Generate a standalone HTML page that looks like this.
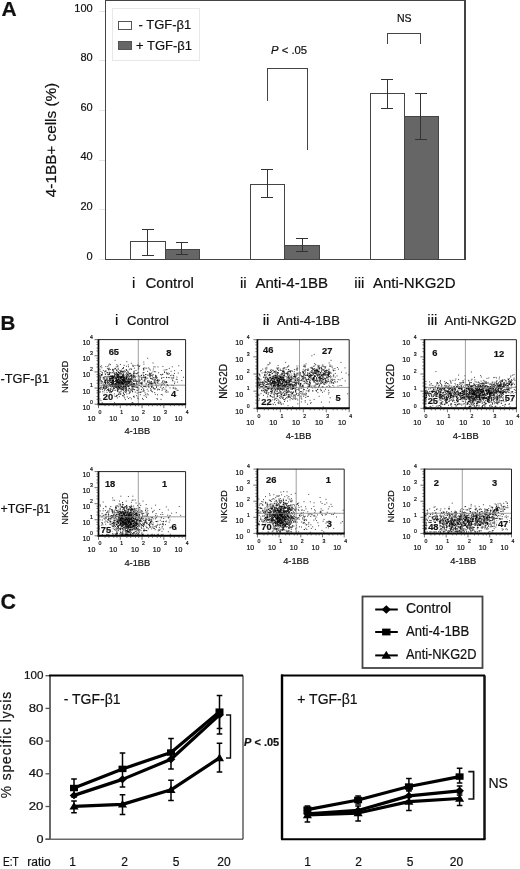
<!DOCTYPE html><html><head><meta charset="utf-8"><title>Figure</title>
<style>html,body{margin:0;padding:0;background:#fff}svg{display:block}text{font-family:"Liberation Sans", sans-serif;fill:#111;stroke:#111;stroke-width:0.2px}.c text{font-family:"Liberation Sans", sans-serif}</style></head><body>
<svg width="520" height="869" viewBox="0 0 520 869">
<rect width="520" height="869" fill="#fff"/>
<g id="A" shape-rendering="crispEdges">
<text x="1.5" y="15.7" font-size="21" font-weight="bold">A</text>
<rect x="105.5" y="0.8" width="359.5" height="258.4" fill="none" stroke="#444" stroke-width="1.3"/>
<text x="92.7" y="259.5" font-size="11" text-anchor="end">0</text>
<path d="M99 259.2H105" stroke="#e4e4e4" stroke-width="1"/>
<text x="92.7" y="209.9" font-size="11" text-anchor="end">20</text>
<path d="M99 209.6H105" stroke="#e4e4e4" stroke-width="1"/>
<text x="92.7" y="160.3" font-size="11" text-anchor="end">40</text>
<path d="M99 160H105" stroke="#e4e4e4" stroke-width="1"/>
<text x="92.7" y="110.7" font-size="11" text-anchor="end">60</text>
<path d="M99 110.4H105" stroke="#e4e4e4" stroke-width="1"/>
<text x="92.7" y="61.1" font-size="11" text-anchor="end">80</text>
<path d="M99 60.8H105" stroke="#e4e4e4" stroke-width="1"/>
<text x="92.7" y="11.5" font-size="11" text-anchor="end">100</text>
<path d="M99 11.2H105" stroke="#e4e4e4" stroke-width="1"/>
<text transform="translate(56,140) rotate(-90)" font-size="15.3" text-anchor="middle">4-1BB+ cells (%)</text>
<rect x="112.5" y="8.5" width="87" height="51.5" fill="#fff" stroke="#e8e8e8" stroke-width="1"/>
<rect x="118.5" y="21" width="12.5" height="8.5" fill="#fff" stroke="#555" stroke-width="1"/>
<rect x="118.5" y="41" width="12.5" height="8.5" fill="#666" stroke="#555" stroke-width="1"/>
<text x="138.5" y="29" font-size="13">- TGF-β1</text>
<text x="136" y="49.5" font-size="13">+ TGF-β1</text>
<rect x="130" y="241.7" width="35" height="17.5" fill="#fff" stroke="#444" stroke-width="1"/>
<rect x="165" y="249" width="34.8" height="10.2" fill="#666" stroke="#444" stroke-width="1"/>
<rect x="250" y="184.9" width="34.7" height="74.3" fill="#fff" stroke="#444" stroke-width="1"/>
<rect x="284.7" y="245" width="35" height="14.2" fill="#666" stroke="#444" stroke-width="1"/>
<rect x="370" y="93" width="34.5" height="166.2" fill="#fff" stroke="#444" stroke-width="1"/>
<rect x="404.5" y="116.2" width="34.3" height="143" fill="#666" stroke="#444" stroke-width="1"/>
<path d="M147.7 229V255.4M141.7 229h12M141.7 255.4h12" fill="none" stroke="#333" stroke-width="1"/>
<path d="M181.8 242.5V254.6M175.8 242.5h12M175.8 254.6h12" fill="none" stroke="#333" stroke-width="1"/>
<path d="M267 169.2V197.3M261 169.2h12M261 197.3h12" fill="none" stroke="#333" stroke-width="1"/>
<path d="M302 238.8V251.7M296 238.8h12M296 251.7h12" fill="none" stroke="#333" stroke-width="1"/>
<path d="M387.2 79.2V108M381.2 79.2h12M381.2 108h12" fill="none" stroke="#333" stroke-width="1"/>
<path d="M420.7 93V139.5M414.7 93h12M414.7 139.5h12" fill="none" stroke="#333" stroke-width="1"/>
<path d="M267 101V68.7H307.6V149.5" fill="none" stroke="#444" stroke-width="1"/>
<path d="M387.3 43.5V33.7H420.8V43.5" fill="none" stroke="#444" stroke-width="1"/>
<text x="271" y="53.8" font-size="11.3"><tspan font-style="italic">P</tspan> &lt; .05</text>
<text x="397" y="22.3" font-size="10.5">NS</text>
<text x="132" y="287.5" font-size="15">i</text><text x="145.5" y="287.5" font-size="15">Control</text>
<text x="240" y="287.5" font-size="15">ii</text><text x="255.5" y="287.5" font-size="15">Anti-4-1BB</text>
<text x="354.3" y="287.5" font-size="15">iii</text><text x="373" y="287.5" font-size="15">Anti-NKG2D</text>
</g>
<g id="B">
<text x="0.5" y="329.8" font-size="20.5" font-weight="bold">B</text>
<text x="115" y="324.5" font-size="15">i</text><text x="127" y="324.5" font-size="13">Control</text>
<text x="262.7" y="324.5" font-size="15">ii</text><text x="277" y="324.5" font-size="13">Anti-4-1BB</text>
<text x="427.3" y="324.5" font-size="15">iii</text><text x="444.5" y="324.5" font-size="13.1">Anti-NKG2D</text>
<text x="0.5" y="383" font-size="13.5" textLength="48.5" lengthAdjust="spacingAndGlyphs">-TGF-β1</text>
<text x="0.5" y="513" font-size="13.5" textLength="50" lengthAdjust="spacingAndGlyphs">+TGF-β1</text>
<path d="M115.7 384.1h1M116.0 379.1h1M109.6 379.7h1M128.0 383.5h1M127.3 382.5h1M121.6 382.1h1M103.0 386.1h1M122.6 384.0h1M102.8 370.5h1M110.0 378.2h1M120.7 380.7h1M122.7 377.1h1M120.8 383.4h1M112.0 391.3h1M123.0 388.2h1M112.4 376.6h1M114.9 380.4h1M123.7 382.5h1M114.0 375.3h1M113.3 388.3h1M110.7 382.5h1M121.8 372.1h1M118.4 388.8h1M99.9 379.1h1M117.0 376.1h1M122.5 380.6h1M104.8 386.0h1M124.0 386.7h1M131.0 383.2h1M119.1 373.2h1M123.5 377.3h1M113.9 373.4h1M109.3 377.8h1M129.6 368.8h1M104.9 382.4h1M131.0 384.5h1M100.9 365.9h1M121.2 376.6h1M107.9 386.9h1M127.9 381.9h1M120.2 383.6h1M132.3 384.7h1M122.7 384.3h1M103.9 388.7h1M126.6 384.2h1M100.2 377.2h1M125.6 370.1h1M116.3 387.1h1M106.2 390.7h1M123.0 380.1h1M120.9 384.9h1M119.1 387.9h1M112.0 378.5h1M127.4 381.2h1M110.1 386.7h1M131.2 378.3h1M105.6 380.2h1M116.7 379.2h1M130.6 374.8h1M129.3 373.4h1M110.9 384.8h1M128.2 386.2h1M121.1 381.9h1M119.4 384.5h1M116.4 382.7h1M123.2 381.0h1M124.9 384.4h1M136.1 382.9h1M114.2 378.8h1M117.9 386.5h1M115.0 383.3h1M134.5 365.6h1M107.9 382.5h1M121.6 382.4h1M114.1 384.9h1M120.5 377.9h1M139.9 383.1h1M113.0 380.4h1M116.0 380.6h1M99.5 378.1h1M127.1 374.0h1M117.4 386.7h1M125.7 389.9h1M102.7 378.9h1M114.9 384.7h1M127.8 364.9h1M127.8 372.3h1M124.1 372.0h1M119.6 388.2h1M116.7 382.1h1M125.2 381.8h1M117.2 390.2h1M127.4 379.2h1M142.7 374.1h1M126.2 379.4h1M119.2 385.2h1M120.0 384.8h1M104.3 371.9h1M123.5 375.2h1M108.8 372.2h1M129.4 385.5h1M131.3 375.4h1M118.0 374.2h1M124.9 390.5h1M110.0 390.4h1M126.9 379.9h1M100.3 389.4h1M117.1 377.4h1M121.6 383.5h1M131.5 374.9h1M128.2 389.9h1M131.1 379.9h1M111.3 387.1h1M119.0 381.7h1M130.8 379.4h1M101.3 385.9h1M120.9 377.3h1M117.9 386.0h1M118.7 389.0h1M117.4 387.2h1M131.4 390.7h1M112.0 386.3h1M101.1 374.5h1M100.3 387.4h1M106.9 380.9h1M116.3 380.8h1M112.7 382.4h1M134.1 381.3h1M122.8 387.0h1M116.2 373.4h1M113.0 387.4h1M103.2 377.4h1M127.1 385.8h1M118.1 385.8h1M119.5 373.9h1M103.9 377.2h1M126.3 377.6h1M109.9 376.4h1M104.2 380.3h1M107.4 383.2h1M112.2 369.3h1M124.5 379.3h1M99.5 375.7h1M120.6 378.2h1M125.0 385.5h1M124.0 383.0h1M130.0 385.0h1M122.1 368.5h1M126.1 388.9h1M115.3 378.2h1M135.5 370.5h1M122.2 395.5h1M109.7 385.1h1M135.0 380.3h1M123.1 386.4h1M109.8 380.5h1M120.6 386.0h1M117.7 379.8h1M108.9 378.8h1M126.0 381.6h1M110.3 376.0h1M142.0 387.8h1M123.7 365.4h1M123.6 383.9h1M133.2 383.6h1M117.4 384.1h1M100.5 387.2h1M120.9 376.8h1M129.9 391.9h1M105.4 377.0h1M120.6 382.1h1M114.4 375.2h1M137.1 387.2h1M107.3 372.9h1M133.3 386.9h1M134.4 385.9h1M110.2 382.6h1M99.5 376.5h1M117.5 384.1h1M111.5 380.3h1M122.1 383.3h1M123.7 382.3h1M115.1 385.7h1M118.4 376.0h1M112.4 381.0h1M117.0 381.9h1M118.0 382.1h1M116.8 373.4h1M121.8 387.3h1M121.9 379.9h1M122.0 375.2h1M100.9 381.4h1M109.6 385.4h1M108.2 365.2h1M108.6 390.5h1M114.6 372.8h1M111.1 384.1h1M122.5 382.1h1M131.4 385.2h1M117.8 384.6h1M132.9 386.8h1M127.2 374.5h1M116.7 385.4h1M115.3 387.4h1M123.4 386.4h1M116.1 396.3h1M129.2 379.7h1M118.8 396.6h1M114.9 386.2h1M126.8 381.0h1M107.5 382.1h1M121.2 387.8h1M125.0 381.1h1M125.7 384.2h1M119.9 381.3h1M115.8 385.1h1M108.5 377.2h1M118.0 372.2h1M114.1 368.9h1M111.9 384.4h1M123.1 380.7h1M115.9 372.5h1M134.5 384.1h1M127.8 375.7h1M116.3 370.1h1M125.0 386.6h1M100.9 380.7h1M123.7 370.4h1M101.6 374.6h1M112.3 372.6h1M118.3 382.5h1M123.7 385.2h1M131.5 388.0h1M106.2 378.0h1M108.5 374.5h1M117.3 381.0h1M122.4 371.5h1M106.9 380.9h1M116.2 379.1h1M117.4 376.4h1M124.3 383.1h1M117.2 377.0h1M116.4 364.7h1M109.2 381.2h1M104.5 382.2h1M119.3 372.7h1M115.7 379.1h1M122.1 384.7h1M117.7 375.9h1M116.7 380.6h1M124.6 382.8h1M111.5 372.9h1M114.6 376.6h1M108.0 380.3h1M113.6 381.6h1M122.7 378.5h1M138.9 379.1h1M127.9 381.7h1M128.0 366.7h1M111.2 382.5h1M123.4 395.0h1M120.9 388.7h1M124.9 386.7h1M122.6 380.1h1M122.6 374.5h1M128.6 374.9h1M120.2 393.7h1M116.0 381.1h1M128.5 381.2h1M110.7 382.5h1M123.2 385.3h1M111.0 391.5h1M133.0 381.1h1M120.4 378.4h1M130.7 376.8h1M124.1 378.1h1M111.8 385.3h1M130.0 380.9h1M111.9 385.9h1M117.6 382.9h1M131.7 387.8h1M113.3 394.7h1M118.0 385.7h1M112.2 380.7h1M102.3 391.7h1M130.3 373.7h1M104.5 371.3h1M128.6 378.2h1M117.5 379.1h1M116.9 374.5h1M118.2 372.4h1M117.4 382.9h1M122.2 379.6h1M109.9 382.0h1M113.6 390.4h1M124.9 380.3h1M113.8 376.8h1M109.6 378.9h1M120.7 384.1h1M123.1 393.6h1M111.7 381.1h1M143.2 369.8h1M113.3 382.0h1M119.4 383.4h1M115.9 383.2h1M118.5 385.6h1M101.0 375.7h1M118.0 374.8h1M108.6 384.8h1M112.2 384.8h1M124.7 382.8h1M122.6 380.4h1M105.3 380.8h1M122.1 377.8h1M117.1 385.5h1M110.1 384.8h1M134.8 377.7h1M119.3 380.1h1M131.9 382.9h1M126.1 376.9h1M117.9 380.9h1M102.0 389.6h1M126.1 370.5h1M124.7 380.2h1M122.0 383.2h1M104.5 379.7h1M131.4 377.6h1M108.8 372.8h1M107.0 383.0h1M133.2 383.6h1M120.2 394.4h1M113.3 377.0h1M122.8 384.3h1M108.9 374.0h1M120.6 382.5h1M106.2 379.8h1M113.1 383.8h1M116.9 380.5h1M114.8 387.3h1M130.5 378.8h1M125.6 376.5h1M118.6 385.5h1M131.6 378.7h1M117.3 382.2h1M104.5 381.1h1M111.9 383.2h1M107.8 369.1h1M118.3 382.6h1M113.1 386.3h1M115.5 377.4h1M122.3 371.6h1M111.9 380.9h1M125.6 380.0h1M120.8 377.1h1M120.7 391.0h1M111.8 395.2h1M112.2 381.1h1M119.6 387.1h1M106.9 368.4h1M123.5 385.8h1M123.6 396.8h1M119.8 382.5h1M126.4 383.2h1M133.0 373.6h1M114.6 360.3h1M125.3 378.8h1M126.3 393.9h1M117.9 379.5h1M113.5 376.0h1M112.3 384.8h1M118.3 381.4h1M116.4 386.5h1M122.4 380.1h1M124.0 380.1h1M107.6 389.7h1M122.2 375.3h1M127.7 383.1h1M103.9 390.7h1M121.0 386.3h1M119.8 380.1h1M104.1 386.8h1M118.3 379.3h1M121.2 381.5h1M124.1 378.8h1M117.7 368.2h1M114.2 385.1h1M130.0 378.8h1M116.9 390.5h1M115.1 385.4h1M133.1 381.2h1M129.0 376.7h1M119.9 380.5h1M119.0 387.8h1M139.5 377.0h1M112.8 384.0h1M108.5 384.0h1M123.1 379.3h1M122.8 371.7h1M124.8 371.7h1M111.7 377.7h1M114.4 386.2h1M118.7 378.6h1M122.9 390.5h1M118.1 383.2h1M129.2 382.6h1M106.4 395.9h1M137.9 369.1h1M117.6 383.5h1M126.7 385.0h1M115.6 374.7h1M118.9 387.2h1M108.2 374.8h1M117.8 369.4h1M115.7 378.4h1M122.1 376.8h1M110.1 378.6h1M117.6 377.0h1M118.1 385.5h1M128.7 391.2h1M110.9 378.5h1M99.5 392.4h1M111.5 380.8h1M122.7 372.8h1M122.2 380.8h1M101.6 382.8h1M128.8 369.8h1M125.3 382.3h1M122.3 383.6h1M129.7 379.7h1M125.9 378.5h1M124.6 376.1h1M117.0 391.4h1M122.0 380.1h1M107.7 376.3h1M119.7 386.6h1M121.8 384.1h1M117.6 389.1h1M114.5 377.7h1M126.0 381.4h1M115.5 377.5h1M115.7 384.7h1M121.2 373.7h1M121.8 382.1h1M109.0 385.6h1M115.5 379.0h1M125.2 388.9h1M111.8 383.6h1M110.1 394.9h1M113.6 388.2h1M112.2 385.9h1M138.0 365.8h1M114.1 384.0h1M117.2 377.0h1M137.4 381.5h1M103.2 386.1h1M102.5 387.9h1M112.8 381.9h1M129.3 381.7h1M105.5 370.8h1M128.6 385.4h1M110.7 386.2h1M122.5 384.9h1M99.5 379.2h1M126.1 385.4h1M125.9 366.3h1M119.5 384.0h1M141.0 375.3h1M115.0 381.2h1M126.0 378.3h1M128.3 376.3h1M120.4 377.8h1M119.4 376.9h1M103.6 387.6h1M120.7 377.6h1M119.8 386.9h1M109.2 380.3h1M122.9 384.2h1M115.0 368.4h1M129.2 383.0h1M118.1 379.3h1M120.4 378.4h1M108.8 376.6h1M112.6 377.3h1M107.6 384.8h1M106.2 385.0h1M108.9 383.1h1M130.4 382.2h1M111.4 381.3h1M119.3 370.6h1M112.5 382.0h1M113.8 381.5h1M124.6 385.6h1M126.2 384.5h1M115.4 380.9h1M115.6 379.1h1M116.4 370.7h1M115.0 380.9h1M109.2 380.9h1M122.6 380.0h1M136.7 365.4h1M116.1 370.0h1M126.8 396.9h1M99.5 381.8h1M122.7 379.2h1M123.0 367.5h1M125.7 383.2h1M118.2 377.5h1M123.7 378.1h1M120.0 377.9h1M119.8 385.5h1M110.1 380.8h1M123.6 381.9h1M129.2 392.9h1M109.8 369.5h1M125.7 390.2h1M126.3 385.9h1M112.4 376.7h1M126.0 375.5h1M101.7 375.0h1M140.4 392.5h1M111.8 376.6h1M120.1 376.5h1M129.8 380.5h1M108.2 388.9h1M112.8 382.3h1M117.9 379.1h1M120.9 376.8h1M101.4 367.8h1M106.6 376.4h1M117.8 381.3h1M123.0 381.7h1M110.9 376.7h1M99.5 380.0h1M122.4 384.2h1M116.9 380.0h1M126.4 381.1h1M124.6 384.5h1M119.9 388.8h1M112.8 378.8h1M110.7 376.2h1M132.0 391.6h1M118.2 384.4h1M128.6 385.8h1M128.8 373.4h1M112.2 383.7h1M130.9 381.6h1M110.3 378.9h1M112.1 375.9h1M131.5 377.2h1M118.2 394.0h1M128.7 383.0h1M112.5 383.5h1M132.6 384.7h1M129.4 381.6h1M122.6 379.8h1M121.8 388.8h1M105.1 380.6h1M120.2 377.6h1M115.2 385.7h1M136.0 384.8h1M120.9 371.7h1M135.3 381.5h1M117.7 374.3h1M117.5 374.4h1M118.6 383.8h1M118.3 382.7h1M110.3 389.6h1M112.1 370.1h1M116.3 376.4h1M108.9 378.9h1M120.6 373.9h1M116.8 389.6h1M124.1 380.1h1M119.1 380.3h1M117.6 385.4h1M117.2 366.6h1M117.8 375.7h1M123.9 377.3h1M119.3 394.1h1M108.6 374.3h1M105.3 366.6h1M101.1 383.2h1M112.3 369.8h1M104.7 384.7h1M111.0 378.8h1M121.0 389.1h1M135.5 387.2h1M119.3 382.1h1M134.2 389.6h1M115.2 383.7h1M120.6 381.3h1M113.5 373.0h1M113.2 371.7h1M129.0 384.2h1M107.1 389.4h1M126.0 369.5h1M134.6 385.9h1M136.6 373.6h1M122.8 383.5h1M119.8 382.0h1M127.5 372.0h1M106.8 372.6h1M113.0 377.4h1M121.3 382.6h1M118.3 376.9h1M114.0 386.7h1M124.9 381.6h1M115.1 390.3h1M112.7 384.9h1M128.4 379.4h1M125.4 374.3h1M127.1 382.2h1M103.7 385.0h1M110.0 388.7h1M111.9 380.0h1M120.5 379.0h1M120.3 377.7h1M124.0 381.0h1M119.9 364.5h1M128.5 381.2h1M102.0 381.6h1M122.2 387.4h1M108.3 390.3h1M116.6 395.4h1M116.7 385.1h1M114.7 374.3h1M127.9 386.4h1M131.8 386.1h1M112.8 371.0h1M112.1 376.9h1M110.7 384.5h1M121.0 379.4h1M119.6 380.1h1M119.9 385.5h1M126.6 376.9h1M104.4 389.6h1M119.0 387.6h1M103.2 379.0h1M118.2 372.4h1M113.4 385.3h1M127.7 390.6h1M110.2 372.6h1M122.7 386.6h1M119.7 373.2h1M125.0 385.8h1M123.0 378.1h1M120.7 385.7h1M113.0 369.9h1M121.0 383.9h1M118.1 386.3h1M112.7 380.5h1M115.3 384.4h1M132.4 379.5h1M136.5 390.2h1M125.1 384.5h1M133.9 379.9h1M117.0 374.6h1M122.3 389.1h1M122.8 383.5h1M116.2 382.0h1M105.2 387.3h1M114.3 374.4h1M111.2 376.1h1M125.7 387.3h1M105.8 386.6h1M126.0 377.5h1M104.6 376.5h1M112.3 383.1h1M114.8 368.8h1M120.1 371.8h1M126.1 373.8h1M111.8 375.9h1M113.1 388.8h1M125.7 384.6h1M120.9 371.7h1M113.3 377.7h1M109.2 384.1h1M111.3 376.7h1M108.6 368.7h1M123.4 389.0h1M119.6 375.1h1M128.9 382.8h1M126.3 389.9h1M128.1 378.4h1M127.5 385.7h1M104.2 378.6h1M105.2 380.3h1M123.2 374.6h1M99.5 388.8h1M121.4 389.8h1M106.1 387.4h1M136.7 393.0h1M116.1 382.6h1M116.6 387.0h1M127.3 381.5h1M105.8 385.4h1M117.0 388.7h1M129.5 397.6h1M144.3 378.9h1M130.9 398.9h1M115.9 386.9h1M145.2 394.3h1M133.8 371.1h1M103.6 385.2h1M131.6 402.7h1M110.4 393.2h1M138.1 368.0h1M111.1 384.5h1M116.6 381.6h1M133.0 375.7h1M132.9 377.3h1M115.7 387.8h1M115.3 385.6h1M152.2 383.2h1M122.5 389.6h1M118.8 392.7h1M103.2 388.6h1M116.3 375.8h1M155.1 375.3h1M154.9 388.9h1M149.7 374.2h1M145.4 396.1h1M123.0 381.8h1M166.8 384.6h1M117.8 377.3h1M132.6 386.0h1M128.0 398.5h1M119.4 387.3h1M149.8 374.0h1M142.7 399.5h1M102.0 373.1h1M107.3 366.4h1M132.7 366.3h1M133.5 396.1h1M112.5 380.6h1M125.9 387.9h1M119.1 383.1h1M115.7 384.0h1M105.1 383.6h1M157.6 383.7h1M103.6 385.3h1M108.5 368.1h1M112.5 389.6h1M131.5 382.1h1M109.2 373.3h1M147.9 385.2h1M108.8 364.0h1M101.7 402.7h1M105.5 382.3h1M128.6 381.6h1M120.3 370.6h1M107.1 398.2h1M112.1 390.6h1M129.4 392.3h1M105.9 388.4h1M131.6 376.4h1M133.1 374.9h1M111.5 382.8h1M108.0 369.8h1M117.8 389.9h1M118.1 394.4h1M105.3 371.2h1M151.4 386.6h1M141.1 375.6h1M138.7 385.3h1M136.0 383.2h1M145.5 377.2h1M108.6 369.7h1M144.7 376.4h1M107.3 374.5h1M117.4 371.6h1M120.1 377.4h1M115.6 374.4h1M125.6 378.9h1M127.0 385.2h1M130.8 363.3h1M115.9 375.8h1M138.2 368.8h1M112.9 380.4h1M119.3 391.9h1M117.5 391.7h1M100.1 366.7h1M145.7 386.9h1M133.3 384.1h1M133.2 372.1h1M141.1 378.2h1M141.8 383.8h1M144.2 381.8h1M118.3 385.2h1M117.8 378.1h1M126.7 384.3h1M150.8 383.4h1M157.0 399.2h1M154.2 392.6h1M127.2 384.2h1M122.6 376.4h1M123.9 377.2h1M152.9 387.8h1M117.4 365.8h1M124.1 379.3h1M106.5 372.8h1M99.5 388.1h1M124.5 381.7h1M149.6 384.2h1M127.8 379.7h1M114.7 396.5h1M142.0 398.4h1M119.1 383.3h1M110.0 391.7h1M101.3 388.1h1M143.6 395.7h1M109.0 392.8h1M112.9 376.2h1M102.5 393.4h1M153.0 377.7h1M112.1 379.9h1M167.6 392.0h1M115.8 366.9h1M113.6 393.7h1M156.8 380.6h1M113.2 378.4h1M106.5 392.6h1M129.9 376.1h1M138.3 383.1h1M105.0 388.6h1M139.3 365.8h1M156.0 387.5h1M137.9 366.3h1M112.8 379.9h1M143.3 369.9h1M110.0 364.7h1M120.9 386.1h1M99.5 377.7h1M133.7 397.3h1M136.3 380.3h1M105.0 374.6h1M113.7 384.3h1M124.2 398.0h1M129.9 373.4h1M151.3 391.5h1M126.7 376.5h1M99.5 373.8h1M140.5 375.8h1M102.6 384.8h1M129.1 388.5h1M136.1 395.7h1M110.7 391.8h1M108.2 389.2h1M128.0 385.2h1M141.5 382.8h1M143.9 390.9h1M127.3 377.9h1M112.2 378.3h1M121.6 382.8h1M175.7 388.7h1M138.1 375.3h1M112.9 380.1h1M128.3 373.7h1M152.4 377.9h1M143.3 362.0h1M124.9 385.5h1M128.3 388.4h1M129.8 384.5h1M130.2 381.2h1M111.0 377.8h1M156.4 398.6h1M124.0 394.6h1M116.8 375.1h1M115.5 384.7h1M176.4 377.1h1M125.8 385.5h1M124.4 391.4h1M155.2 371.8h1M127.7 380.6h1M131.1 369.2h1M133.9 384.7h1M126.3 361.7h1M118.6 376.2h1M101.0 374.8h1M136.9 387.9h1M124.6 387.6h1M114.7 383.6h1M125.7 388.0h1M123.8 381.7h1M122.7 377.2h1M163.0 387.6h1M132.3 402.7h1M148.9 369.0h1M136.8 390.5h1M157.0 394.8h1M138.1 372.4h1M110.2 385.4h1M133.6 373.8h1M118.5 379.4h1M126.0 386.0h1M120.1 371.9h1M146.1 397.4h1M123.2 392.2h1M132.6 388.9h1M133.2 376.1h1M134.8 392.1h1M109.8 400.7h1M160.5 399.4h1M158.8 389.7h1M119.2 377.6h1M111.2 384.0h1M124.4 389.0h1M163.7 382.8h1M136.5 387.3h1M129.6 381.1h1M122.9 375.6h1M128.0 382.8h1M130.4 375.3h1M125.7 383.4h1M135.3 373.4h1M132.1 391.8h1M135.2 379.7h1M116.6 380.9h1M137.4 397.0h1M122.3 377.2h1M131.4 384.8h1M109.6 376.4h1M123.3 389.0h1M104.7 373.8h1M133.5 372.0h1M126.9 386.2h1M123.1 373.8h1M124.0 380.0h1M130.7 375.5h1M143.6 367.9h1M122.0 383.1h1M141.3 377.5h1M134.3 377.9h1M137.5 398.6h1M118.2 387.0h1M109.2 391.8h1M145.6 383.3h1M105.7 386.6h1M144.5 392.8h1M138.8 366.5h1M113.4 395.8h1M104.2 393.2h1M157.0 389.9h1M144.0 380.0h1M104.2 382.1h1M121.6 382.6h1M136.8 381.7h1M128.3 386.8h1M124.9 399.6h1M132.5 383.8h1M121.5 377.4h1M147.9 384.4h1M106.7 377.9h1M122.7 379.0h1M143.4 372.5h1M133.4 384.3h1M105.0 383.4h1M123.4 387.5h1M117.3 385.7h1M138.3 392.4h1M124.8 377.6h1M143.4 364.2h1M111.4 389.0h1M136.1 373.7h1M127.6 374.9h1M125.9 391.1h1M137.6 364.3h1M138.1 367.0h1M144.4 386.6h1M163.3 377.5h1M125.1 392.4h1M114.1 376.7h1M118.7 382.3h1M106.6 387.4h1M134.2 383.6h1M153.9 380.1h1M147.2 378.1h1M137.8 365.6h1M128.4 381.4h1M116.6 377.5h1M119.1 376.5h1M115.7 378.3h1M107.0 381.8h1M138.3 380.7h1M116.6 395.2h1M141.6 391.3h1M144.6 380.1h1M122.8 393.0h1M115.6 381.9h1M131.4 386.4h1M120.3 391.9h1M122.0 389.5h1M143.2 388.9h1M137.5 372.6h1M102.7 377.4h1M133.1 396.5h1M104.2 385.8h1M110.5 376.4h1M120.3 389.2h1M128.6 393.6h1M108.2 391.0h1M140.8 383.6h1M133.1 377.9h1M106.5 379.4h1M114.1 402.7h1M116.8 397.9h1M128.4 385.8h1M137.6 376.0h1M140.6 386.4h1M99.2 388.4h1M134.4 387.1h1M151.9 379.3h1M133.7 389.7h1M109.7 393.8h1M100.3 371.3h1M133.9 373.2h1M123.0 368.2h1M126.2 372.8h1M130.8 369.2h1M132.6 380.6h1M126.1 382.4h1M127.2 371.1h1M99.5 383.3h1M109.1 378.9h1M132.3 365.1h1M112.0 377.5h1M107.0 385.9h1M122.6 375.6h1M108.3 390.3h1M113.8 388.3h1M132.6 366.0h1M106.6 383.0h1M130.8 390.0h1M138.6 392.3h1M118.6 381.1h1M138.2 379.2h1M143.0 368.7h1M136.1 381.4h1M130.3 383.2h1M106.7 378.8h1M150.7 375.6h1M99.5 375.3h1M104.6 381.8h1M118.3 374.8h1M110.7 392.4h1M100.5 400.6h1M115.8 373.2h1M138.4 388.1h1M107.3 389.7h1M144.1 380.7h1M102.9 387.6h1M140.6 382.8h1M132.1 389.9h1M156.5 380.7h1M116.8 382.7h1M145.5 374.5h1M147.2 358.3h1M138.6 376.9h1M132.8 389.2h1M104.9 382.2h1M129.1 388.3h1M109.2 374.1h1M121.7 381.0h1M99.6 391.4h1M115.9 395.9h1M139.5 383.2h1M137.4 373.0h1M119.5 377.8h1M103.4 383.2h1M122.5 395.9h1M109.4 378.8h1M132.2 386.6h1M125.5 378.7h1M133.4 386.2h1M99.5 380.6h1M101.6 372.4h1M127.5 383.5h1M126.9 375.1h1M121.6 374.8h1M131.5 389.2h1M154.8 394.4h1M111.3 378.9h1M109.0 385.8h1M158.7 389.4h1M103.0 387.6h1M125.0 385.7h1M155.3 375.6h1M110.6 400.7h1M130.8 376.0h1M99.5 369.3h1M125.8 391.9h1M122.6 376.8h1M112.4 400.1h1M125.4 388.6h1M118.1 387.5h1M138.9 381.7h1M117.2 381.3h1M108.6 381.1h1M119.9 384.9h1M147.7 394.8h1M117.4 388.4h1M130.0 389.9h1M125.4 385.4h1M117.0 375.9h1M139.8 394.7h1M136.3 386.9h1M129.5 378.9h1M128.4 378.0h1M108.6 394.5h1M99.5 398.9h1M112.8 382.8h1M116.4 384.4h1M121.4 376.3h1M143.3 375.9h1M116.4 388.0h1M115.9 379.1h1M131.1 379.7h1M103.8 382.1h1M152.1 391.9h1M140.7 386.8h1M144.8 377.5h1M150.8 381.9h1M166.2 392.2h1M146.7 389.3h1M167.9 385.7h1M145.1 386.3h1M153.6 382.5h1M151.5 384.6h1M169.5 387.9h1M152.3 387.0h1M173.9 373.5h1M174.1 370.7h1M162.1 384.2h1M174.3 382.0h1M148.8 374.4h1M138.7 385.4h1M151.9 375.0h1M161.9 374.6h1M149.3 376.8h1M176.5 390.2h1M152.9 369.0h1M158.6 380.5h1M159.5 384.0h1M150.8 386.5h1M165.9 381.5h1M149.7 376.6h1M164.0 372.3h1M152.9 374.8h1M136.9 384.2h1M154.7 380.3h1M166.4 369.5h1M154.1 382.0h1M165.8 372.4h1M164.3 381.5h1M172.6 388.0h1M162.1 395.0h1M155.0 377.0h1M150.6 373.4h1M154.6 366.9h1M153.9 383.0h1M167.9 377.6h1M173.1 375.4h1M153.3 366.9h1M145.1 374.5h1M174.0 383.6h1M141.0 383.6h1M161.1 378.4h1M155.3 377.9h1M148.1 367.9h1M153.9 388.8h1M173.2 378.1h1M145.5 378.6h1M166.4 382.4h1M147.6 382.5h1M152.4 383.5h1M149.8 370.0h1M155.7 385.2h1M141.0 379.3h1M166.1 377.4h1M146.8 393.9h1M165.5 387.0h1M143.0 391.1h1M134.0 376.5h1M164.4 389.1h1M143.2 375.5h1M157.5 366.9h1M163.1 383.8h1M149.3 383.7h1M164.8 382.1h1M161.6 390.3h1M149.0 381.1h1M148.4 387.0h1M149.9 383.2h1M156.7 380.5h1M176.6 379.4h1M172.9 385.6h1M171.6 378.9h1M166.7 385.1h1M147.3 381.8h1M153.4 379.8h1M171.4 375.1h1M133.9 368.2h1M149.3 375.6h1M155.2 383.8h1M177.1 382.1h1M160.8 375.0h1M162.3 389.2h1M171.8 366.8h1M166.2 390.7h1M165.4 369.9h1M151.2 384.0h1M160.2 374.5h1M143.8 386.5h1M138.3 389.7h1M155.3 382.0h1M138.3 376.0h1M163.6 370.1h1M180.9 370.5h1M139.7 380.3h1M161.0 384.9h1M150.4 378.6h1M152.0 376.1h1M122.8 386.5h1M158.1 381.1h1M147.1 381.7h1M154.8 379.5h1M168.8 368.4h1M158.1 372.8h1M151.0 390.1h1M141.5 379.3h1M147.6 386.4h1M142.8 368.7h1M161.4 377.6h1M151.0 387.3h1M143.9 377.5h1M156.8 382.8h1M148.5 387.0h1M183.0 377.3h1M178.3 365.8h1M172.6 377.7h1M156.7 377.7h1M147.1 371.4h1M150.1 388.7h1M169.2 377.7h1M148.4 375.3h1M140.0 392.1h1M163.3 380.8h1M148.9 373.1h1M171.4 385.2h1M143.1 386.6h1M141.2 384.3h1M143.0 377.2h1M161.2 382.9h1M167.6 374.4h1M174.7 389.0h1M154.9 383.1h1M145.3 379.0h1M138.5 380.6h1M157.5 389.0h1M166.8 385.5h1M150.5 378.5h1M150.7 381.5h1M130.9 385.2h1M135.4 376.5h1M155.3 376.5h1M175.8 379.3h1M174.6 387.9h1M148.8 382.7h1M171.2 377.8h1M156.1 376.2h1M155.7 377.6h1M156.0 386.7h1M172.4 380.9h1M157.5 385.8h1M151.4 372.9h1M168.9 373.7h1M166.6 373.5h1M177.8 373.0h1M165.6 390.1h1M143.0 390.0h1M144.7 368.1h1M164.0 384.7h1M152.5 363.0h1M154.3 377.9h1M150.3 378.1h1M132.7 376.2h1M177.5 390.4h1M150.5 375.2h1M159.9 387.1h1M164.0 372.1h1M157.0 380.9h1M173.0 388.0h1M161.5 388.2h1M150.1 390.3h1M149.7 382.7h1M166.5 373.9h1M146.2 368.2h1M157.1 379.6h1M150.9 383.3h1M128.6 379.8h1M156.1 378.2h1M164.9 391.8h1M149.4 373.7h1M147.5 380.6h1M162.3 374.2h1M167.5 373.1h1M165.3 382.9h1M160.8 394.5h1M151.7 378.9h1M160.9 385.8h1M138.3 381.8h1M145.7 384.2h1M172.1 380.3h1M153.7 381.2h1M118.1 385.2h1M162.0 381.1h1M150.1 375.1h1M152.8 388.2h1M153.7 389.1h1M122.9 376.9h1M158.4 379.9h1M134.3 375.5h1M170.6 371.3h1M142.6 372.6h1M148.1 384.3h1M162.4 366.4h1M173.2 376.0h1M147.7 391.2h1M154.0 371.7h1M147.0 375.1h1M142.4 377.8h1M166.0 382.4h1M137.8 398.7h1M142.6 380.8h1M155.4 385.1h1M150.9 383.1h1M181.3 380.6h1M141.5 382.2h1M145.0 377.5h1M157.3 382.3h1M151.5 385.7h1M152.6 371.2h1M166.0 377.6h1M170.1 375.6h1M162.1 382.1h1M121.3 370.0h1M141.0 389.5h1M131.4 386.1h1" stroke="#000" stroke-opacity="0.72" stroke-width="1" fill="none"/>
<path d="M138.3 339.6V404.2M98.5 385.2H185.6" stroke="#888" stroke-width="0.8" fill="none"/>
<path d="M98.5 339.6H185.6V404.2" stroke="#222" stroke-width="1" fill="none"/>
<path d="M98.5 339.1V405.2" stroke="#000" stroke-width="1.7" fill="none"/>
<path d="M97.7 404.2H186.1" stroke="#000" stroke-width="2" fill="none"/>
<path d="M98.5 404.2h-4M98.5 404.2v4M98.5 399.338h-2M105.055 404.2v2M98.5 396.494h-2M108.889 404.2v2M98.5 392.912h-2M113.72 404.2v2M98.5 390.552h-2M116.902 404.2v2M98.5 388.05h-4M120.275 404.2v4M98.5 383.188h-2M126.83 404.2v2M98.5 380.344h-2M130.664 404.2v2M98.5 376.762h-2M135.495 404.2v2M98.5 374.402h-2M138.677 404.2v2M98.5 371.9h-4M142.05 404.2v4M98.5 367.038h-2M148.605 404.2v2M98.5 364.194h-2M152.439 404.2v2M98.5 360.612h-2M157.27 404.2v2M98.5 358.252h-2M160.452 404.2v2M98.5 355.75h-4M163.825 404.2v4M98.5 350.888h-2M170.38 404.2v2M98.5 348.044h-2M174.214 404.2v2M98.5 344.462h-2M179.045 404.2v2M98.5 342.102h-2M182.227 404.2v2M98.5 339.6h-4M185.6 404.2v4" stroke="#333" stroke-width="0.7" fill="none"/>
<text x="90.2" y="409.7" font-size="7" text-anchor="end">10</text><text x="91.5" y="403.5" font-size="5.2" text-anchor="middle">0</text>
<text x="95.3" y="420.5" font-size="7" text-anchor="end">10</text><text x="100" y="413.5" font-size="5.2" text-anchor="middle">0</text>
<text x="90.2" y="393.55" font-size="7" text-anchor="end">10</text><text x="91.5" y="387.35" font-size="5.2" text-anchor="middle">1</text>
<text x="117.075" y="420.5" font-size="7" text-anchor="end">10</text><text x="121.775" y="413.5" font-size="5.2" text-anchor="middle">1</text>
<text x="90.2" y="377.4" font-size="7" text-anchor="end">10</text><text x="91.5" y="371.2" font-size="5.2" text-anchor="middle">2</text>
<text x="138.85" y="420.5" font-size="7" text-anchor="end">10</text><text x="143.55" y="413.5" font-size="5.2" text-anchor="middle">2</text>
<text x="90.2" y="361.25" font-size="7" text-anchor="end">10</text><text x="91.5" y="355.05" font-size="5.2" text-anchor="middle">3</text>
<text x="160.625" y="420.5" font-size="7" text-anchor="end">10</text><text x="165.325" y="413.5" font-size="5.2" text-anchor="middle">3</text>
<text x="90.2" y="345.1" font-size="7" text-anchor="end">10</text><text x="91.5" y="338.9" font-size="5.2" text-anchor="middle">4</text>
<text x="182.4" y="420.5" font-size="7" text-anchor="end">10</text><text x="187.1" y="413.5" font-size="5.2" text-anchor="middle">4</text>
<text transform="translate(68.2,376.9) rotate(-90)" font-size="9.4" text-anchor="middle" stroke-width="0.35">NKG2D</text>
<text x="137.35" y="434.4" font-size="9.3" text-anchor="middle" stroke-width="0.35">4-1BB</text>
<text x="113.8" y="355.4" font-size="9.3" font-weight="bold" text-anchor="middle">65</text>
<text x="168.8" y="355.6" font-size="9.3" font-weight="bold" text-anchor="middle">8</text>
<rect x="102.05" y="393.2" width="11.9" height="8" fill="#fff"/>
<text x="108" y="400.4" font-size="9.3" font-weight="bold" text-anchor="middle">20</text>
<text x="173.5" y="397.1" font-size="9.3" font-weight="bold" text-anchor="middle">4</text>
<path d="M276.3 376.3h1M283.8 384.8h1M290.8 391.8h1M296.6 389.4h1M264.8 386.5h1M265.0 377.8h1M269.1 374.6h1M268.4 392.6h1M277.1 393.5h1M279.7 370.4h1M270.5 393.7h1M291.1 381.4h1M275.4 390.9h1M283.9 381.2h1M291.6 383.0h1M266.4 372.5h1M280.8 394.2h1M280.4 383.4h1M280.8 384.3h1M262.7 382.4h1M289.8 397.6h1M273.5 385.5h1M286.6 392.8h1M284.3 380.5h1M298.5 384.7h1M279.6 402.4h1M260.9 382.6h1M266.0 392.9h1M267.7 384.0h1M282.7 380.6h1M277.5 379.9h1M270.6 376.9h1M280.8 380.6h1M266.7 379.7h1M303.2 374.3h1M272.0 378.9h1M277.9 388.0h1M270.0 384.6h1M283.9 393.8h1M271.7 377.9h1M286.4 382.3h1M271.7 380.8h1M293.8 371.8h1M275.8 394.1h1M282.3 377.4h1M271.2 389.5h1M283.5 379.9h1M271.4 373.9h1M262.9 385.2h1M284.1 379.3h1M286.4 378.1h1M282.5 368.8h1M287.9 395.2h1M288.1 382.3h1M283.8 383.0h1M279.6 382.3h1M283.8 380.4h1M277.5 379.3h1M286.9 391.8h1M287.2 385.9h1M294.6 377.1h1M302.7 369.3h1M286.6 383.6h1M282.8 372.2h1M291.8 384.5h1M279.5 389.9h1M279.9 383.4h1M288.5 382.1h1M282.4 380.0h1M271.5 382.8h1M271.2 384.4h1M275.3 378.9h1M277.0 374.3h1M286.5 386.7h1M258.4 382.9h1M273.1 386.5h1M302.3 379.6h1M276.9 376.9h1M282.2 387.4h1M281.2 383.4h1M265.7 382.1h1M267.3 380.2h1M296.3 383.2h1M269.4 375.3h1M260.5 379.3h1M302.3 380.9h1M275.6 375.6h1M272.8 389.1h1M289.7 381.3h1M268.7 387.2h1M304.7 402.1h1M294.4 382.8h1M286.2 380.1h1M269.0 378.1h1M278.5 387.1h1M295.2 391.5h1M283.6 367.5h1M295.6 385.8h1M270.2 391.5h1M268.0 380.7h1M278.5 382.4h1M277.4 368.8h1M262.0 381.9h1M286.8 382.3h1M264.4 374.1h1M264.3 390.1h1M266.5 387.8h1M264.3 375.6h1M270.6 391.4h1M269.8 381.2h1M270.8 378.9h1M289.4 378.2h1M275.4 374.1h1M269.6 383.2h1M295.2 395.0h1M263.6 381.0h1M278.5 386.8h1M283.8 375.5h1M263.7 372.4h1M297.0 373.8h1M289.3 384.3h1M288.9 371.3h1M283.0 385.3h1M277.9 385.8h1M264.6 392.4h1M264.9 381.5h1M288.2 386.2h1M296.5 382.3h1M265.0 385.0h1M284.0 371.2h1M288.7 391.0h1M268.2 388.8h1M278.9 389.2h1M271.7 388.3h1M286.0 383.0h1M274.3 381.5h1M286.3 392.5h1M276.4 388.6h1M279.2 395.8h1M292.3 387.9h1M283.1 378.9h1M259.2 388.3h1M269.5 377.9h1M290.5 384.6h1M265.3 390.7h1M274.6 389.4h1M264.9 372.3h1M270.9 388.0h1M289.5 399.9h1M275.3 375.9h1M272.6 377.1h1M296.2 387.6h1M267.4 388.4h1M278.1 380.9h1M266.8 378.2h1M266.3 386.5h1M288.0 377.7h1M263.7 383.0h1M286.1 373.2h1M277.3 375.4h1M295.5 385.2h1M258.6 378.5h1M278.7 379.0h1M278.9 385.3h1M280.3 379.5h1M295.1 388.7h1M274.3 381.6h1M270.1 372.5h1M274.0 382.8h1M273.5 375.7h1M287.9 369.5h1M284.6 387.5h1M276.7 382.4h1M287.6 382.1h1M277.2 388.5h1M277.3 396.3h1M264.5 379.6h1M274.6 383.6h1M269.9 395.7h1M285.6 369.4h1M277.6 387.2h1M292.1 385.3h1M268.6 388.1h1M262.1 383.1h1M263.7 391.9h1M286.3 397.4h1M274.4 381.7h1M272.2 390.4h1M265.0 387.4h1M273.7 387.5h1M280.8 376.9h1M272.7 370.3h1M266.9 378.3h1M289.9 379.5h1M281.0 380.8h1M262.3 386.5h1M300.8 386.7h1M292.5 386.6h1M289.5 396.8h1M258.0 377.8h1M260.0 382.6h1M273.4 377.3h1M283.6 395.5h1M294.3 394.9h1M279.5 385.6h1M295.4 389.4h1M289.8 380.3h1M273.0 378.0h1M293.2 376.6h1M280.3 384.5h1M276.8 380.6h1M283.2 377.5h1M279.7 391.7h1M271.6 390.7h1M293.0 395.2h1M267.6 394.5h1M290.4 392.7h1M289.9 381.6h1M289.5 383.9h1M272.6 378.6h1M272.9 381.6h1M259.1 385.0h1M261.6 387.0h1M295.0 391.2h1M297.6 393.5h1M306.4 382.1h1M268.2 381.5h1M266.5 392.0h1M258.4 382.8h1M289.5 386.9h1M288.6 375.4h1M273.0 381.7h1M284.1 386.8h1M296.1 374.1h1M281.9 398.3h1M293.9 384.4h1M288.8 381.2h1M294.5 379.0h1M288.3 384.4h1M269.4 384.1h1M277.6 378.1h1M280.4 376.8h1M291.9 386.3h1M290.5 387.5h1M281.8 373.3h1M274.9 382.9h1M272.6 382.2h1M274.1 379.5h1M268.1 379.4h1M265.5 389.8h1M281.8 386.2h1M288.1 380.2h1M291.4 370.6h1M271.2 383.0h1M298.5 390.5h1M288.4 388.0h1M272.2 381.7h1M271.0 383.3h1M264.1 380.7h1M272.7 385.9h1M271.3 385.2h1M284.2 386.2h1M287.8 376.5h1M279.6 381.7h1M291.0 379.7h1M282.0 373.7h1M274.8 377.8h1M278.0 378.5h1M277.7 384.2h1M266.6 387.8h1M271.4 396.7h1M291.6 387.2h1M279.6 391.9h1M282.0 371.7h1M286.3 384.5h1M294.1 385.0h1M270.1 370.5h1M266.0 393.2h1M258.4 386.2h1M306.4 383.6h1M267.6 386.3h1M285.7 385.3h1M276.2 372.0h1M284.4 387.7h1M283.1 386.1h1M280.0 388.7h1M318.8 378.9h1M281.5 374.8h1M258.4 382.7h1M294.8 376.1h1M272.8 379.0h1M261.6 372.9h1M279.2 379.5h1M275.7 376.1h1M294.3 398.0h1M268.7 372.3h1M292.9 392.4h1M302.0 376.7h1M277.3 369.3h1M283.2 373.6h1M283.2 368.7h1M268.7 399.5h1M258.4 379.2h1M301.6 394.7h1M280.1 377.3h1M282.6 378.2h1M282.3 389.8h1M279.2 390.6h1M293.3 376.7h1M275.1 375.7h1M282.5 370.3h1M266.3 367.3h1M283.6 376.1h1M292.9 387.8h1M283.6 377.0h1M259.1 375.0h1M278.3 381.9h1M275.8 382.6h1M294.9 390.7h1M263.7 387.2h1M267.5 384.2h1M280.5 388.9h1M287.3 374.4h1M276.7 385.4h1M275.5 393.3h1M261.5 386.2h1M280.1 379.2h1M276.6 380.6h1M281.4 378.5h1M273.9 399.9h1M272.5 386.3h1M290.7 376.4h1M287.4 378.2h1M258.4 381.6h1M286.4 394.7h1M285.7 389.8h1M285.5 382.5h1M290.4 379.9h1M281.3 377.5h1M274.7 385.1h1M266.4 381.9h1M300.9 376.1h1M275.6 380.1h1M268.7 377.2h1M289.0 380.8h1M269.0 374.1h1M267.6 388.5h1M266.3 368.8h1M266.6 382.6h1M282.1 382.1h1M287.2 373.4h1M265.8 379.8h1M278.2 367.8h1M275.4 370.9h1M288.4 383.9h1M297.3 395.6h1M283.2 380.0h1M264.6 377.7h1M289.5 384.5h1M277.7 372.5h1M274.1 394.1h1M274.2 391.0h1M265.1 372.3h1M272.8 376.4h1M296.4 380.0h1M274.5 377.2h1M286.3 390.3h1M287.8 371.5h1M274.2 385.6h1M288.3 392.3h1M283.0 387.8h1M287.5 384.4h1M285.5 381.4h1M267.5 398.1h1M281.4 388.3h1M272.7 383.8h1M277.2 389.5h1M277.1 387.2h1M289.0 378.3h1M286.9 374.0h1M279.9 376.5h1M289.7 392.1h1M262.9 384.2h1M268.4 372.2h1M276.2 389.1h1M290.8 378.2h1M274.0 392.1h1M276.7 394.5h1M299.7 385.9h1M267.8 379.8h1M286.8 380.5h1M278.2 385.2h1M258.8 379.0h1M272.6 376.0h1M280.1 379.3h1M272.0 391.9h1M294.7 380.5h1M270.6 371.2h1M277.5 376.1h1M261.0 390.4h1M273.5 386.1h1M288.2 376.3h1M260.3 381.1h1M283.2 380.3h1M275.7 384.7h1M265.9 386.8h1M288.6 374.2h1M267.2 379.2h1M269.4 380.0h1M289.9 372.3h1M281.6 379.1h1M268.5 372.2h1M293.9 375.6h1M285.5 373.4h1M282.6 379.9h1M272.7 372.0h1M270.7 378.9h1M292.9 386.4h1M282.3 377.5h1M280.0 387.4h1M293.0 388.3h1M299.3 380.5h1M266.2 390.9h1M298.6 388.4h1M277.5 383.0h1M273.5 379.7h1M277.3 384.9h1M263.6 385.5h1M279.2 380.6h1M280.7 379.5h1M280.7 392.2h1M272.2 387.8h1M270.4 380.5h1M280.2 377.9h1M289.6 371.7h1M275.1 382.1h1M278.5 380.8h1M265.4 382.3h1M293.6 386.3h1M275.5 373.3h1M266.4 387.4h1M270.7 379.8h1M304.7 365.4h1M288.2 365.7h1M261.2 400.5h1M290.3 386.0h1M286.8 388.2h1M270.3 372.5h1M267.5 384.3h1M282.5 389.1h1M276.4 387.0h1M276.7 374.1h1M270.6 384.2h1M275.7 378.1h1M276.5 391.4h1M268.3 364.6h1M277.6 365.5h1M294.8 377.1h1M277.2 380.0h1M278.5 383.6h1M290.6 374.0h1M271.6 378.5h1M273.6 385.8h1M276.8 384.5h1M283.1 388.3h1M295.5 375.0h1M272.6 383.4h1M283.4 385.0h1M280.3 374.7h1M304.4 381.6h1M281.8 374.9h1M280.7 379.2h1M290.0 388.2h1M269.8 382.3h1M278.0 383.9h1M293.9 376.5h1M309.7 375.9h1M260.0 386.9h1M261.6 391.0h1M281.5 379.3h1M286.3 382.9h1M267.9 379.0h1M300.6 383.3h1M281.0 374.9h1M302.2 386.4h1M273.5 381.9h1M270.5 391.3h1M288.4 377.2h1M272.8 378.8h1M279.1 397.7h1M273.8 384.7h1M272.8 380.5h1M282.1 389.8h1M263.3 377.4h1M274.6 375.2h1M295.6 387.1h1M290.8 385.1h1M263.5 388.6h1M276.0 377.5h1M267.1 373.8h1M271.5 383.2h1M291.6 377.4h1M286.2 384.5h1M286.6 382.1h1M261.5 390.2h1M285.6 373.6h1M277.8 380.5h1M305.3 393.1h1M279.1 380.7h1M286.5 384.1h1M285.7 380.4h1M264.9 368.2h1M260.7 370.5h1M277.4 386.5h1M298.1 383.8h1M303.7 393.9h1M276.1 378.1h1M280.5 378.6h1M272.3 382.2h1M283.8 368.2h1M278.7 382.3h1M287.1 375.3h1M284.1 375.0h1M266.2 376.1h1M279.5 379.8h1M292.2 385.4h1M274.9 389.3h1M297.8 383.1h1M300.3 384.5h1M283.0 375.3h1M290.5 389.5h1M281.4 389.6h1M303.3 394.8h1M267.3 380.6h1M294.1 388.8h1M291.7 371.5h1M287.2 386.5h1M271.4 393.7h1M287.8 390.2h1M298.4 380.9h1M282.7 382.6h1M291.9 389.5h1M266.2 377.6h1M266.2 384.5h1M264.7 376.0h1M294.9 376.8h1M285.6 367.7h1M287.9 373.0h1M295.8 384.5h1M285.5 376.5h1M283.4 379.4h1M290.1 379.8h1M275.5 377.4h1M274.5 388.7h1M275.6 385.3h1M262.2 369.1h1M279.8 369.2h1M298.0 382.1h1M276.6 387.7h1M275.9 383.3h1M281.0 397.0h1M287.4 379.5h1M280.7 370.5h1M294.4 374.6h1M272.5 381.8h1M282.8 377.1h1M270.0 377.7h1M258.4 378.3h1M285.8 389.8h1M269.2 375.5h1M289.4 379.8h1M293.7 377.0h1M283.1 381.9h1M280.3 388.1h1M279.7 381.9h1M276.8 393.6h1M285.5 382.2h1M261.1 386.6h1M270.8 371.7h1M278.2 377.2h1M277.9 384.2h1M275.0 378.0h1M276.1 400.5h1M268.0 375.2h1M269.0 374.6h1M274.5 376.9h1M282.1 383.5h1M289.3 383.1h1M281.7 385.2h1M258.4 383.2h1M274.3 377.3h1M278.9 378.2h1M286.2 386.0h1M262.6 388.3h1M259.8 386.3h1M301.0 391.6h1M265.6 393.6h1M300.1 385.0h1M281.5 396.1h1M283.8 372.6h1M277.7 383.5h1M287.6 396.6h1M287.6 391.1h1M262.9 377.1h1M280.8 386.0h1M306.0 393.9h1M265.1 389.3h1M270.3 380.4h1M279.9 383.0h1M281.8 379.5h1M289.1 381.0h1M276.9 378.7h1M280.2 377.3h1M268.3 388.8h1M284.9 385.9h1M280.8 377.0h1M263.0 390.6h1M279.3 387.0h1M280.3 389.3h1M266.6 390.0h1M258.4 385.0h1M294.8 385.7h1M282.5 378.1h1M290.7 383.9h1M287.9 387.7h1M276.7 379.5h1M288.1 387.9h1M282.0 387.0h1M272.4 383.8h1M288.3 385.2h1M273.6 381.6h1M281.4 393.9h1M301.1 379.3h1M300.2 393.2h1M269.2 381.7h1M289.5 394.8h1M279.2 385.3h1M275.4 398.3h1M259.1 385.3h1M289.8 386.0h1M274.6 386.8h1M272.1 376.8h1M303.2 396.3h1M270.5 383.0h1M295.4 383.2h1M275.3 382.4h1M258.6 384.6h1M269.5 381.3h1M261.6 382.6h1M274.1 379.3h1M287.6 366.6h1M276.6 368.7h1M260.5 393.7h1M281.6 387.1h1M258.4 373.8h1M285.3 384.9h1M290.6 384.2h1M283.0 386.0h1M277.9 373.2h1M289.3 379.9h1M277.2 381.5h1M286.3 380.9h1M263.8 383.7h1M291.2 379.9h1M294.7 382.0h1M282.8 395.5h1M292.1 406.8h1M269.7 383.9h1M288.3 381.0h1M268.8 386.0h1M276.7 381.2h1M273.0 385.5h1M278.1 382.4h1M270.8 379.1h1M263.2 385.1h1M276.4 378.8h1M278.4 386.0h1M284.6 381.5h1M287.5 389.0h1M286.2 384.3h1M285.9 390.6h1M266.2 384.6h1M291.5 375.8h1M297.2 369.0h1M274.6 399.1h1M274.7 383.7h1M282.8 380.8h1M287.9 383.1h1M270.4 400.2h1M286.6 377.2h1M284.1 373.0h1M272.0 382.2h1M278.7 392.7h1M259.5 376.0h1M302.7 371.8h1M279.7 385.1h1M290.5 377.0h1M285.7 392.3h1M277.7 387.6h1M268.2 388.9h1M275.9 380.0h1M277.1 372.7h1M260.4 384.4h1M278.5 381.6h1M260.2 384.1h1M273.6 372.7h1M290.8 398.5h1M279.9 377.5h1M281.3 389.4h1M303.0 378.9h1M280.1 393.8h1M266.7 390.5h1M278.7 378.9h1M279.4 387.3h1M277.7 384.4h1M286.0 387.9h1M273.8 383.8h1M268.0 379.4h1M274.4 375.3h1M284.2 389.7h1M295.9 383.7h1M284.1 388.2h1M297.9 379.7h1M286.8 373.9h1M265.6 374.3h1M285.8 381.5h1M279.0 376.6h1M277.2 395.5h1M259.2 374.4h1M289.3 375.9h1M278.7 383.7h1M259.2 380.1h1M277.4 385.1h1M285.4 382.6h1M277.6 381.9h1M279.2 388.0h1M269.4 362.4h1M283.9 382.9h1M307.1 375.1h1M284.5 387.6h1M267.6 381.6h1M266.1 386.5h1M277.8 384.9h1M284.2 384.6h1M292.1 387.8h1M274.9 377.3h1M283.0 371.6h1M270.4 389.3h1M288.4 397.4h1M274.4 381.7h1M288.5 391.4h1M263.7 389.8h1M280.8 394.9h1M279.7 379.6h1M271.3 380.1h1M272.3 370.3h1M280.2 377.6h1M292.8 388.2h1M272.0 381.0h1M283.6 391.2h1M291.3 388.7h1M278.5 387.9h1M264.9 386.5h1M277.5 380.8h1M276.6 377.6h1M273.7 392.2h1M272.0 373.5h1M284.6 379.8h1M271.4 392.1h1M277.5 386.6h1M281.1 394.4h1M286.9 372.7h1M298.6 379.3h1M274.2 388.2h1M277.3 380.2h1M274.0 380.6h1M291.7 385.1h1M294.2 395.7h1M287.6 377.1h1M280.0 385.8h1M263.4 382.1h1M265.6 390.9h1M281.6 384.2h1M267.5 387.7h1M277.7 392.9h1M279.8 388.5h1M259.3 384.1h1M279.5 375.8h1M293.2 378.6h1M288.5 387.2h1M271.7 378.2h1M310.9 387.1h1M283.3 380.5h1M261.7 384.6h1M276.6 385.0h1M278.1 370.5h1M273.3 383.6h1M273.8 384.4h1M281.8 382.0h1M273.1 394.1h1M281.8 385.0h1M284.5 384.3h1M258.4 379.9h1M281.6 386.3h1M279.2 375.2h1M274.8 385.6h1M279.4 401.2h1M284.9 386.1h1M276.5 367.8h1M289.2 378.0h1M293.7 379.9h1M274.8 390.1h1M273.9 371.4h1M283.4 385.8h1M283.5 381.6h1M282.2 376.6h1M278.1 387.9h1M292.0 393.5h1M274.8 386.4h1M277.6 376.1h1M282.8 389.2h1M288.4 369.9h1M276.5 382.0h1M319.1 368.0h1M336.9 367.5h1M309.4 385.0h1M321.1 371.6h1M311.9 379.5h1M312.4 379.8h1M323.2 378.0h1M326.2 372.5h1M304.9 366.8h1M318.2 371.4h1M333.0 370.7h1M333.3 375.0h1M318.5 365.4h1M317.7 383.5h1M304.7 382.7h1M325.9 380.6h1M308.9 384.2h1M307.7 384.3h1M329.3 366.3h1M332.4 385.5h1M317.5 367.2h1M316.3 374.1h1M326.2 370.5h1M309.7 376.9h1M321.4 366.1h1M322.5 372.7h1M314.1 379.0h1M324.8 378.4h1M334.7 377.1h1M318.5 377.6h1M332.2 379.2h1M321.4 381.3h1M304.0 381.2h1M325.8 374.2h1M304.4 366.9h1M298.0 377.7h1M317.2 370.8h1M326.7 370.4h1M327.9 380.0h1M323.5 369.7h1M308.2 376.1h1M328.3 369.9h1M320.4 380.5h1M302.3 386.0h1M316.4 372.8h1M320.2 374.7h1M309.5 372.3h1M316.0 369.8h1M327.7 379.2h1M325.2 366.7h1M313.8 378.6h1M317.4 365.6h1M321.8 386.7h1M328.1 375.2h1M307.1 381.4h1M323.8 373.9h1M315.3 380.2h1M317.3 372.0h1M307.3 373.6h1M315.4 372.8h1M302.3 371.8h1M326.5 386.5h1M302.8 372.6h1M324.1 371.7h1M323.8 373.8h1M329.1 376.5h1M334.4 368.5h1M328.9 373.7h1M329.1 372.6h1M326.3 381.6h1M321.3 370.0h1M312.1 373.0h1M316.4 381.2h1M307.4 375.0h1M318.8 375.8h1M309.9 382.9h1M317.9 371.5h1M317.6 382.1h1M323.8 382.2h1M323.3 373.4h1M305.0 371.0h1M317.9 366.8h1M316.1 371.2h1M329.4 364.9h1M339.6 379.8h1M314.2 376.3h1M333.4 379.7h1M315.7 372.8h1M304.9 377.5h1M326.6 375.4h1M318.7 371.4h1M319.8 378.6h1M306.9 379.6h1M316.1 378.6h1M318.8 377.8h1M320.9 380.0h1M312.0 375.4h1M307.9 376.3h1M328.8 374.4h1M328.1 373.4h1M322.1 382.5h1M321.6 378.1h1M331.2 379.3h1M327.4 374.3h1M311.9 380.1h1M309.3 382.3h1M313.8 377.5h1M326.2 370.1h1M336.5 375.9h1M316.8 370.4h1M303.4 366.5h1M309.8 378.9h1M314.4 382.2h1M309.9 367.8h1M323.1 374.5h1M305.7 383.5h1M321.2 368.4h1M314.2 371.0h1M329.3 373.1h1M313.1 377.5h1M333.2 383.3h1M318.7 374.3h1M313.2 381.1h1M309.0 375.6h1M325.0 372.4h1M296.6 373.0h1M311.1 370.7h1M313.3 380.2h1M305.1 369.4h1M317.4 380.8h1M311.1 378.9h1M328.1 371.9h1M316.6 380.4h1M320.4 372.6h1M317.3 374.4h1M319.2 377.3h1M319.8 372.6h1M318.5 377.4h1M316.7 384.4h1M314.1 363.6h1M329.4 373.2h1M321.6 374.4h1M327.0 372.8h1M323.5 384.1h1M323.9 371.3h1M334.1 381.7h1M318.3 368.1h1M320.6 375.3h1M322.6 376.5h1M332.8 376.7h1M314.8 373.5h1M321.2 378.5h1M307.0 370.3h1M326.8 374.5h1M328.1 374.7h1M312.4 378.2h1M320.8 390.3h1M332.9 375.2h1M320.7 378.6h1M323.1 379.7h1M317.7 373.6h1M303.9 373.9h1M328.0 376.7h1M321.2 368.5h1M299.3 378.9h1M311.1 372.5h1M299.9 383.5h1M331.4 366.1h1M313.1 374.4h1M322.2 380.3h1M317.7 375.0h1M323.4 366.4h1M317.0 375.4h1M320.9 370.1h1M312.0 369.3h1M316.7 369.9h1M341.0 372.1h1M329.8 372.2h1M314.3 380.4h1M315.6 387.3h1M322.4 366.1h1M330.6 360.3h1M314.8 371.0h1M318.4 371.2h1M313.7 373.4h1M324.9 370.5h1M314.6 387.8h1M337.0 381.8h1M318.2 372.4h1M318.9 368.3h1M328.5 371.5h1M298.2 381.1h1M332.0 380.5h1M324.1 378.2h1M332.5 382.8h1M303.7 378.7h1M317.4 384.4h1M315.4 373.5h1M302.8 375.8h1M321.1 383.3h1M316.4 380.7h1M337.9 369.2h1M328.0 375.4h1M302.5 371.1h1M318.6 369.4h1M324.3 371.3h1M328.2 373.6h1M329.6 381.7h1M326.8 382.1h1M344.7 380.9h1M302.9 373.2h1M327.2 381.2h1M312.9 378.4h1M319.0 374.2h1M314.0 375.8h1M330.0 366.1h1M328.4 376.8h1M303.2 377.2h1M316.9 370.5h1M323.5 374.1h1M329.4 383.1h1M322.4 377.9h1M309.4 375.5h1M329.3 386.4h1M301.5 377.1h1M318.0 387.6h1M321.7 387.3h1M298.8 366.0h1M319.8 367.8h1M299.7 373.3h1M313.9 376.4h1M332.7 370.4h1M311.5 367.2h1M319.2 381.6h1M328.7 362.9h1M323.0 374.0h1M313.1 369.1h1M313.2 377.4h1M325.0 380.2h1M310.5 375.7h1M309.9 380.7h1M318.9 368.2h1M328.4 385.3h1M301.8 385.8h1M323.2 375.2h1M296.4 368.4h1M309.0 380.1h1M317.1 376.7h1M319.4 378.2h1M315.1 383.1h1M296.7 370.3h1M314.4 370.7h1M330.8 373.1h1M299.8 372.6h1M313.7 370.9h1M311.7 372.7h1M325.0 374.7h1M321.4 375.2h1M330.0 375.9h1M321.1 381.8h1M331.3 382.6h1M311.0 368.2h1M344.5 367.9h1M311.5 367.7h1M321.0 375.5h1M295.6 382.0h1M313.3 382.1h1M327.8 375.8h1M328.4 371.3h1M318.7 374.7h1M319.7 378.8h1M320.2 373.3h1M324.8 373.7h1M326.4 371.0h1M307.0 388.3h1M305.8 380.3h1M334.3 379.8h1M322.6 375.2h1M317.8 371.1h1M323.4 379.7h1M305.6 363.9h1M348.2 374.8h1M308.1 369.9h1M326.1 383.0h1M309.5 373.9h1M323.9 373.0h1M321.5 378.0h1M325.5 381.4h1M319.8 372.4h1M305.6 375.4h1M308.9 373.4h1M316.4 375.2h1M327.3 377.6h1M319.3 384.7h1M318.9 385.7h1M318.2 377.9h1M308.7 376.3h1M309.7 383.5h1M320.4 383.6h1M323.3 370.3h1M296.5 375.3h1M313.2 373.4h1M321.6 376.5h1M316.0 377.6h1M312.1 370.9h1M313.9 381.6h1M324.6 373.9h1M322.6 379.4h1M308.6 386.3h1M315.3 369.9h1M319.5 376.9h1M331.2 382.9h1M314.7 372.9h1M315.7 374.1h1M309.4 375.3h1M330.5 380.9h1M315.6 369.1h1M325.0 382.6h1M305.2 378.8h1M335.2 382.0h1M324.7 375.6h1M312.9 377.7h1M330.3 379.9h1M326.6 375.3h1M316.6 383.7h1M319.6 381.0h1M314.2 370.1h1M320.0 377.2h1M290.0 371.0h1M321.8 374.3h1M307.0 375.4h1M322.9 383.2h1M300.7 375.8h1M312.2 387.9h1M322.2 369.8h1M324.9 380.4h1M328.1 381.5h1M314.0 368.7h1M320.9 375.3h1M314.3 365.9h1M324.4 378.7h1M329.9 377.9h1M316.5 370.5h1M314.9 370.5h1M316.2 371.2h1M328.1 374.7h1M322.2 375.6h1M315.2 364.6h1M314.4 373.1h1M328.5 369.2h1M325.0 379.1h1M317.6 375.1h1M326.6 376.9h1M340.5 362.4h1M309.3 386.4h1M322.3 364.8h1M296.7 367.9h1M303.7 365.0h1M312.2 374.0h1M307.2 374.8h1M313.2 380.0h1M305.4 375.0h1M319.3 379.9h1M306.8 375.4h1M305.8 379.5h1M322.6 381.7h1M315.4 384.8h1M313.2 366.3h1M310.9 375.0h1M328.1 372.5h1M312.4 378.7h1M305.8 380.5h1M322.6 369.8h1M317.2 371.7h1M309.5 377.0h1M314.9 380.4h1M318.5 366.6h1M319.8 379.4h1M321.0 367.7h1M312.0 368.5h1M315.4 371.4h1M326.3 377.4h1M341.8 378.3h1M304.0 374.2h1M334.8 373.4h1M319.1 380.4h1M331.1 381.7h1M317.1 369.2h1M312.9 378.7h1M303.1 376.2h1M332.6 369.0h1M324.9 371.1h1M310.7 377.8h1M324.0 374.9h1M322.2 379.2h1M334.4 370.4h1M308.9 384.9h1M325.8 371.8h1M323.8 384.4h1M289.1 385.0h1M320.0 376.8h1M271.1 388.9h1M297.8 383.7h1M279.2 387.3h1M322.0 382.6h1M299.6 374.4h1M283.0 371.2h1M299.9 383.6h1M282.3 371.6h1M293.5 387.5h1M331.7 367.3h1M301.5 393.2h1M278.3 378.6h1M319.6 383.7h1M277.1 372.9h1M285.3 381.7h1M303.0 389.1h1M277.4 386.0h1M308.1 379.6h1M316.5 381.5h1M309.6 377.0h1M277.2 377.7h1M341.3 385.6h1M305.3 375.7h1M302.7 372.4h1M306.3 381.8h1M284.9 386.2h1M267.3 371.6h1M315.2 373.0h1M264.0 391.9h1M313.4 386.0h1M298.5 372.8h1M308.9 381.8h1M281.2 383.4h1M309.1 382.1h1M318.2 386.4h1M270.9 386.2h1M288.5 394.8h1M312.5 390.9h1M273.9 382.3h1M309.0 377.5h1M314.9 376.4h1M280.3 392.1h1M279.2 379.3h1M289.6 385.1h1M280.9 373.3h1M287.6 388.7h1M310.8 375.6h1M281.7 388.6h1M317.4 392.7h1M284.1 374.1h1M282.9 385.4h1M304.9 372.9h1M309.9 374.8h1M297.4 380.0h1M310.0 403.2h1M282.5 370.4h1M269.7 382.2h1M303.0 387.0h1M274.5 371.7h1M296.0 394.2h1M320.6 390.8h1M312.1 390.9h1M285.6 391.9h1M317.1 389.3h1M288.0 378.9h1M284.4 393.9h1M264.8 378.6h1M304.1 371.1h1M302.7 391.0h1M313.6 372.4h1M298.5 373.9h1M313.9 370.9h1M325.0 389.3h1M337.7 379.6h1M292.7 398.3h1M318.7 396.3h1M293.6 381.8h1M318.8 376.2h1M316.4 370.6h1M313.6 399.4h1M295.0 383.7h1M293.2 384.7h1M329.4 387.2h1M308.7 385.5h1M292.7 388.6h1M345.6 373.1h1M287.0 401.1h1M313.1 369.2h1M299.5 385.7h1M326.2 377.1h1M260.1 371.0h1M322.0 392.3h1M258.4 385.3h1M282.1 383.5h1M317.6 380.1h1M296.5 366.0h1M298.5 395.1h1M283.9 385.7h1M310.7 402.7h1M277.8 389.5h1M292.2 382.0h1M298.9 367.9h1M314.7 376.4h1M303.8 389.6h1M293.9 369.6h1M272.7 387.8h1M329.7 397.7h1M268.7 383.8h1M301.8 376.5h1M294.0 374.2h1M302.3 378.5h1M292.2 393.9h1M273.8 382.9h1M282.6 379.2h1M296.6 382.2h1M303.8 375.8h1M313.4 372.6h1M269.8 374.9h1M328.5 392.4h1M285.0 398.4h1M306.5 369.5h1M308.7 373.6h1M269.4 363.4h1M302.3 385.6h1M272.6 387.3h1M308.5 386.8h1M314.6 375.7h1M307.4 386.3h1M283.7 379.4h1M267.3 383.6h1M270.5 385.7h1M300.4 380.7h1M313.1 379.6h1M339.5 385.5h1M269.9 377.5h1M306.8 396.5h1M284.0 394.8h1M302.4 393.0h1M283.6 375.4h1M288.9 382.4h1M274.2 371.8h1M316.0 390.8h1M296.8 378.1h1M324.8 367.4h1M316.0 384.0h1M314.5 385.3h1M322.8 387.1h1M298.0 389.2h1M274.6 384.0h1M307.6 368.8h1M311.4 386.0h1M320.3 382.4h1M328.1 390.3h1M313.7 354.4h1M299.7 384.2h1M299.1 373.3h1M320.7 378.4h1M294.3 385.1h1M326.4 378.7h1M273.0 385.3h1M303.5 366.1h1M282.5 382.8h1M267.2 388.8h1M272.1 378.5h1M281.3 379.1h1M319.0 385.9h1M333.0 383.0h1M265.5 369.9h1M285.0 382.8h1M285.7 394.8h1M295.7 376.3h1M275.2 372.3h1M295.1 380.5h1M277.3 384.7h1M279.4 377.6h1M323.8 391.1h1M287.8 396.6h1M287.2 392.0h1M302.4 378.1h1M296.9 378.8h1M303.2 381.3h1M294.1 374.0h1M308.7 389.7h1M272.1 381.9h1M319.9 389.2h1M277.8 403.1h1M278.2 388.1h1M307.1 404.2h1M282.3 393.0h1M310.4 374.6h1M298.7 375.1h1M303.7 383.6h1M305.8 390.8h1M299.6 375.2h1M315.4 390.4h1M312.7 378.2h1M273.9 378.7h1M324.5 383.9h1M316.3 378.3h1M264.3 375.1h1M314.4 386.6h1M296.9 380.4h1M288.8 385.1h1M293.6 382.3h1M308.3 386.9h1M307.5 383.8h1M308.3 391.6h1M328.2 394.0h1M281.5 385.2h1M300.7 398.2h1M337.4 386.1h1M347.2 393.8h1M269.7 388.3h1M305.5 379.0h1M333.4 387.1h1M264.0 374.9h1M292.9 391.8h1M308.4 390.4h1M291.4 393.1h1M291.9 388.5h1M291.4 379.2h1M307.2 372.6h1M299.6 386.2h1M268.4 381.4h1M293.4 373.9h1M287.5 405.7h1M316.1 379.7h1M311.5 371.2h1M322.7 406.8h1M270.7 369.6h1M288.5 380.8h1M308.1 378.0h1M296.0 393.7h1M307.6 390.9h1M295.5 378.3h1M291.7 378.6h1M262.2 383.9h1M295.2 379.7h1M321.0 402.1h1M277.6 387.7h1M270.8 391.3h1M295.8 369.7h1M271.5 388.4h1M281.9 381.5h1M311.4 355.8h1M300.4 396.0h1M285.1 362.4h1M323.7 366.9h1M293.1 396.9h1M276.6 383.1h1M267.7 393.2h1M324.6 368.3h1M290.6 377.5h1M316.1 391.1h1M303.4 389.5h1M309.6 385.0h1M294.3 376.1h1M310.9 375.8h1M310.4 376.1h1M295.3 390.5h1M324.7 382.7h1M295.1 382.9h1M313.6 375.7h1M300.6 388.4h1M309.3 382.6h1M289.7 371.1h1M279.2 381.8h1M282.8 403.9h1M258.4 400.4h1M307.8 379.1h1M301.0 380.6h1M287.0 367.0h1M287.4 371.9h1M303.6 377.5h1M279.0 380.3h1M284.9 385.3h1M289.6 371.3h1M304.4 370.2h1M310.4 371.8h1M271.6 399.3h1M290.0 384.9h1M278.4 393.5h1M330.7 376.9h1M267.3 364.9h1M302.7 372.9h1M293.0 385.7h1M264.8 371.4h1M298.4 394.9h1M308.2 379.2h1M317.2 389.5h1M267.1 399.9h1M325.1 381.8h1M307.5 370.4h1M328.9 402.1h1M302.5 385.0h1M293.5 382.5h1M272.4 383.1h1M294.9 396.8h1M295.3 392.4h1M270.5 396.5h1M274.1 402.4h1M262.9 401.5h1M266.8 397.9h1M284.0 401.5h1M286.6 398.1h1M294.8 399.4h1M292.0 392.7h1M307.9 396.4h1M263.0 395.3h1M294.7 398.3h1M278.5 403.6h1M297.2 400.0h1M267.6 401.3h1M274.3 399.0h1M276.9 390.9h1M273.9 396.9h1M305.2 397.4h1M309.5 400.3h1M273.9 395.2h1M304.6 394.4h1M288.9 396.2h1M267.0 396.2h1M272.8 404.5h1M270.0 395.6h1M258.4 394.4h1M296.4 398.8h1M300.6 396.9h1M258.9 398.8h1M282.4 397.8h1M266.9 405.4h1M304.7 400.6h1M301.3 399.1h1M283.4 395.2h1M272.1 399.9h1M274.8 393.3h1M269.5 395.8h1M286.7 388.3h1M280.3 402.8h1M269.6 400.4h1M283.1 395.7h1M258.4 395.5h1M282.7 397.7h1M277.7 402.6h1M288.2 397.1h1M288.2 394.6h1M292.3 399.4h1M284.5 399.8h1M272.3 403.9h1M273.3 397.0h1M285.7 393.5h1M297.3 403.8h1M284.5 395.5h1M305.4 395.3h1M280.1 398.2h1M298.9 392.5h1M300.9 401.9h1M283.1 392.4h1M301.5 387.9h1M266.7 404.7h1M291.4 396.3h1M270.8 392.4h1M291.3 393.8h1M278.2 401.0h1M272.2 397.4h1M300.0 391.5h1M281.1 404.2h1M276.5 396.2h1M284.5 391.3h1M277.6 399.7h1M274.9 404.7h1M283.8 399.6h1M262.0 404.7h1M283.1 399.3h1M280.1 396.2h1M276.9 396.5h1M280.4 403.9h1M290.8 395.1h1M276.4 398.3h1" stroke="#000" stroke-opacity="0.72" stroke-width="1" fill="none"/>
<path d="M299.5 339.7V408.3M257.4 387.4H349.2" stroke="#888" stroke-width="0.8" fill="none"/>
<path d="M257.4 339.7H349.2V408.3" stroke="#222" stroke-width="1" fill="none"/>
<path d="M257.4 339.2V409.3" stroke="#000" stroke-width="1.7" fill="none"/>
<path d="M256.6 408.3H349.7" stroke="#000" stroke-width="2" fill="none"/>
<path d="M257.4 408.3h-4M257.4 408.3v4M257.4 403.137h-2M264.309 408.3v2M257.4 400.117h-2M268.35 408.3v2M257.4 396.313h-2M273.441 408.3v2M257.4 393.807h-2M276.795 408.3v2M257.4 391.15h-4M280.35 408.3v4M257.4 385.987h-2M287.259 408.3v2M257.4 382.967h-2M291.3 408.3v2M257.4 379.163h-2M296.391 408.3v2M257.4 376.657h-2M299.745 408.3v2M257.4 374h-4M303.3 408.3v4M257.4 368.837h-2M310.209 408.3v2M257.4 365.817h-2M314.25 408.3v2M257.4 362.013h-2M319.341 408.3v2M257.4 359.507h-2M322.695 408.3v2M257.4 356.85h-4M326.25 408.3v4M257.4 351.687h-2M333.159 408.3v2M257.4 348.667h-2M337.2 408.3v2M257.4 344.863h-2M342.291 408.3v2M257.4 342.357h-2M345.645 408.3v2M257.4 339.7h-4M349.2 408.3v4" stroke="#333" stroke-width="0.7" fill="none"/>
<text x="243.3" y="413.8" font-size="7.2" text-anchor="end">10</text><text x="248.3" y="407.6" font-size="5.2" text-anchor="middle">0</text>
<text x="254.2" y="424.6" font-size="7.2" text-anchor="end">10</text><text x="258.9" y="417.6" font-size="5.2" text-anchor="middle">0</text>
<text x="243.3" y="396.65" font-size="7.2" text-anchor="end">10</text><text x="248.3" y="390.45" font-size="5.2" text-anchor="middle">1</text>
<text x="277.15" y="424.6" font-size="7.2" text-anchor="end">10</text><text x="281.85" y="417.6" font-size="5.2" text-anchor="middle">1</text>
<text x="243.3" y="379.5" font-size="7.2" text-anchor="end">10</text><text x="248.3" y="373.3" font-size="5.2" text-anchor="middle">2</text>
<text x="300.1" y="424.6" font-size="7.2" text-anchor="end">10</text><text x="304.8" y="417.6" font-size="5.2" text-anchor="middle">2</text>
<text x="243.3" y="362.35" font-size="7.2" text-anchor="end">10</text><text x="248.3" y="356.15" font-size="5.2" text-anchor="middle">3</text>
<text x="323.05" y="424.6" font-size="7.2" text-anchor="end">10</text><text x="327.75" y="417.6" font-size="5.2" text-anchor="middle">3</text>
<text x="243.3" y="345.2" font-size="7.2" text-anchor="end">10</text><text x="248.3" y="339" font-size="5.2" text-anchor="middle">4</text>
<text x="346" y="424.6" font-size="7.2" text-anchor="end">10</text><text x="350.7" y="417.6" font-size="5.2" text-anchor="middle">4</text>
<text transform="translate(227.1,381.3) rotate(-90)" font-size="10.1" text-anchor="middle" stroke-width="0.35">NKG2D</text>
<text x="298.6" y="438.5" font-size="9.3" text-anchor="middle" stroke-width="0.35">4-1BB</text>
<text x="268.2" y="353.2" font-size="9.3" font-weight="bold" text-anchor="middle">46</text>
<text x="327.2" y="353.6" font-size="9.3" font-weight="bold" text-anchor="middle">27</text>
<rect x="260.55" y="397.6" width="11.9" height="8" fill="#fff"/>
<text x="266.5" y="404.8" font-size="9.3" font-weight="bold" text-anchor="middle">22</text>
<text x="338.2" y="400.6" font-size="9.3" font-weight="bold" text-anchor="middle">5</text>
<path d="M456.0 396.8h1M482.5 384.5h1M474.4 400.7h1M441.8 398.9h1M454.0 389.9h1M477.4 396.0h1M437.2 393.5h1M450.1 397.6h1M456.6 396.5h1M501.0 391.3h1M444.6 392.7h1M470.0 400.2h1M442.8 394.8h1M501.9 393.4h1M472.2 396.6h1M482.4 399.5h1M480.6 381.1h1M473.7 405.8h1M441.0 397.4h1M462.8 394.1h1M503.9 398.4h1M460.9 388.6h1M510.4 388.6h1M467.0 396.8h1M435.6 391.4h1M471.2 396.4h1M463.4 394.6h1M467.1 385.4h1M465.0 401.4h1M471.7 398.6h1M489.2 405.4h1M432.1 397.5h1M443.9 404.1h1M440.0 389.1h1M444.9 399.7h1M494.6 406.8h1M455.5 387.4h1M462.6 392.2h1M460.8 398.6h1M472.2 393.6h1M425.4 399.0h1M478.1 384.4h1M464.2 399.0h1M464.0 389.2h1M466.1 388.6h1M472.2 386.0h1M499.1 377.1h1M500.8 396.0h1M437.3 401.7h1M463.2 398.6h1M476.7 386.5h1M471.0 387.0h1M511.8 397.0h1M475.6 401.7h1M489.4 394.5h1M448.5 385.0h1M452.3 389.2h1M466.0 384.9h1M478.4 402.2h1M437.0 388.4h1M477.0 399.8h1M463.8 396.9h1M446.5 403.1h1M456.4 392.6h1M468.6 391.3h1M470.1 390.8h1M485.6 397.3h1M450.3 394.0h1M514.0 384.3h1M461.3 405.1h1M459.2 386.6h1M473.9 394.2h1M459.4 399.5h1M478.4 401.0h1M474.4 393.6h1M481.0 389.7h1M467.6 398.9h1M487.8 398.7h1M481.5 397.3h1M470.0 403.0h1M449.9 396.3h1M427.4 392.7h1M466.3 388.6h1M508.5 388.8h1M443.7 391.7h1M463.6 397.6h1M495.8 388.6h1M475.0 393.4h1M464.4 389.9h1M425.4 391.8h1M452.7 400.7h1M461.7 390.8h1M451.6 389.6h1M486.0 394.0h1M468.2 392.7h1M468.1 397.7h1M488.2 400.9h1M490.3 404.8h1M498.7 399.7h1M478.4 391.9h1M478.6 405.3h1M425.4 397.3h1M456.8 400.1h1M492.1 392.9h1M479.7 402.3h1M481.7 393.3h1M495.1 385.4h1M469.9 385.7h1M505.0 401.3h1M466.3 388.9h1M459.7 388.4h1M470.0 392.6h1M492.5 391.9h1M479.3 387.6h1M478.1 389.4h1M464.6 394.1h1M459.9 394.7h1M493.8 386.9h1M503.9 399.5h1M465.2 385.7h1M438.9 397.8h1M477.9 389.7h1M469.1 396.4h1M468.9 390.0h1M502.3 405.5h1M453.1 387.1h1M487.5 399.4h1M471.9 394.3h1M462.5 395.6h1M481.7 394.5h1M469.2 392.6h1M460.2 387.4h1M456.0 394.7h1M425.1 393.6h1M504.6 404.3h1M452.8 397.0h1M471.9 401.7h1M450.5 387.7h1M493.1 389.5h1M425.4 393.0h1M471.0 395.7h1M459.7 399.5h1M488.5 399.3h1M456.9 384.6h1M471.1 389.0h1M467.8 390.1h1M438.3 391.5h1M472.4 390.6h1M444.0 404.6h1M493.2 377.6h1M482.6 397.5h1M501.4 401.0h1M469.0 385.1h1M475.6 386.8h1M448.2 386.9h1M445.2 390.5h1M471.4 386.0h1M488.2 399.5h1M446.6 397.8h1M448.0 392.2h1M449.6 398.8h1M425.4 407.1h1M473.9 395.1h1M465.5 388.1h1M438.2 397.2h1M457.6 398.1h1M489.0 392.5h1M448.4 395.7h1M479.6 390.4h1M468.8 404.6h1M478.1 387.5h1M456.1 397.6h1M484.9 382.1h1M477.7 392.0h1M425.4 384.0h1M464.0 387.5h1M475.4 396.3h1M468.9 392.1h1M483.4 385.5h1M501.6 390.8h1M497.0 399.6h1M453.3 396.8h1M506.5 389.9h1M483.0 397.7h1M452.1 401.6h1M457.8 400.7h1M476.1 390.7h1M465.8 388.8h1M454.0 402.3h1M489.7 398.8h1M444.5 388.0h1M466.4 395.9h1M492.8 400.4h1M480.2 399.4h1M430.5 385.0h1M450.9 394.0h1M452.8 391.8h1M472.9 390.8h1M468.0 401.5h1M482.6 392.4h1M474.7 397.7h1M475.1 400.2h1M436.6 401.2h1M446.6 398.7h1M435.7 401.3h1M491.6 390.6h1M486.7 392.2h1M500.2 393.4h1M459.8 388.7h1M468.2 398.0h1M487.7 390.5h1M461.2 387.6h1M453.2 393.8h1M480.0 399.8h1M456.9 387.1h1M509.4 394.7h1M461.4 395.5h1M468.9 399.0h1M484.0 387.1h1M461.2 398.9h1M464.8 399.6h1M444.8 404.0h1M479.3 384.7h1M497.3 388.2h1M475.7 395.8h1M479.9 398.8h1M447.3 391.0h1M470.5 388.6h1M468.2 407.1h1M496.9 400.9h1M437.5 405.2h1M466.6 397.4h1M484.3 405.7h1M505.6 393.2h1M461.5 389.7h1M468.5 397.2h1M477.4 394.3h1M452.3 390.6h1M480.4 400.9h1M487.1 392.4h1M488.0 402.4h1M453.5 388.0h1M491.8 406.5h1M481.9 397.1h1M471.6 402.3h1M438.6 395.7h1M462.4 380.9h1M462.8 394.9h1M472.3 393.4h1M464.2 397.8h1M435.1 387.7h1M484.4 398.4h1M492.7 386.5h1M499.6 400.7h1M477.0 388.1h1M490.6 402.4h1M464.4 397.7h1M483.0 400.2h1M487.2 399.1h1M440.0 391.9h1M433.1 401.1h1M489.0 397.5h1M507.4 389.2h1M427.1 392.0h1M458.8 393.1h1M469.6 397.4h1M485.6 390.5h1M444.0 398.9h1M501.5 400.5h1M482.6 383.4h1M486.0 390.6h1M495.9 403.2h1M461.6 388.6h1M462.0 397.6h1M483.7 388.2h1M478.7 389.0h1M457.0 401.5h1M468.6 381.0h1M446.8 402.5h1M429.1 401.9h1M472.0 386.2h1M457.0 398.5h1M503.7 386.8h1M466.4 397.1h1M514.2 397.4h1M438.8 393.0h1M445.1 392.9h1M459.8 393.5h1M480.2 393.0h1M494.0 401.9h1M441.3 385.4h1M449.6 380.4h1M473.5 394.8h1M473.6 405.8h1M487.7 401.1h1M471.9 390.7h1M469.6 388.0h1M450.0 395.2h1M512.3 391.7h1M461.0 389.5h1M466.7 387.0h1M477.1 388.6h1M497.9 387.8h1M439.4 397.1h1M480.4 387.0h1M472.9 394.3h1M501.6 388.3h1M483.5 399.2h1M459.5 382.7h1M425.4 406.8h1M465.5 392.9h1M477.1 396.3h1M450.1 392.1h1M468.1 401.6h1M486.8 387.4h1M449.8 396.4h1M451.6 390.9h1M463.2 382.5h1M481.4 396.0h1M462.7 397.3h1M501.9 380.3h1M473.1 399.0h1M489.8 395.3h1M498.7 397.3h1M458.3 403.7h1M438.7 391.2h1M457.4 404.6h1M455.2 385.0h1M442.5 395.8h1M468.4 396.3h1M436.2 396.4h1M489.4 406.4h1M505.5 385.7h1M481.7 387.6h1M478.9 399.1h1M464.4 375.8h1M472.1 395.0h1M456.0 399.3h1M460.0 392.7h1M482.6 389.6h1M488.8 391.3h1M464.7 398.3h1M502.6 392.6h1M474.1 392.4h1M430.8 391.7h1M489.2 398.3h1M500.9 394.4h1M488.4 393.2h1M467.2 402.8h1M449.0 401.1h1M483.8 391.0h1M472.1 393.4h1M469.3 400.7h1M454.0 392.2h1M460.6 385.4h1M504.8 398.9h1M461.9 397.4h1M478.5 387.6h1M488.3 378.0h1M497.6 390.9h1M465.3 402.3h1M510.2 393.3h1M446.8 383.5h1M443.1 399.0h1M479.7 391.0h1M473.5 393.4h1M438.2 392.5h1M504.2 406.2h1M455.2 396.0h1M441.6 399.1h1M468.3 394.7h1M503.0 400.1h1M483.0 398.2h1M487.6 382.4h1M481.4 391.8h1M511.9 394.9h1M450.6 390.9h1M496.4 395.3h1M472.7 403.1h1M487.0 394.0h1M504.3 399.0h1M483.8 397.4h1M425.4 401.6h1M460.2 399.6h1M455.3 395.1h1M438.3 400.3h1M450.0 404.9h1M474.6 397.3h1M450.9 389.4h1M480.3 393.0h1M469.1 384.8h1M461.0 397.0h1M437.9 387.4h1M442.1 395.8h1M456.5 386.3h1M455.8 396.4h1M439.2 396.4h1M449.1 392.5h1M476.0 403.5h1M468.6 389.6h1M435.4 371.6h1M425.4 404.2h1M436.5 398.2h1M481.3 391.2h1M489.6 396.7h1M429.1 396.1h1M430.7 383.5h1M469.3 394.2h1M476.2 395.3h1M464.7 395.1h1M435.1 393.0h1M484.5 406.7h1M448.2 401.5h1M451.1 393.2h1M470.4 393.9h1M470.1 400.2h1M491.7 389.3h1M490.5 395.7h1M434.9 387.0h1M503.6 401.7h1M446.5 399.5h1M446.4 397.8h1M505.5 389.3h1M465.7 391.1h1M453.6 386.4h1M462.4 399.2h1M497.1 390.7h1M492.6 395.2h1M464.6 396.5h1M470.9 393.9h1M459.4 396.1h1M463.1 382.8h1M480.8 383.3h1M473.0 395.2h1M510.1 401.4h1M484.4 387.6h1M474.8 407.3h1M486.1 398.5h1M433.0 400.2h1M480.5 386.4h1M513.0 393.6h1M506.2 399.8h1M473.3 400.2h1M429.4 406.8h1M494.8 397.1h1M431.1 394.7h1M427.7 393.1h1M456.6 400.2h1M468.6 384.4h1M486.4 390.9h1M493.7 385.8h1M447.1 391.5h1M460.9 393.4h1M487.7 397.7h1M475.6 395.9h1M461.6 384.2h1M457.3 391.6h1M461.8 382.5h1M456.8 391.3h1M447.0 391.9h1M468.3 398.2h1M493.4 387.6h1M484.0 392.9h1M467.3 402.2h1M489.8 396.5h1M442.2 392.6h1M497.7 389.9h1M448.5 387.9h1M475.3 388.4h1M473.4 391.2h1M483.5 397.5h1M462.8 391.6h1M499.0 395.4h1M489.3 394.7h1M457.5 397.5h1M489.4 394.6h1M470.9 400.3h1M449.7 397.6h1M467.8 395.6h1M491.3 385.4h1M468.1 394.5h1M453.7 395.7h1M492.4 382.1h1M491.2 399.8h1M458.4 393.3h1M455.4 402.7h1M453.7 386.4h1M452.3 390.2h1M474.1 395.0h1M496.1 383.4h1M478.2 393.0h1M471.9 390.5h1M460.5 398.1h1M499.5 385.2h1M482.2 389.0h1M487.9 392.5h1M436.6 390.1h1M472.5 400.8h1M506.1 401.3h1M475.4 397.7h1M463.8 403.7h1M450.1 388.5h1M495.3 385.9h1M477.7 402.3h1M479.0 398.7h1M476.0 396.6h1M439.3 405.5h1M464.0 392.2h1M476.5 403.0h1M464.3 394.2h1M496.8 399.2h1M461.8 392.9h1M472.6 389.7h1M444.0 390.3h1M437.6 406.8h1M449.2 398.7h1M512.7 393.6h1M431.5 392.0h1M429.1 381.9h1M511.5 392.5h1M476.8 402.7h1M453.2 396.2h1M473.5 390.0h1M462.7 387.2h1M434.9 399.0h1M458.1 375.1h1M514.8 394.4h1M466.8 404.1h1M425.4 394.9h1M447.8 396.5h1M497.8 395.7h1M449.0 393.4h1M492.7 399.1h1M483.9 396.2h1M448.3 396.6h1M439.3 394.5h1M459.8 396.7h1M501.8 395.5h1M490.0 393.5h1M456.9 399.1h1M468.6 386.9h1M470.7 393.9h1M481.4 397.8h1M452.8 399.3h1M439.6 397.7h1M504.9 392.4h1M431.1 387.7h1M466.6 396.0h1M499.8 392.4h1M461.9 393.3h1M469.2 388.2h1M457.3 390.3h1M490.9 391.4h1M473.4 399.6h1M482.8 397.5h1M472.8 392.0h1M432.5 400.3h1M459.7 383.3h1M508.9 403.7h1M441.4 403.8h1M450.9 395.2h1M487.1 400.7h1M484.2 395.7h1M493.0 388.5h1M479.3 391.7h1M442.1 395.4h1M485.2 397.7h1M505.4 389.6h1M435.8 394.0h1M509.8 382.1h1M463.3 393.3h1M480.4 391.7h1M470.8 398.0h1M437.1 393.8h1M442.7 396.3h1M495.2 402.5h1M449.1 393.2h1M499.7 381.2h1M492.5 397.2h1M451.7 396.0h1M467.9 380.4h1M489.1 400.4h1M458.8 395.4h1M440.9 396.6h1M473.6 390.4h1M504.3 395.2h1M504.5 400.6h1M478.5 406.8h1M471.1 396.5h1M478.5 395.8h1M445.7 402.7h1M499.4 396.2h1M459.0 393.8h1M446.2 391.1h1M448.0 405.3h1M465.4 391.4h1M476.4 395.8h1M467.0 403.7h1M478.5 392.0h1M481.0 383.9h1M459.8 392.6h1M472.8 397.8h1M443.1 388.7h1M472.2 393.8h1M468.5 399.6h1M478.1 392.2h1M484.2 381.1h1M438.3 391.1h1M504.1 394.8h1M437.6 387.2h1M457.8 394.2h1M476.2 403.8h1M480.4 396.0h1M469.8 406.1h1M447.5 392.7h1M502.1 392.6h1M472.3 402.9h1M484.7 389.6h1M439.9 397.9h1M505.6 393.8h1M483.8 402.3h1M457.7 401.1h1M468.8 393.2h1M448.3 394.2h1M432.3 387.5h1M435.5 396.4h1M465.4 399.4h1M439.2 394.0h1M477.1 405.4h1M446.6 394.5h1M468.9 406.9h1M470.1 397.0h1M466.2 393.4h1M493.3 386.8h1M456.0 400.5h1M464.0 391.0h1M440.9 403.1h1M456.0 386.7h1M483.9 397.2h1M469.7 396.1h1M449.2 388.0h1M498.3 390.7h1M494.5 390.9h1M449.8 393.9h1M468.4 394.5h1M459.9 397.9h1M448.7 389.1h1M470.8 391.7h1M508.1 396.4h1M440.2 389.1h1M463.2 394.5h1M464.0 393.3h1M508.5 404.4h1M455.6 393.4h1M454.7 380.3h1M493.8 387.5h1M473.8 391.9h1M425.6 397.2h1M462.4 397.5h1M495.9 386.9h1M479.1 394.6h1M432.3 385.5h1M495.9 399.7h1M479.3 399.8h1M486.5 400.4h1M505.0 397.2h1M437.1 383.3h1M471.1 391.9h1M491.3 388.5h1M496.8 391.5h1M504.0 399.5h1M447.8 394.8h1M449.4 385.8h1M450.6 395.8h1M435.3 399.4h1M472.0 398.3h1M433.6 395.5h1M488.2 396.6h1M489.4 393.6h1M472.9 389.0h1M494.8 398.4h1M499.6 386.3h1M507.2 397.5h1M449.2 389.4h1M454.5 387.7h1M485.8 403.6h1M484.8 398.6h1M489.3 387.7h1M430.8 393.8h1M445.4 394.8h1M465.0 394.1h1M465.8 396.0h1M461.7 391.4h1M482.5 390.3h1M482.2 385.6h1M437.5 388.0h1M464.8 406.7h1M429.4 391.6h1M480.2 390.3h1M449.9 397.8h1M515.2 400.7h1M458.6 387.6h1M491.3 397.1h1M458.0 387.1h1M450.7 394.6h1M476.3 404.0h1M465.0 402.2h1M488.7 398.2h1M496.3 398.0h1M510.8 391.6h1M456.8 398.4h1M477.5 393.6h1M497.7 383.9h1M454.9 389.4h1M439.5 398.5h1M425.4 392.3h1M487.6 391.0h1M513.4 395.1h1M448.1 386.9h1M478.9 395.7h1M489.1 390.8h1M482.0 403.2h1M499.7 397.6h1M469.0 390.7h1M474.0 377.4h1M490.3 384.3h1M507.6 391.1h1M425.4 390.9h1M482.2 385.9h1M462.4 390.9h1M458.3 399.4h1M497.5 385.7h1M478.3 395.3h1M465.3 396.8h1M492.4 392.6h1M432.5 402.7h1M435.5 392.6h1M444.2 397.2h1M489.4 393.1h1M441.8 393.3h1M478.9 397.3h1M425.3 394.0h1M462.1 395.4h1M482.5 393.1h1M475.7 393.2h1M461.7 391.5h1M468.3 401.3h1M470.9 387.6h1M447.9 397.7h1M449.9 393.8h1M485.5 393.3h1M491.2 400.6h1M446.2 402.9h1M506.4 396.9h1M432.3 405.7h1M461.8 401.1h1M457.3 401.8h1M462.8 404.0h1M436.7 399.9h1M462.9 401.4h1M432.7 390.9h1M454.8 388.9h1M480.5 396.1h1M479.6 397.8h1M485.0 403.2h1M440.5 406.4h1M471.9 399.4h1M475.7 397.8h1M456.4 386.7h1M469.6 406.4h1M458.1 388.4h1M441.5 388.5h1M459.8 395.5h1M430.2 406.3h1M445.0 401.1h1M506.6 400.4h1M485.9 389.8h1M449.2 400.1h1M469.7 399.0h1M496.3 401.7h1M425.4 393.5h1M514.8 390.3h1M483.0 395.0h1M444.0 388.5h1M445.8 397.2h1M489.2 401.0h1M468.0 397.8h1M492.4 388.3h1M484.9 390.7h1M452.2 392.1h1M478.3 390.6h1M450.9 387.9h1M465.3 396.9h1M439.7 395.2h1M477.0 390.5h1M478.4 399.6h1M475.9 390.0h1M465.7 393.3h1M504.1 399.5h1M457.8 394.6h1M425.4 397.1h1M445.3 399.7h1M444.0 398.2h1M449.7 391.6h1M466.5 398.6h1M513.8 389.5h1M445.5 400.6h1M454.2 393.1h1M509.9 396.7h1M486.8 401.7h1M475.2 394.6h1M488.7 402.6h1M425.4 381.5h1M453.7 387.8h1M425.4 395.4h1M452.7 395.2h1M461.8 395.9h1M454.6 392.3h1M465.4 390.7h1M457.2 386.1h1M455.4 379.0h1M459.3 404.0h1M427.7 402.8h1M489.3 384.7h1M454.2 391.5h1M491.6 392.7h1M486.5 385.7h1M494.1 384.6h1M445.9 396.3h1M480.3 385.4h1M474.0 394.7h1M459.0 395.1h1M475.9 392.2h1M483.2 391.4h1M497.9 402.6h1M458.7 388.5h1M443.9 389.8h1M498.2 392.0h1M443.0 392.7h1M437.5 399.7h1M499.3 400.9h1M508.1 389.7h1M447.5 392.9h1M479.0 396.1h1M480.6 391.4h1M469.8 382.7h1M478.8 399.9h1M429.9 393.6h1M449.9 396.2h1M486.7 389.7h1M454.4 396.7h1M431.1 395.6h1M446.2 401.8h1M466.1 394.5h1M490.0 393.2h1M472.4 396.8h1M474.0 398.1h1M487.9 388.2h1M489.2 395.8h1M454.6 394.2h1M452.9 396.1h1M460.0 392.7h1M434.2 393.3h1M496.8 398.8h1M454.9 404.5h1M429.1 385.0h1M457.6 391.9h1M485.4 403.8h1M473.3 392.3h1M452.3 397.1h1M431.6 390.6h1M471.9 389.3h1M452.2 390.2h1M439.7 395.8h1M462.4 391.1h1M477.8 391.2h1M451.2 406.2h1M493.8 393.9h1M476.6 394.0h1M486.1 393.3h1M511.3 396.9h1M492.1 403.7h1M482.8 394.6h1M463.4 396.6h1M447.3 395.6h1M467.9 386.9h1M496.5 407.3h1M495.5 389.4h1M455.0 393.8h1M462.4 398.6h1M481.5 403.0h1M450.7 404.4h1M428.0 389.1h1M511.3 401.1h1M434.7 394.1h1M472.8 404.5h1M436.8 400.3h1M458.1 392.7h1M456.9 404.8h1M505.2 395.4h1M432.0 391.6h1M456.5 401.0h1M428.9 396.1h1M496.8 397.9h1M468.0 403.2h1M469.0 398.9h1M476.1 406.8h1M436.3 404.6h1M468.2 389.4h1M466.9 394.2h1M502.2 390.7h1M493.0 399.6h1M432.8 394.8h1M463.0 392.7h1M491.7 382.2h1M456.8 404.2h1M503.0 384.2h1M513.0 399.8h1M470.5 406.2h1M459.1 387.8h1M506.8 387.7h1M433.5 389.8h1M457.9 388.7h1M440.2 394.6h1M474.2 399.4h1M497.1 384.1h1M457.6 385.1h1M437.4 394.0h1M468.5 393.8h1M425.4 400.5h1M477.7 401.5h1M487.0 396.8h1M472.9 393.0h1M483.5 383.4h1M483.0 390.8h1M491.9 391.9h1M425.4 399.4h1M433.7 391.8h1M471.9 394.9h1M468.9 397.6h1M478.5 390.1h1M506.3 391.9h1M484.1 404.1h1M457.3 401.7h1M512.0 400.1h1M477.6 386.2h1M461.7 389.0h1M485.4 398.6h1M468.0 386.2h1M482.3 398.1h1M465.8 394.7h1M496.3 396.5h1M504.9 404.7h1M498.7 402.3h1M476.0 389.1h1M451.7 390.2h1M489.2 393.7h1M490.7 392.9h1M450.8 397.2h1M440.1 383.5h1M464.1 390.7h1M510.0 393.9h1M496.4 400.0h1M479.7 383.5h1M465.8 392.4h1M450.4 395.2h1M450.4 390.4h1M440.1 396.7h1M425.3 387.3h1M466.0 399.6h1M474.9 397.4h1M502.8 382.7h1M486.6 398.9h1M511.2 387.1h1M466.9 396.8h1M470.1 402.2h1M489.0 395.0h1M432.7 396.2h1M477.2 397.3h1M464.7 397.0h1M478.4 396.6h1M485.8 381.8h1M513.5 397.6h1M490.1 386.7h1M455.7 406.0h1M476.7 395.5h1M487.0 393.2h1M506.1 389.0h1M480.7 395.3h1M461.5 391.6h1M451.2 386.1h1M473.3 401.8h1M482.0 407.3h1M443.9 387.2h1M463.6 392.9h1M502.8 387.1h1M436.7 393.7h1M428.1 395.0h1M450.3 393.4h1M452.8 394.0h1M500.3 394.7h1M497.4 387.0h1M477.6 402.0h1M441.5 390.2h1M441.1 396.4h1M450.5 382.1h1M426.4 393.4h1M464.6 391.5h1M468.8 400.1h1M452.3 400.5h1M467.6 388.3h1M452.4 380.4h1M488.9 402.2h1M493.4 392.9h1M502.4 386.3h1M464.1 397.8h1M479.0 388.2h1M453.6 400.4h1M462.8 380.9h1M506.9 389.0h1M480.8 400.1h1M486.7 394.7h1M461.6 397.9h1M456.9 395.0h1M455.3 389.0h1M470.7 404.4h1M467.4 395.8h1M492.1 385.2h1M485.0 390.7h1M466.6 404.5h1M509.5 406.8h1M452.0 387.8h1M489.3 396.2h1M425.4 403.0h1M490.5 401.4h1M469.2 382.6h1M469.9 390.4h1M470.4 396.3h1M460.2 393.7h1M475.8 398.2h1M508.7 389.0h1M477.4 397.5h1M436.8 402.5h1M505.9 401.2h1M427.0 391.3h1M466.2 396.1h1M502.6 400.6h1M427.6 394.0h1M476.4 399.5h1M481.7 406.8h1M465.8 390.9h1M468.9 392.7h1M451.1 395.5h1M473.6 384.2h1M463.3 390.6h1M504.4 397.0h1M468.8 393.7h1M498.1 382.7h1M450.5 400.5h1M436.8 382.5h1M452.2 388.2h1M473.4 387.0h1M500.8 396.2h1M450.6 397.5h1M456.1 397.3h1M454.3 404.5h1M490.8 389.8h1M477.3 391.7h1M428.9 393.4h1M474.8 388.2h1M441.9 388.5h1M463.1 397.1h1M447.0 391.7h1M498.4 388.4h1M471.1 386.1h1M470.2 391.0h1M503.0 394.3h1M456.7 392.1h1M502.8 400.0h1M464.5 385.0h1M469.1 402.0h1M474.1 385.3h1M479.1 393.0h1M470.6 393.5h1M448.2 388.8h1M493.3 397.5h1M445.2 383.1h1M496.4 398.1h1M473.5 391.4h1M460.6 398.2h1M480.8 398.1h1M435.8 399.5h1M499.5 391.3h1M495.2 392.5h1M469.8 394.4h1M465.3 395.2h1M500.7 403.2h1M485.9 398.1h1M439.9 393.2h1M481.9 395.1h1M458.7 388.6h1M493.9 398.6h1M485.1 395.7h1M498.2 398.2h1M512.0 391.7h1M493.7 399.7h1M460.9 386.0h1M468.9 401.5h1M446.0 393.4h1M460.0 393.4h1M425.4 403.6h1M446.1 399.1h1M471.0 382.6h1M467.9 388.2h1M466.0 390.3h1M466.7 393.7h1M475.5 398.3h1M445.5 403.0h1M502.8 391.7h1M502.0 381.5h1M512.5 397.0h1M444.2 385.5h1M476.2 396.7h1M436.2 393.2h1M464.0 390.7h1M469.1 406.5h1M506.2 392.1h1M445.8 397.0h1M457.4 395.2h1M488.1 396.9h1M494.8 406.9h1M436.9 404.6h1M501.4 388.3h1M452.3 396.0h1M450.1 392.3h1M473.5 392.8h1M455.1 390.0h1M442.6 398.4h1M430.8 407.3h1M499.4 392.3h1M454.7 392.8h1M477.0 387.2h1M474.3 379.9h1M442.5 387.5h1M457.4 393.5h1M461.3 395.1h1M499.6 406.8h1M460.2 396.9h1M461.9 395.4h1M455.9 391.6h1M477.2 403.6h1M473.7 394.0h1M462.8 386.1h1M443.9 395.1h1M493.2 394.9h1M447.6 393.6h1M492.8 394.3h1M495.8 384.7h1M478.0 387.2h1M483.2 397.6h1M499.0 395.1h1M493.1 391.7h1M458.2 394.6h1M470.6 386.6h1M495.3 406.1h1M485.8 395.6h1M425.4 397.7h1M482.7 398.4h1M475.8 388.8h1M474.4 394.0h1M471.6 400.1h1M476.7 392.0h1M446.0 382.5h1M514.7 392.6h1M497.3 396.8h1M472.5 397.7h1M471.8 405.1h1M458.2 392.9h1M467.9 396.8h1M507.5 389.6h1M425.4 397.4h1M486.9 393.9h1M469.6 398.7h1M446.7 388.2h1M427.2 393.2h1M448.6 393.5h1M440.1 380.7h1M497.4 396.8h1M496.5 402.8h1M426.6 399.7h1M471.5 379.2h1M472.0 388.6h1M504.6 390.8h1M482.3 394.9h1M488.5 391.5h1M507.7 386.0h1M470.8 380.1h1M470.8 386.3h1M478.6 390.1h1M501.0 397.2h1M479.6 393.4h1M477.0 390.8h1M483.3 404.7h1M471.5 385.8h1M489.8 386.6h1M473.8 394.4h1M473.1 400.6h1M491.9 389.1h1M483.2 388.4h1M501.7 393.0h1M486.6 387.2h1M502.5 392.2h1M477.0 401.6h1M488.4 389.8h1M495.0 389.1h1M483.4 398.3h1M471.8 391.2h1M483.9 394.5h1M473.1 385.5h1M481.3 386.8h1M486.3 391.6h1M486.5 393.3h1M472.4 390.1h1M486.9 399.8h1M488.0 392.5h1M507.3 389.6h1M499.6 396.2h1M471.3 392.1h1M493.5 385.3h1M500.5 389.2h1M489.7 391.0h1M489.2 387.8h1M502.1 387.4h1M503.0 390.4h1M474.6 397.1h1M485.8 390.5h1M471.2 390.6h1M483.0 387.1h1M470.9 386.4h1M472.8 398.6h1M493.7 389.2h1M472.5 391.4h1M489.6 388.5h1M482.5 398.3h1M481.3 389.7h1M497.9 391.5h1M483.6 386.4h1M495.7 393.5h1M480.7 391.4h1M499.5 391.5h1M482.4 392.9h1M485.2 397.9h1M481.0 389.5h1M476.3 392.9h1M469.6 388.9h1M466.8 391.4h1M481.7 390.8h1M478.0 386.8h1M486.5 378.4h1M472.2 401.9h1M487.0 401.1h1M505.5 392.9h1M473.6 394.7h1M474.4 392.6h1M487.1 401.6h1M482.4 391.1h1M481.7 406.3h1M483.1 397.4h1M475.6 389.8h1M514.7 387.0h1M490.4 395.6h1M490.7 398.2h1M481.5 401.3h1M488.2 391.0h1M490.3 393.0h1M482.8 395.5h1M475.5 394.9h1M480.9 377.0h1M496.4 391.6h1M481.4 390.0h1M467.5 384.5h1M489.5 390.3h1M496.9 403.7h1M478.9 382.9h1M498.9 395.9h1M502.8 393.9h1M487.7 387.4h1M502.9 392.7h1M500.3 392.4h1M478.5 396.5h1M496.0 377.9h1M479.9 395.7h1M496.6 392.4h1M476.1 394.3h1M480.1 375.6h1M463.8 394.8h1M475.7 396.2h1M494.4 377.4h1M485.6 383.1h1M496.5 380.6h1M498.0 390.4h1M484.0 393.0h1M474.8 391.6h1M476.0 405.5h1M495.3 393.1h1M488.5 383.7h1M479.1 386.4h1M502.4 398.6h1M485.9 385.7h1M466.6 388.4h1M472.5 392.7h1M467.1 393.4h1M484.1 387.1h1M486.8 386.8h1M480.1 387.3h1M506.0 384.1h1M486.9 386.7h1M478.0 397.6h1M482.7 391.5h1M460.8 388.6h1M506.3 397.5h1M450.6 383.3h1M482.0 383.1h1M485.2 386.2h1M500.9 400.5h1M497.6 385.8h1M487.6 399.4h1M474.6 392.0h1M472.9 392.9h1M500.3 391.5h1M508.8 390.6h1M493.3 401.8h1M474.1 398.0h1M468.3 388.7h1M479.8 401.1h1M471.9 400.2h1M469.2 392.8h1M493.9 392.4h1M508.4 392.9h1M469.3 391.2h1M496.2 381.5h1M460.5 404.1h1M471.3 398.6h1M490.1 387.5h1M475.8 395.3h1M478.8 397.7h1M487.2 390.8h1M504.4 391.8h1M470.3 389.4h1M479.3 402.2h1M492.6 388.3h1M477.3 392.5h1M484.9 404.2h1M477.5 387.4h1M480.5 389.5h1M495.3 392.6h1M478.7 390.8h1M475.6 391.1h1M483.6 402.3h1M473.4 400.1h1M485.0 386.7h1M505.7 394.8h1M471.3 390.0h1M479.5 385.5h1M486.2 392.1h1M499.9 390.9h1M465.0 399.7h1M496.7 387.6h1M500.3 393.0h1M472.8 396.6h1M487.8 389.7h1M490.3 388.2h1M485.0 394.2h1M491.8 395.4h1M459.4 389.9h1M489.3 396.9h1M474.0 398.6h1M475.1 399.6h1M486.9 394.0h1M469.5 387.9h1M487.3 393.9h1M483.0 390.6h1M500.0 388.4h1M491.0 397.7h1M489.4 393.4h1M471.5 402.4h1M500.5 387.1h1M475.5 386.5h1M469.0 391.9h1M473.9 392.6h1M489.8 388.2h1M471.2 397.5h1M494.9 391.3h1M474.8 395.0h1M487.6 397.9h1M486.7 388.7h1M476.1 393.2h1M468.3 387.6h1M494.5 397.1h1M491.1 400.5h1M481.6 388.7h1M486.1 397.6h1M474.0 403.7h1M498.7 384.9h1M475.4 396.6h1M488.7 398.9h1M489.6 391.7h1M479.3 394.9h1M490.2 388.3h1M481.4 392.7h1M480.2 385.8h1M490.5 383.4h1M484.7 387.8h1M484.9 400.6h1M509.6 396.8h1M482.6 385.6h1M482.2 394.3h1M467.2 389.0h1M488.7 394.3h1M480.1 386.3h1M487.9 386.5h1M507.2 391.1h1M479.1 399.2h1M474.7 389.1h1M492.1 384.0h1M488.5 388.3h1M471.2 392.3h1M483.3 392.0h1M489.6 386.5h1M496.7 402.4h1M468.1 389.1h1M484.0 384.1h1M488.2 391.5h1M481.7 395.6h1M479.9 389.3h1M490.9 393.1h1M491.3 399.2h1M473.2 394.4h1M498.4 393.1h1M484.9 395.1h1M490.9 393.7h1M479.6 394.6h1M478.6 393.3h1M482.9 380.3h1M483.1 394.6h1M489.5 392.0h1M474.1 384.3h1M462.0 393.8h1M495.6 400.2h1M504.6 385.4h1M491.9 387.3h1M463.7 391.6h1M478.9 395.7h1M492.3 393.3h1M501.1 403.2h1M481.3 397.7h1M501.6 391.0h1M480.2 393.6h1M479.0 396.2h1M495.9 390.5h1M493.6 391.7h1M507.5 396.3h1M502.3 397.3h1M477.6 389.7h1M490.9 387.0h1M499.0 391.7h1M508.8 387.7h1M473.0 399.0h1M482.8 383.8h1M501.6 393.8h1M485.5 388.6h1M488.4 393.8h1M480.0 391.7h1M491.6 387.4h1M502.9 392.2h1M478.7 394.2h1M471.5 396.2h1M499.9 382.8h1M483.9 393.7h1M476.4 384.6h1M473.1 383.9h1M490.9 384.7h1M487.5 389.7h1M500.4 389.5h1M490.5 394.5h1M479.1 388.5h1M493.2 390.6h1M472.0 393.1h1M493.7 390.6h1M498.7 386.5h1M460.9 386.4h1M498.6 385.8h1M481.8 392.0h1M487.9 401.1h1M496.7 398.3h1M478.8 397.4h1M494.3 382.2h1M484.8 386.0h1M453.8 388.6h1M498.4 388.8h1M505.8 398.6h1M490.3 393.3h1M481.1 389.2h1M485.4 383.4h1M497.2 403.8h1M501.1 392.4h1M504.6 391.3h1M464.8 394.4h1M500.7 389.0h1M494.2 395.4h1M482.0 387.0h1M491.1 398.2h1M492.9 397.8h1M499.4 398.1h1M490.9 406.2h1M497.1 397.8h1M480.5 389.4h1M475.3 387.1h1M479.7 389.9h1M464.3 394.2h1M478.9 389.5h1M473.6 403.2h1M496.9 394.7h1M473.4 392.0h1M490.2 392.5h1M491.6 387.0h1M481.9 398.9h1M489.3 393.3h1M493.8 383.6h1M488.1 397.5h1M493.5 394.9h1M466.8 391.2h1M463.7 392.1h1M499.2 392.4h1M490.7 393.4h1M482.3 389.7h1M488.0 391.3h1M473.3 396.7h1M480.5 390.8h1M479.6 397.4h1M483.5 382.1h1M482.6 388.9h1M461.2 395.7h1M489.7 397.4h1M458.1 379.4h1M501.6 394.0h1M471.9 394.3h1M487.7 390.2h1M477.2 389.5h1M485.6 383.0h1M479.5 394.2h1M486.6 383.2h1M468.2 388.6h1M492.8 391.1h1M477.6 382.4h1M482.6 405.4h1M474.3 406.3h1M459.3 384.5h1M499.4 385.5h1M476.6 397.3h1M468.0 386.8h1M464.6 398.9h1M487.8 399.6h1M489.1 395.4h1M484.1 394.3h1M471.1 389.0h1M469.4 399.0h1M469.0 389.9h1M493.5 395.2h1M491.4 393.0h1M488.5 389.9h1M476.2 389.2h1M474.6 381.8h1M498.7 378.9h1M495.8 391.2h1M503.6 391.7h1M483.3 397.8h1M464.0 390.8h1M503.8 399.9h1M477.9 385.4h1M476.0 395.7h1M470.5 397.8h1M468.7 395.8h1M488.3 390.7h1M511.0 394.2h1M492.0 402.8h1M478.5 394.9h1M496.6 393.0h1M482.0 391.3h1M494.0 392.9h1M498.4 385.7h1M484.5 398.6h1M470.0 397.2h1M482.8 398.0h1M476.9 392.4h1M468.5 396.8h1M481.3 392.4h1M476.7 398.8h1M486.2 398.4h1M475.3 390.4h1M494.2 403.7h1M506.9 397.7h1M496.6 396.8h1M474.2 390.8h1M469.0 383.7h1M483.4 394.4h1M492.0 404.2h1M470.0 386.7h1M477.5 395.9h1M479.8 385.3h1M490.6 390.7h1M475.7 400.2h1M495.3 388.8h1M486.2 389.7h1M478.7 388.4h1M481.8 387.8h1M488.4 396.9h1M482.1 383.2h1M494.7 389.3h1M503.3 396.9h1M484.3 402.0h1M473.1 392.9h1M492.7 393.3h1M484.9 385.8h1M499.7 385.1h1M454.3 388.9h1M496.1 392.6h1M481.4 392.1h1M489.3 390.0h1M477.3 390.2h1M475.9 397.0h1M483.3 396.1h1M477.3 385.2h1M510.9 400.3h1M491.1 395.1h1M482.9 398.1h1M461.3 393.3h1M496.6 397.2h1M479.0 389.2h1M477.7 397.6h1M499.5 385.7h1M480.9 392.8h1M472.3 401.1h1M475.0 394.9h1M483.0 391.2h1M475.0 385.2h1M493.7 396.6h1M490.3 388.8h1M475.0 391.5h1M474.6 390.6h1M471.0 403.8h1M470.9 372.0h1M478.7 398.3h1M470.3 401.5h1M473.8 399.2h1M491.1 399.2h1M482.0 405.7h1M466.8 403.5h1M475.8 390.3h1M460.9 388.1h1M477.9 382.0h1M471.0 389.1h1M498.2 401.2h1M474.9 385.8h1M478.8 402.1h1M475.5 391.6h1M503.9 392.0h1M475.9 382.1h1M481.4 386.9h1M508.0 388.9h1M479.4 386.9h1M481.6 392.5h1M500.9 385.2h1M474.8 388.7h1M485.8 391.3h1M478.2 395.2h1M477.0 389.0h1M466.6 384.5h1M480.4 394.1h1M505.8 393.4h1M473.4 393.8h1M490.0 393.0h1M508.4 392.5h1M494.3 394.1h1M470.8 393.8h1M487.7 401.0h1M464.6 379.2h1M492.7 395.3h1M445.9 396.5h1M440.5 394.9h1M442.5 389.0h1M439.5 382.5h1M440.6 392.2h1M425.0 387.4h1M431.7 387.5h1M425.1 398.5h1M431.8 392.3h1M429.8 393.7h1M445.2 401.8h1M446.6 386.0h1M449.2 393.9h1M440.5 390.3h1M426.4 393.2h1M432.1 392.4h1M454.0 394.5h1M446.1 400.5h1M425.8 392.0h1M458.5 404.0h1M439.8 381.3h1M445.7 402.3h1M429.9 399.9h1M437.1 387.7h1M449.1 391.4h1M426.0 395.5h1M451.1 403.9h1M430.7 404.4h1M442.8 395.9h1M434.4 391.1h1M434.4 395.0h1M437.6 383.8h1M438.1 390.5h1M451.4 395.8h1M452.5 398.2h1M445.5 385.5h1M445.0 387.2h1M439.2 395.6h1M436.2 385.0h1M432.7 388.2h1M436.5 395.8h1M454.5 390.4h1M460.8 382.9h1M435.2 394.9h1M429.6 393.8h1M428.0 400.3h1M440.0 406.8h1M441.7 398.3h1M443.2 389.7h1M438.9 388.8h1M431.5 397.2h1M440.4 404.7h1M459.1 388.5h1M441.1 394.7h1M426.3 397.1h1M453.6 392.8h1M439.4 399.6h1M448.3 395.9h1M440.1 388.3h1M444.4 400.4h1M450.3 388.2h1M447.4 397.6h1M442.2 404.4h1M431.5 396.7h1M445.4 390.0h1M436.1 400.5h1M435.2 389.1h1M433.5 389.0h1M445.6 386.8h1M438.3 385.8h1M437.1 387.9h1M445.1 398.1h1M439.3 394.4h1M441.3 386.2h1M426.1 394.7h1M444.3 394.8h1M439.5 391.8h1M447.3 388.3h1M457.4 391.1h1M433.1 396.5h1M425.9 397.6h1M426.0 395.8h1M454.9 392.9h1M425.2 392.7h1M428.1 393.8h1M451.6 392.9h1M436.1 392.5h1M425.4 388.0h1M440.7 403.8h1M439.6 403.0h1M437.6 401.4h1M440.4 392.0h1M445.9 387.3h1M440.3 398.6h1M426.1 390.2h1M441.5 395.6h1M441.5 402.0h1M427.5 399.3h1M438.8 387.8h1M435.7 391.7h1M430.0 388.0h1M441.1 402.4h1M455.5 405.8h1M436.9 389.9h1M438.6 385.3h1M430.0 399.9h1M440.9 384.5h1M448.1 390.1h1M465.6 385.0h1M436.7 396.7h1M440.4 400.5h1M444.1 397.0h1M439.8 392.3h1M433.0 389.5h1M438.3 389.0h1M433.8 394.1h1M457.9 394.7h1M435.0 397.2h1M447.9 391.2h1M435.2 392.7h1M447.5 383.6h1M445.6 391.3h1M444.5 394.5h1M433.4 387.4h1M430.3 400.4h1M442.3 401.6h1M435.7 395.1h1M440.9 389.7h1M444.7 383.8h1M430.9 396.0h1M441.4 396.7h1M437.1 388.1h1M432.0 391.3h1M439.5 397.1h1M440.7 387.1h1M450.5 403.5h1M443.7 397.1h1M446.3 399.9h1M440.4 392.0h1M452.5 389.3h1M444.6 388.0h1M436.3 394.5h1M438.6 405.6h1M435.8 406.1h1M450.1 381.8h1M446.0 398.4h1M443.9 389.0h1M440.1 394.7h1M428.9 391.9h1M441.7 398.0h1M436.3 390.8h1M444.1 381.6h1M435.8 395.0h1M433.2 391.3h1M451.2 399.3h1M433.3 391.8h1M440.3 403.1h1M447.3 390.7h1M434.5 391.3h1M428.4 395.2h1M435.8 401.2h1M437.4 393.0h1M446.8 397.7h1M446.8 399.5h1M429.5 388.9h1M449.3 388.1h1M440.6 390.6h1M454.5 383.6h1M425.8 387.4h1M430.9 391.5h1M445.5 399.3h1M436.3 383.1h1M448.5 389.0h1M448.2 391.5h1M449.4 394.2h1M425.0 390.9h1M440.2 394.8h1M439.0 389.6h1M446.9 387.3h1M447.2 399.0h1M440.9 389.3h1M443.0 392.9h1M447.2 400.0h1M434.6 386.2h1M445.3 391.6h1M450.7 395.6h1M434.6 398.3h1M425.2 401.1h1M437.0 402.5h1M433.3 391.5h1M445.9 391.1h1M438.2 397.2h1M502.2 380.4h1M503.0 385.7h1M500.5 383.8h1M496.7 385.0h1M506.8 383.5h1M510.1 377.0h1M508.6 384.1h1M494.8 389.5h1M499.6 392.7h1M512.6 383.2h1M514.4 380.4h1M509.8 381.1h1M503.4 389.6h1M508.6 381.9h1M497.0 389.6h1M493.0 384.5h1M499.0 387.1h1M507.4 385.4h1M508.3 381.4h1M513.6 378.2h1M500.4 384.2h1M508.0 383.1h1M512.1 375.2h1M509.7 382.0h1M511.0 381.0h1M496.1 391.5h1M508.8 378.7h1M504.4 385.6h1M506.9 385.6h1M507.8 386.9h1M503.3 386.4h1M509.1 380.8h1M505.8 383.8h1M503.6 384.2h1M503.7 384.1h1M496.8 387.2h1M500.9 384.7h1M513.5 374.6h1M510.4 375.9h1M510.7 381.8h1M499.0 384.9h1M505.8 382.0h1M506.0 387.0h1M487.3 386.6h1M504.7 384.3h1M495.6 390.7h1M511.0 384.3h1M495.7 383.3h1M501.2 388.8h1M500.0 384.4h1M499.3 381.7h1M501.2 381.0h1M497.9 389.3h1M502.4 386.5h1M511.2 384.5h1M507.3 385.5h1M503.3 387.3h1M490.9 392.2h1M497.5 385.5h1M498.9 388.0h1M507.9 379.8h1M499.4 385.4h1M506.6 385.4h1M509.2 384.1h1M511.0 383.0h1M502.3 384.1h1M505.2 380.6h1M500.5 383.1h1M507.5 378.9h1M510.5 385.0h1M504.1 389.3h1M502.1 386.4h1M508.3 384.6h1M506.8 383.1h1M499.6 387.3h1M500.6 380.5h1M510.2 382.1h1M508.6 384.0h1M509.7 382.7h1M495.7 382.3h1M508.8 384.3h1M511.1 379.6h1M503.1 385.2h1M508.9 383.6h1M503.5 383.8h1M493.9 387.1h1M509.9 382.6h1M498.0 388.2h1M504.2 379.7h1M500.0 386.6h1M500.3 383.0h1M511.6 380.5h1M497.4 383.9h1M498.1 386.4h1M500.8 381.7h1M510.1 382.5h1M488.8 389.0h1M508.0 379.6h1M503.7 386.2h1M499.5 387.2h1M500.8 386.2h1M497.2 386.8h1M512.1 384.6h1M504.0 382.4h1M505.0 384.8h1M496.1 387.4h1M498.2 388.1h1M503.6 383.9h1M511.7 383.2h1M513.4 379.4h1M500.6 386.1h1M510.8 385.5h1M505.5 380.8h1M509.2 384.0h1M502.3 379.8h1M494.8 390.7h1" stroke="#000" stroke-opacity="0.72" stroke-width="1" fill="none"/>
<path d="M465.4 339.7V408.3M424.4 387.4H516.4" stroke="#888" stroke-width="0.8" fill="none"/>
<path d="M424.4 339.7H516.4V408.3" stroke="#222" stroke-width="1" fill="none"/>
<path d="M424.4 339.2V409.3" stroke="#000" stroke-width="1.7" fill="none"/>
<path d="M423.6 408.3H516.9" stroke="#000" stroke-width="2" fill="none"/>
<path d="M424.4 408.3h-4M424.4 408.3v4M424.4 403.137h-2M431.324 408.3v2M424.4 400.117h-2M435.374 408.3v2M424.4 396.313h-2M440.476 408.3v2M424.4 393.807h-2M443.837 408.3v2M424.4 391.15h-4M447.4 408.3v4M424.4 385.987h-2M454.324 408.3v2M424.4 382.967h-2M458.374 408.3v2M424.4 379.163h-2M463.476 408.3v2M424.4 376.657h-2M466.837 408.3v2M424.4 374h-4M470.4 408.3v4M424.4 368.837h-2M477.324 408.3v2M424.4 365.817h-2M481.374 408.3v2M424.4 362.013h-2M486.476 408.3v2M424.4 359.507h-2M489.837 408.3v2M424.4 356.85h-4M493.4 408.3v4M424.4 351.687h-2M500.324 408.3v2M424.4 348.667h-2M504.374 408.3v2M424.4 344.863h-2M509.476 408.3v2M424.4 342.357h-2M512.837 408.3v2M424.4 339.7h-4M516.4 408.3v4" stroke="#333" stroke-width="0.7" fill="none"/>
<text x="410.3" y="413.8" font-size="7.2" text-anchor="end">10</text><text x="415.3" y="407.6" font-size="5.2" text-anchor="middle">0</text>
<text x="421.2" y="424.6" font-size="7.2" text-anchor="end">10</text><text x="425.9" y="417.6" font-size="5.2" text-anchor="middle">0</text>
<text x="410.3" y="396.65" font-size="7.2" text-anchor="end">10</text><text x="415.3" y="390.45" font-size="5.2" text-anchor="middle">1</text>
<text x="444.2" y="424.6" font-size="7.2" text-anchor="end">10</text><text x="448.9" y="417.6" font-size="5.2" text-anchor="middle">1</text>
<text x="410.3" y="379.5" font-size="7.2" text-anchor="end">10</text><text x="415.3" y="373.3" font-size="5.2" text-anchor="middle">2</text>
<text x="467.2" y="424.6" font-size="7.2" text-anchor="end">10</text><text x="471.9" y="417.6" font-size="5.2" text-anchor="middle">2</text>
<text x="410.3" y="362.35" font-size="7.2" text-anchor="end">10</text><text x="415.3" y="356.15" font-size="5.2" text-anchor="middle">3</text>
<text x="490.2" y="424.6" font-size="7.2" text-anchor="end">10</text><text x="494.9" y="417.6" font-size="5.2" text-anchor="middle">3</text>
<text x="410.3" y="345.2" font-size="7.2" text-anchor="end">10</text><text x="415.3" y="339" font-size="5.2" text-anchor="middle">4</text>
<text x="513.2" y="424.6" font-size="7.2" text-anchor="end">10</text><text x="517.9" y="417.6" font-size="5.2" text-anchor="middle">4</text>
<text transform="translate(394.1,381.3) rotate(-90)" font-size="10.1" text-anchor="middle" stroke-width="0.35">NKG2D</text>
<text x="465.7" y="438.5" font-size="9.3" text-anchor="middle" stroke-width="0.35">4-1BB</text>
<text x="434.8" y="355.7" font-size="9.3" font-weight="bold" text-anchor="middle">6</text>
<text x="498.9" y="357.2" font-size="9.3" font-weight="bold" text-anchor="middle">12</text>
<rect x="426.85" y="397.2" width="11.9" height="8" fill="#fff"/>
<text x="432.8" y="404.4" font-size="9.3" font-weight="bold" text-anchor="middle">25</text>
<rect x="503.95" y="393.4" width="11.9" height="8" fill="#fff"/>
<text x="509.9" y="400.6" font-size="9.3" font-weight="bold" text-anchor="middle">57</text>
<path d="M128.8 506.5h1M121.8 507.6h1M129.2 519.1h1M135.2 516.8h1M129.3 508.2h1M135.7 524.9h1M138.0 525.5h1M122.9 525.3h1M124.9 532.1h1M122.7 514.9h1M126.7 515.0h1M130.5 510.5h1M128.1 509.9h1M139.3 518.5h1M116.6 521.6h1M121.0 517.2h1M122.0 531.3h1M135.6 503.0h1M123.3 511.9h1M117.1 526.2h1M115.6 506.0h1M126.9 512.6h1M126.6 521.6h1M128.6 512.2h1M124.9 520.9h1M109.9 519.9h1M124.8 530.9h1M127.7 509.2h1M122.0 516.5h1M122.2 511.2h1M136.4 517.8h1M116.4 531.6h1M121.8 515.0h1M124.3 516.2h1M133.2 533.0h1M113.0 522.4h1M129.0 527.2h1M128.2 532.1h1M120.4 515.5h1M122.9 522.7h1M130.0 529.9h1M125.6 522.5h1M120.4 524.6h1M134.9 519.0h1M109.4 530.2h1M125.4 511.9h1M122.4 522.5h1M132.2 526.0h1M124.6 516.9h1M122.1 520.1h1M121.1 515.7h1M119.9 508.9h1M120.5 523.4h1M131.9 521.8h1M116.5 510.7h1M141.1 534.1h1M133.6 516.1h1M115.4 517.0h1M123.4 525.4h1M125.4 511.6h1M117.5 523.0h1M133.7 524.8h1M125.7 523.6h1M114.7 517.8h1M117.7 518.2h1M123.0 513.1h1M132.5 518.9h1M137.4 520.0h1M124.4 513.0h1M121.1 523.3h1M127.6 531.9h1M131.2 515.2h1M118.8 516.4h1M135.8 527.9h1M103.0 515.3h1M141.6 511.4h1M126.7 522.9h1M128.4 516.4h1M125.1 515.5h1M126.3 517.3h1M140.7 526.9h1M118.3 518.8h1M140.8 517.4h1M128.9 530.3h1M120.3 524.7h1M124.8 524.1h1M124.9 524.8h1M133.1 532.7h1M119.6 525.7h1M131.5 509.7h1M138.0 533.9h1M140.9 513.9h1M119.8 531.1h1M125.7 518.1h1M118.1 527.0h1M108.3 514.8h1M130.8 506.6h1M134.3 518.7h1M127.5 519.2h1M128.0 516.6h1M118.4 519.5h1M137.2 523.8h1M128.3 514.7h1M127.4 531.5h1M125.5 519.3h1M120.3 534.3h1M125.9 525.2h1M111.1 523.9h1M129.9 513.1h1M126.0 518.1h1M134.1 522.2h1M124.1 516.6h1M142.1 523.2h1M128.0 521.7h1M129.8 521.0h1M124.6 528.5h1M123.4 514.7h1M119.8 518.9h1M123.6 517.9h1M126.9 519.4h1M131.8 517.3h1M122.1 518.0h1M121.1 521.4h1M118.2 510.1h1M139.1 503.8h1M117.3 521.9h1M123.1 524.1h1M105.5 518.5h1M139.5 523.5h1M122.2 528.0h1M125.8 530.6h1M120.1 519.6h1M126.3 519.7h1M141.3 528.3h1M134.0 523.0h1M125.9 517.8h1M131.9 517.5h1M135.3 517.7h1M117.7 514.6h1M135.1 523.9h1M126.9 507.1h1M125.8 509.0h1M132.7 524.7h1M124.7 519.4h1M127.4 516.3h1M121.2 517.3h1M137.3 534.3h1M117.5 511.7h1M118.9 513.9h1M129.0 517.7h1M122.9 522.9h1M120.4 515.5h1M132.1 517.1h1M125.5 512.2h1M117.9 527.6h1M134.6 528.5h1M129.1 532.0h1M142.9 526.4h1M128.1 518.3h1M136.5 532.6h1M129.8 514.2h1M130.3 510.7h1M127.2 530.2h1M123.2 521.5h1M134.6 510.5h1M127.3 526.9h1M123.8 513.3h1M126.5 528.0h1M130.4 518.5h1M126.9 527.5h1M152.0 517.4h1M138.4 520.0h1M130.5 523.1h1M133.2 525.7h1M147.8 518.8h1M115.5 530.6h1M125.8 516.9h1M132.2 516.2h1M131.2 519.0h1M134.8 514.6h1M121.9 519.1h1M113.5 520.4h1M106.0 512.7h1M110.1 516.2h1M135.7 528.0h1M113.6 511.0h1M122.4 526.2h1M129.4 514.5h1M116.3 529.3h1M121.5 513.0h1M140.5 520.7h1M121.9 522.1h1M123.7 522.0h1M134.7 509.0h1M138.7 517.3h1M131.4 525.7h1M127.4 519.5h1M124.5 522.8h1M130.1 524.4h1M124.8 517.7h1M132.7 514.0h1M128.7 522.4h1M119.7 518.5h1M123.2 519.5h1M121.2 526.1h1M135.1 523.7h1M132.8 511.6h1M134.8 526.7h1M130.8 521.4h1M136.8 520.0h1M129.8 524.6h1M139.3 529.7h1M134.3 527.8h1M130.0 512.3h1M120.7 516.4h1M132.1 509.8h1M138.0 524.6h1M132.8 525.7h1M130.7 526.9h1M119.7 510.1h1M125.8 521.6h1M110.1 524.3h1M116.5 516.4h1M128.1 509.6h1M145.9 514.0h1M126.0 506.8h1M130.9 523.8h1M124.4 510.6h1M135.9 510.3h1M124.6 523.2h1M124.9 516.7h1M120.6 519.7h1M117.5 525.4h1M119.6 512.3h1M142.7 525.0h1M122.1 504.9h1M118.2 512.9h1M137.1 512.0h1M125.5 518.0h1M139.6 521.2h1M131.5 513.8h1M129.1 526.8h1M134.3 509.6h1M130.7 522.9h1M130.5 530.7h1M126.9 534.2h1M122.5 521.9h1M123.2 521.4h1M128.3 518.5h1M120.2 522.9h1M132.5 520.7h1M142.8 518.6h1M112.7 526.3h1M140.2 512.0h1M125.5 510.5h1M114.3 518.7h1M109.7 508.3h1M134.3 533.1h1M127.3 511.9h1M130.8 514.8h1M118.9 525.3h1M132.9 518.5h1M133.7 511.1h1M132.9 516.7h1M118.3 506.9h1M136.2 512.3h1M133.1 511.1h1M122.1 518.0h1M105.2 517.3h1M129.2 518.8h1M125.0 524.4h1M129.8 515.8h1M127.5 514.9h1M115.5 534.3h1M134.5 526.0h1M124.9 531.1h1M138.0 523.8h1M121.3 528.7h1M145.6 522.5h1M115.2 508.0h1M126.9 517.0h1M126.7 512.7h1M132.1 533.5h1M123.2 513.9h1M137.4 523.9h1M132.5 521.4h1M131.7 520.8h1M126.9 514.0h1M133.4 519.0h1M131.0 508.6h1M120.2 512.0h1M136.6 529.6h1M135.7 515.5h1M128.3 522.2h1M126.2 534.3h1M124.3 524.7h1M124.9 519.2h1M130.4 507.7h1M126.3 521.1h1M138.8 512.0h1M127.5 514.7h1M138.0 516.7h1M149.1 523.4h1M125.4 515.3h1M135.3 513.5h1M125.8 518.2h1M130.2 531.6h1M132.2 519.9h1M136.6 523.4h1M136.1 528.8h1M113.7 523.2h1M145.3 509.8h1M129.7 525.7h1M129.0 513.4h1M133.7 517.1h1M122.7 515.7h1M125.9 513.9h1M115.7 524.8h1M129.1 516.1h1M129.6 523.8h1M128.3 509.1h1M124.0 507.1h1M128.0 527.7h1M134.5 519.7h1M122.0 516.3h1M128.5 514.9h1M115.7 523.3h1M129.1 529.7h1M125.0 520.8h1M136.2 525.8h1M132.3 510.0h1M134.7 511.6h1M129.7 506.4h1M118.9 514.6h1M130.1 523.9h1M130.3 521.2h1M121.8 523.2h1M113.1 514.4h1M125.0 534.2h1M129.6 515.6h1M122.5 517.0h1M132.2 521.5h1M127.3 520.3h1M141.3 521.5h1M137.6 509.0h1M128.6 520.2h1M131.8 514.2h1M120.0 528.5h1M120.0 518.3h1M129.3 522.3h1M122.9 504.7h1M132.5 520.7h1M120.8 518.6h1M117.6 520.1h1M126.7 523.0h1M114.2 525.7h1M133.4 526.1h1M130.9 511.1h1M116.5 532.7h1M132.3 496.2h1M124.2 527.2h1M112.4 523.6h1M119.6 513.5h1M110.2 518.1h1M124.4 522.5h1M129.7 524.2h1M145.1 530.4h1M113.5 515.2h1M117.7 521.9h1M129.6 534.1h1M119.8 522.9h1M126.2 505.4h1M136.2 519.4h1M113.7 525.5h1M122.2 521.6h1M120.2 520.3h1M126.4 531.5h1M120.5 527.5h1M125.7 522.8h1M129.7 507.6h1M123.9 510.3h1M131.3 526.8h1M134.0 508.9h1M117.5 514.2h1M128.3 521.6h1M127.9 518.4h1M126.8 526.6h1M123.2 509.2h1M139.3 507.5h1M126.2 524.7h1M132.1 523.9h1M143.3 530.2h1M118.7 515.8h1M143.5 525.0h1M127.4 531.5h1M128.8 524.8h1M133.4 526.1h1M124.8 528.4h1M125.8 514.6h1M133.5 525.7h1M120.0 524.0h1M123.7 522.6h1M136.2 527.4h1M118.9 511.5h1M120.8 513.1h1M132.8 534.1h1M118.3 517.9h1M126.5 526.3h1M135.1 518.6h1M128.4 516.1h1M121.8 516.2h1M127.7 525.4h1M117.9 525.6h1M113.7 527.1h1M135.8 530.9h1M113.9 524.3h1M122.1 522.8h1M136.0 513.4h1M125.3 511.1h1M122.1 502.5h1M125.8 501.1h1M123.1 524.3h1M138.3 510.6h1M133.5 514.7h1M110.4 528.3h1M128.4 523.5h1M130.2 524.7h1M120.2 522.9h1M124.9 520.0h1M121.8 526.5h1M135.6 522.2h1M136.6 513.8h1M142.0 514.9h1M125.3 519.6h1M136.8 522.9h1M130.9 514.3h1M136.1 528.2h1M118.3 517.6h1M134.1 525.9h1M115.7 514.6h1M129.6 517.9h1M130.4 514.1h1M120.7 522.8h1M130.1 512.4h1M135.2 522.9h1M127.9 520.5h1M134.4 521.7h1M126.7 519.6h1M138.3 530.9h1M105.4 514.2h1M107.8 514.9h1M124.1 513.0h1M131.3 520.7h1M130.1 509.5h1M125.6 523.5h1M115.2 507.1h1M127.3 534.3h1M121.7 518.5h1M132.2 529.6h1M131.9 517.4h1M127.3 523.4h1M128.5 524.3h1M121.9 522.1h1M123.9 515.1h1M126.1 526.8h1M128.3 521.5h1M127.7 519.9h1M125.8 517.5h1M110.4 521.4h1M121.9 515.6h1M120.1 523.8h1M125.9 521.6h1M129.5 522.7h1M128.9 525.6h1M135.8 525.3h1M130.0 527.5h1M123.7 511.8h1M126.2 507.3h1M121.8 521.1h1M138.9 522.3h1M122.5 523.8h1M131.4 521.7h1M134.0 514.5h1M135.8 508.4h1M127.1 524.5h1M131.5 516.1h1M111.7 510.0h1M118.8 521.1h1M142.4 515.8h1M138.2 514.6h1M127.4 521.7h1M145.0 521.6h1M111.0 515.6h1M132.7 518.1h1M133.3 518.5h1M129.7 524.5h1M146.0 519.0h1M121.5 525.9h1M133.5 508.2h1M133.1 515.5h1M128.1 527.8h1M137.1 515.6h1M130.7 516.2h1M109.2 518.8h1M114.2 514.2h1M130.1 512.4h1M122.4 509.5h1M118.0 522.6h1M133.1 506.1h1M134.6 518.9h1M122.5 511.6h1M130.5 515.3h1M121.0 520.6h1M131.1 509.1h1M130.8 519.6h1M133.7 526.8h1M128.2 513.2h1M136.3 523.9h1M120.6 514.6h1M126.0 525.9h1M128.6 532.2h1M117.7 527.0h1M121.5 518.0h1M124.8 529.7h1M138.7 507.7h1M130.5 524.0h1M131.2 522.1h1M117.4 526.8h1M136.2 514.8h1M131.7 524.9h1M131.0 523.9h1M118.6 515.8h1M130.0 524.5h1M136.0 513.5h1M121.3 515.8h1M122.9 530.8h1M138.6 520.5h1M137.9 516.8h1M129.0 520.0h1M128.1 515.1h1M116.8 524.3h1M124.0 514.4h1M119.7 505.4h1M119.1 520.9h1M120.6 506.4h1M119.9 504.7h1M130.9 502.3h1M127.0 530.0h1M128.0 522.9h1M116.5 533.7h1M125.1 525.3h1M147.3 510.7h1M127.4 513.0h1M128.3 517.2h1M129.9 519.7h1M124.0 524.0h1M132.5 513.6h1M132.5 513.0h1M121.9 524.1h1M135.4 521.8h1M147.4 513.9h1M130.3 518.2h1M112.8 524.2h1M128.7 521.6h1M127.9 522.3h1M126.2 508.5h1M129.6 519.3h1M122.8 507.6h1M128.4 522.1h1M141.0 517.9h1M131.7 521.4h1M124.3 515.9h1M122.8 521.1h1M134.7 523.9h1M112.0 515.9h1M134.5 519.7h1M136.1 523.4h1M130.6 524.9h1M138.4 517.6h1M121.7 511.2h1M130.6 529.6h1M130.4 518.9h1M130.9 514.1h1M130.5 529.2h1M129.9 516.1h1M130.1 527.3h1M129.7 527.5h1M128.8 519.4h1M122.2 521.6h1M132.3 527.6h1M135.5 516.9h1M115.4 515.6h1M140.2 505.4h1M124.5 523.3h1M136.4 514.7h1M130.3 516.9h1M128.0 516.1h1M129.7 522.1h1M121.6 525.0h1M116.7 505.7h1M117.5 523.4h1M120.3 523.2h1M126.9 520.2h1M126.5 530.7h1M130.7 509.3h1M119.3 522.1h1M129.2 524.3h1M137.6 519.4h1M118.8 524.4h1M120.3 519.8h1M119.6 523.2h1M140.5 510.7h1M124.9 527.0h1M133.0 525.6h1M135.9 520.1h1M125.7 519.8h1M132.5 526.2h1M120.3 520.5h1M133.7 521.6h1M124.8 522.2h1M122.4 516.6h1M114.7 517.3h1M136.4 520.2h1M116.0 508.2h1M121.4 507.1h1M124.0 515.2h1M132.2 508.7h1M108.8 520.8h1M143.7 524.1h1M120.8 526.3h1M128.4 515.4h1M125.6 519.5h1M146.5 523.5h1M128.6 526.7h1M140.5 530.7h1M111.3 518.9h1M125.8 527.2h1M127.2 528.8h1M124.2 510.7h1M121.1 516.4h1M128.5 519.1h1M132.9 528.5h1M142.3 517.2h1M127.4 534.3h1M117.0 521.9h1M120.3 511.7h1M139.4 509.2h1M120.2 533.0h1M122.1 529.2h1M133.2 527.9h1M123.0 513.5h1M130.9 518.7h1M126.8 509.4h1M135.8 520.3h1M151.8 534.3h1M136.2 525.3h1M123.0 518.5h1M136.6 515.8h1M122.4 515.8h1M131.0 524.6h1M132.2 520.5h1M119.0 519.7h1M127.3 515.6h1M129.6 527.7h1M124.3 513.9h1M128.1 523.0h1M121.9 524.7h1M128.7 514.5h1M119.9 529.3h1M127.6 521.4h1M144.5 516.8h1M124.4 524.7h1M121.7 520.7h1M130.8 505.3h1M125.1 512.6h1M137.1 505.6h1M131.8 529.0h1M137.9 534.3h1M129.3 512.6h1M126.6 513.7h1M135.8 522.8h1M134.9 523.0h1M133.3 512.2h1M126.4 524.3h1M118.1 516.5h1M131.0 517.1h1M118.5 521.1h1M123.3 522.6h1M119.6 525.4h1M129.4 525.3h1M108.3 516.7h1M119.7 520.2h1M136.4 521.3h1M124.8 522.4h1M116.1 521.1h1M119.2 528.7h1M125.1 517.6h1M136.3 522.1h1M118.9 514.0h1M128.0 525.9h1M125.4 512.6h1M121.3 518.6h1M120.7 513.7h1M140.4 519.7h1M134.7 500.0h1M138.6 515.6h1M120.8 520.6h1M124.6 512.5h1M125.2 522.6h1M117.1 512.7h1M127.6 515.5h1M130.2 529.1h1M138.5 530.1h1M137.1 515.1h1M126.3 528.5h1M127.7 513.1h1M120.6 511.8h1M138.6 512.9h1M122.1 511.8h1M135.4 513.4h1M124.4 513.9h1M135.0 525.1h1M130.1 534.1h1M124.4 523.5h1M120.8 516.6h1M138.1 519.1h1M132.6 523.1h1M134.1 524.8h1M120.1 518.4h1M123.0 512.8h1M132.1 509.9h1M126.2 532.7h1M132.8 520.4h1M146.4 522.6h1M112.0 516.5h1M130.5 519.3h1M128.3 518.7h1M122.7 507.7h1M114.4 529.2h1M128.0 511.3h1M126.1 523.5h1M135.9 523.5h1M121.9 518.8h1M123.8 519.0h1M123.2 529.4h1M132.7 526.4h1M138.0 530.3h1M145.0 510.6h1M124.6 529.9h1M146.4 527.5h1M126.2 517.7h1M129.4 522.0h1M116.1 533.0h1M128.7 513.5h1M127.4 518.6h1M119.4 517.6h1M143.0 526.7h1M112.5 500.2h1M119.9 512.0h1M133.3 525.2h1M135.2 514.1h1M121.3 513.6h1M126.2 520.3h1M128.0 523.9h1M129.2 520.8h1M127.9 496.5h1M122.1 507.0h1M130.9 532.7h1M115.5 528.9h1M127.5 525.4h1M121.4 518.7h1M126.3 530.8h1M132.6 500.1h1M122.8 514.1h1M116.6 521.3h1M112.1 510.9h1M108.4 512.2h1M118.4 520.6h1M134.0 520.6h1M125.8 519.6h1M123.3 520.8h1M125.2 533.9h1M130.4 517.8h1M119.1 515.3h1M133.3 521.4h1M118.8 517.9h1M124.3 518.4h1M118.7 513.2h1M130.8 527.9h1M142.4 513.6h1M119.8 513.8h1M127.0 511.8h1M124.9 513.0h1M114.8 515.6h1M105.6 514.8h1M112.3 526.6h1M113.5 512.9h1M109.3 524.2h1M117.0 533.2h1M128.6 516.9h1M111.8 512.0h1M108.5 510.9h1M120.4 521.8h1M110.9 529.3h1M100.0 506.0h1M110.8 510.0h1M107.3 533.9h1M142.0 534.6h1M106.6 521.6h1M115.8 510.5h1M129.1 520.9h1M139.3 525.7h1M123.5 527.4h1M139.2 520.9h1M118.4 529.3h1M123.6 527.8h1M147.4 534.3h1M120.7 512.5h1M126.8 518.4h1M134.1 512.7h1M137.0 520.1h1M120.3 521.5h1M112.8 517.9h1M129.3 516.6h1M131.4 515.6h1M129.7 507.7h1M138.7 516.2h1M115.0 526.4h1M122.6 525.2h1M118.3 528.5h1M122.7 520.1h1M105.3 520.9h1M133.7 532.6h1M128.1 534.3h1M119.6 524.7h1M127.5 525.9h1M130.2 526.8h1M135.3 519.4h1M103.6 530.3h1M127.4 522.7h1M130.5 515.2h1M126.1 526.1h1M120.4 496.2h1M104.2 529.4h1M112.8 522.4h1M116.9 528.5h1M121.9 534.3h1M133.6 525.8h1M121.7 518.7h1M140.8 518.2h1M116.7 516.2h1M129.8 534.3h1M124.4 520.8h1M125.8 515.5h1M138.7 526.6h1M144.2 530.7h1M128.4 514.9h1M132.3 529.5h1M122.0 518.5h1M120.0 516.6h1M115.9 524.7h1M137.1 526.4h1M112.6 534.3h1M140.6 512.8h1M101.9 520.0h1M114.2 529.8h1M108.0 518.2h1M144.8 520.0h1M129.5 515.0h1M130.9 523.9h1M118.9 501.1h1M124.1 513.5h1M137.1 524.5h1M108.4 534.3h1M136.4 514.7h1M125.4 506.7h1M107.0 519.8h1M145.9 516.3h1M136.2 533.4h1M110.3 518.5h1M134.9 529.5h1M127.9 516.9h1M155.1 505.2h1M128.1 531.7h1M109.4 521.8h1M130.1 525.8h1M147.0 514.8h1M137.7 517.8h1M117.0 521.0h1M105.4 526.3h1M127.1 520.9h1M119.6 518.7h1M131.3 519.9h1M115.1 509.0h1M126.3 530.6h1M114.2 523.6h1M118.0 523.0h1M112.2 497.9h1M108.3 518.6h1M114.2 520.6h1M120.5 507.2h1M132.8 526.3h1M137.6 530.7h1M150.2 522.7h1M146.4 527.8h1M128.1 531.3h1M114.1 500.3h1M127.7 517.3h1M118.8 511.7h1M129.7 529.7h1M124.6 520.3h1M116.5 510.3h1M133.7 514.1h1M122.2 534.3h1M138.6 529.7h1M120.7 523.9h1M135.5 534.3h1M139.3 534.3h1M141.4 525.3h1M103.6 518.4h1M131.0 518.1h1M140.2 520.5h1M125.8 514.6h1M144.4 520.7h1M112.4 522.1h1M135.0 513.0h1M151.0 519.8h1M121.8 506.6h1M120.6 517.0h1M127.9 522.8h1M126.6 534.3h1M124.4 507.2h1M127.8 526.3h1M111.9 523.5h1M119.7 504.0h1M121.5 513.1h1M111.3 517.2h1M105.6 517.6h1M137.5 534.3h1M131.3 506.6h1M130.6 524.6h1M121.9 504.7h1M113.0 523.9h1M110.3 522.2h1M104.1 531.7h1M112.2 533.7h1M119.6 520.0h1M99.5 519.8h1M105.6 506.9h1M136.3 523.3h1M129.6 534.3h1M116.3 533.8h1M120.5 519.6h1M112.6 515.7h1M121.6 534.0h1M115.4 516.4h1M120.7 517.6h1M149.5 527.4h1M152.5 511.5h1M145.0 520.5h1M106.4 516.4h1M136.7 519.0h1M127.2 531.7h1M99.4 528.6h1M139.2 515.1h1M137.1 526.5h1M134.0 529.1h1M130.8 508.8h1M114.0 522.1h1M147.7 513.4h1M117.4 521.2h1M115.7 512.8h1M111.1 526.3h1M120.8 525.9h1M112.1 512.2h1M100.8 527.3h1M113.7 520.9h1M120.0 532.4h1M112.0 510.0h1M121.7 512.5h1M124.0 509.2h1M121.8 525.7h1M102.9 508.6h1M146.6 516.0h1M130.3 510.2h1M122.3 528.5h1M129.2 515.5h1M104.4 522.1h1M128.8 521.5h1M129.7 534.3h1M123.3 517.2h1M134.7 534.3h1M121.5 516.9h1M124.7 506.8h1M154.3 526.6h1M117.9 530.7h1M104.4 519.2h1M117.3 519.6h1M132.3 512.3h1M135.5 527.2h1M127.5 529.9h1M117.5 506.2h1M128.1 527.3h1M141.3 518.5h1M129.6 532.4h1M122.1 524.5h1M118.3 517.3h1M135.4 531.5h1M127.2 520.3h1M122.0 516.0h1M124.4 521.6h1M144.5 522.8h1M123.9 520.2h1M124.6 523.3h1M111.7 525.4h1M131.2 534.3h1M137.7 528.8h1M134.6 531.3h1M128.4 525.3h1M133.0 520.5h1M102.4 525.0h1M139.7 520.9h1M137.5 529.9h1M114.5 510.1h1M102.6 532.0h1M138.2 525.4h1M123.9 514.5h1M108.0 529.1h1M118.3 523.2h1M137.4 520.5h1M127.1 525.0h1M152.6 522.9h1M133.5 529.9h1M144.5 515.8h1M112.4 517.0h1M110.3 506.5h1M124.7 527.2h1M105.9 527.4h1M136.4 513.3h1M125.9 524.5h1M140.3 521.7h1M108.2 516.2h1M113.5 519.1h1M126.6 532.6h1M108.5 527.0h1M135.5 515.8h1M121.8 517.8h1M117.3 521.2h1M124.9 526.5h1M115.9 524.5h1M132.8 517.9h1M120.2 524.3h1M105.3 532.5h1M99.5 515.5h1M107.1 512.3h1M114.7 522.5h1M126.0 534.3h1M130.3 523.0h1M107.2 511.2h1M102.1 523.8h1M105.6 526.8h1M136.0 523.2h1M140.1 519.1h1M111.4 531.6h1M137.5 519.5h1M99.5 529.4h1M127.9 515.8h1M116.2 514.4h1M106.7 533.9h1M101.8 534.3h1M131.8 527.6h1M149.0 524.7h1M134.4 514.4h1M99.5 526.2h1M112.9 526.0h1M142.4 534.3h1M127.5 510.6h1M118.6 504.0h1M118.7 517.2h1M105.1 506.3h1M107.4 522.5h1M116.4 516.4h1M125.3 534.4h1M128.9 520.8h1M113.6 511.8h1M130.1 522.2h1M114.7 534.0h1M131.1 527.4h1M104.9 510.6h1M148.7 520.5h1M128.5 531.7h1M108.0 513.9h1M110.7 515.9h1M123.6 534.3h1M136.8 511.3h1M102.7 502.0h1M121.6 532.8h1M131.5 509.4h1M138.7 521.1h1M125.8 515.5h1M105.2 524.2h1M99.7 510.9h1M118.0 512.2h1M113.1 516.0h1M137.3 524.3h1M133.3 523.2h1M142.5 501.1h1M124.7 526.1h1M112.7 528.8h1M138.0 533.7h1M131.6 530.4h1M119.2 533.9h1M134.2 528.0h1M123.5 519.6h1M123.9 524.3h1M132.7 509.5h1M123.5 534.3h1M129.5 530.2h1M119.6 508.9h1M126.0 522.1h1M131.5 516.5h1M141.0 524.8h1M143.3 513.3h1M126.1 505.6h1M128.7 513.3h1M121.6 519.6h1M116.8 511.8h1M146.4 519.4h1M101.0 525.1h1M105.3 514.6h1M132.0 521.3h1M121.0 534.3h1M139.0 514.6h1M123.0 508.2h1M128.5 526.5h1M101.6 513.6h1M103.1 527.7h1M115.9 527.8h1M129.1 529.1h1M116.1 518.9h1M123.6 520.5h1M120.5 512.8h1M132.6 518.2h1M143.2 523.2h1M103.3 532.5h1M114.5 512.6h1M110.7 509.5h1M117.6 526.2h1M111.6 511.4h1M130.0 522.6h1M116.5 522.6h1M108.1 519.6h1M115.4 534.3h1M121.6 517.7h1M99.5 504.8h1M123.1 527.3h1M117.2 526.8h1M127.8 526.8h1M122.6 518.5h1M124.1 508.2h1M121.8 522.1h1M126.8 517.3h1M121.7 528.7h1M131.7 500.2h1M145.5 512.1h1M130.9 512.6h1M131.6 523.3h1M126.4 524.5h1M130.1 526.9h1M133.1 523.3h1M128.4 515.7h1M144.5 522.4h1M118.7 520.4h1M141.3 510.8h1M150.7 534.7h1M104.4 515.0h1M122.8 523.2h1M115.9 507.3h1M123.5 523.2h1M111.3 517.5h1M106.2 534.3h1M115.6 519.2h1M115.0 507.4h1M102.0 523.0h1M133.1 523.6h1M117.4 530.1h1M115.1 520.7h1M120.3 518.2h1M121.7 532.9h1M134.4 522.2h1M130.3 507.4h1M116.0 524.8h1M122.0 502.8h1M134.7 525.6h1M101.4 516.9h1M102.6 510.8h1M142.1 516.6h1M116.4 514.4h1M120.0 529.6h1M129.0 509.7h1M116.6 534.3h1M109.0 509.0h1M101.2 522.7h1M108.0 527.2h1M128.0 528.7h1M102.3 528.7h1M127.1 526.0h1M112.2 513.0h1M124.0 519.8h1M99.5 527.0h1M122.4 512.6h1M108.0 520.1h1M127.8 521.1h1M125.9 534.3h1M126.1 527.9h1M101.8 516.1h1M144.8 518.9h1M150.8 523.8h1M155.8 517.4h1M149.5 526.9h1M144.0 523.1h1M149.0 525.5h1M158.3 529.8h1M148.9 525.5h1M155.4 521.5h1M142.0 525.6h1M163.0 524.8h1M132.0 526.3h1M151.2 528.9h1M168.1 518.0h1M142.9 524.4h1M159.2 509.5h1M153.8 534.7h1M140.8 527.9h1M162.3 523.7h1M152.6 527.0h1M167.8 509.9h1M141.4 532.8h1M146.1 530.5h1M162.5 534.3h1M133.4 522.2h1M156.7 516.0h1M130.0 523.6h1M133.9 524.3h1M149.6 526.3h1M149.7 522.4h1M159.1 530.3h1M110.0 521.7h1M156.4 521.7h1M165.8 506.9h1M151.1 508.2h1M137.5 528.7h1M142.1 513.2h1M146.6 512.1h1M139.0 532.1h1M122.7 514.3h1M143.3 530.5h1M167.2 515.2h1M149.4 519.8h1M158.9 527.4h1M149.9 521.7h1M148.2 520.4h1M155.9 527.5h1M130.7 520.1h1M161.5 521.6h1M175.7 529.1h1M125.5 515.8h1M150.4 519.9h1M145.6 526.2h1M141.1 524.5h1M171.2 513.2h1M165.4 521.6h1M175.8 512.7h1M150.7 517.3h1M135.6 515.6h1M143.5 528.8h1M158.9 524.9h1M155.4 518.1h1M147.6 516.9h1M149.2 518.2h1M169.8 527.6h1M151.6 527.1h1M136.0 524.6h1M168.7 517.1h1M138.1 525.5h1M146.0 521.1h1M146.3 530.8h1M169.6 520.0h1M154.8 518.9h1M149.5 524.2h1M152.7 518.8h1M162.3 514.5h1M155.0 515.4h1M152.2 524.6h1M150.1 522.5h1M128.0 521.8h1M161.5 528.0h1M144.3 522.1h1M157.8 530.9h1M155.7 526.1h1M158.0 534.3h1M157.4 521.2h1M139.1 520.3h1M162.5 523.9h1M150.4 522.0h1M163.1 521.7h1M132.3 534.3h1M156.7 525.4h1M140.0 523.9h1M144.2 530.2h1M165.8 521.1h1M165.0 524.6h1M161.0 517.9h1M161.8 524.7h1M153.9 528.5h1M143.3 531.1h1M151.2 521.2h1M167.9 531.8h1M169.5 515.5h1M161.5 531.3h1M170.7 527.1h1M156.8 534.3h1M160.7 517.4h1M146.9 508.7h1M167.8 517.6h1M142.2 519.2h1M148.9 520.0h1M146.3 523.7h1M169.4 527.9h1M143.5 524.8h1M163.0 521.4h1M136.2 521.3h1M169.8 534.3h1M153.6 510.4h1M142.6 534.3h1M180.2 515.3h1M155.6 526.1h1M157.3 524.3h1M150.6 521.2h1M139.2 524.2h1M151.4 521.2h1M145.5 508.1h1M147.9 528.8h1M151.3 517.9h1M178.7 506.5h1M154.7 529.7h1M162.9 529.1h1M122.6 533.0h1M145.7 504.5h1M161.7 512.6h1M136.7 529.0h1M161.8 526.6h1M159.6 529.2h1M135.9 527.7h1M142.9 520.4h1M163.2 518.5h1M155.6 513.5h1M168.7 522.1h1M131.6 517.5h1M152.5 524.8h1M160.3 514.5h1M152.0 512.2h1M160.8 534.7h1M130.6 511.9h1M125.7 518.9h1M159.9 524.3h1M132.4 520.1h1M147.9 524.5h1M156.1 521.5h1M159.8 520.2h1M146.9 515.3h1M153.1 528.3h1" stroke="#000" stroke-opacity="0.72" stroke-width="1" fill="none"/>
<path d="M138.3 471.6V535.8M98.5 516.8H185.6" stroke="#888" stroke-width="0.8" fill="none"/>
<path d="M98.5 471.6H185.6V535.8" stroke="#222" stroke-width="1" fill="none"/>
<path d="M98.5 471.1V536.8" stroke="#000" stroke-width="1.7" fill="none"/>
<path d="M97.7 535.8H186.1" stroke="#000" stroke-width="2" fill="none"/>
<path d="M98.5 535.8h-4M98.5 535.8v4M98.5 530.968h-2M105.055 535.8v2M98.5 528.142h-2M108.889 535.8v2M98.5 524.582h-2M113.72 535.8v2M98.5 522.236h-2M116.902 535.8v2M98.5 519.75h-4M120.275 535.8v4M98.5 514.918h-2M126.83 535.8v2M98.5 512.092h-2M130.664 535.8v2M98.5 508.532h-2M135.495 535.8v2M98.5 506.186h-2M138.677 535.8v2M98.5 503.7h-4M142.05 535.8v4M98.5 498.868h-2M148.605 535.8v2M98.5 496.042h-2M152.439 535.8v2M98.5 492.482h-2M157.27 535.8v2M98.5 490.136h-2M160.452 535.8v2M98.5 487.65h-4M163.825 535.8v4M98.5 482.818h-2M170.38 535.8v2M98.5 479.992h-2M174.214 535.8v2M98.5 476.432h-2M179.045 535.8v2M98.5 474.086h-2M182.227 535.8v2M98.5 471.6h-4M185.6 535.8v4" stroke="#333" stroke-width="0.7" fill="none"/>
<text x="90.2" y="541.3" font-size="7" text-anchor="end">10</text><text x="91.5" y="535.1" font-size="5.2" text-anchor="middle">0</text>
<text x="95.3" y="552.1" font-size="7" text-anchor="end">10</text><text x="100" y="545.1" font-size="5.2" text-anchor="middle">0</text>
<text x="90.2" y="525.25" font-size="7" text-anchor="end">10</text><text x="91.5" y="519.05" font-size="5.2" text-anchor="middle">1</text>
<text x="117.075" y="552.1" font-size="7" text-anchor="end">10</text><text x="121.775" y="545.1" font-size="5.2" text-anchor="middle">1</text>
<text x="90.2" y="509.2" font-size="7" text-anchor="end">10</text><text x="91.5" y="503" font-size="5.2" text-anchor="middle">2</text>
<text x="138.85" y="552.1" font-size="7" text-anchor="end">10</text><text x="143.55" y="545.1" font-size="5.2" text-anchor="middle">2</text>
<text x="90.2" y="493.15" font-size="7" text-anchor="end">10</text><text x="91.5" y="486.95" font-size="5.2" text-anchor="middle">3</text>
<text x="160.625" y="552.1" font-size="7" text-anchor="end">10</text><text x="165.325" y="545.1" font-size="5.2" text-anchor="middle">3</text>
<text x="90.2" y="477.1" font-size="7" text-anchor="end">10</text><text x="91.5" y="470.9" font-size="5.2" text-anchor="middle">4</text>
<text x="182.4" y="552.1" font-size="7" text-anchor="end">10</text><text x="187.1" y="545.1" font-size="5.2" text-anchor="middle">4</text>
<text transform="translate(68.2,508.7) rotate(-90)" font-size="9.4" text-anchor="middle" stroke-width="0.35">NKG2D</text>
<text x="137.35" y="566" font-size="9.3" text-anchor="middle" stroke-width="0.35">4-1BB</text>
<text x="110.1" y="487" font-size="9.3" font-weight="bold" text-anchor="middle">18</text>
<text x="164.5" y="487.4" font-size="9.3" font-weight="bold" text-anchor="middle">1</text>
<rect x="99.95" y="525.8" width="11.9" height="8" fill="#fff"/>
<text x="105.9" y="533" font-size="9.3" font-weight="bold" text-anchor="middle">75</text>
<text x="174.2" y="530.2" font-size="9.3" font-weight="bold" text-anchor="middle">6</text>
<path d="M280.5 514.0h1M282.5 524.4h1M286.2 513.2h1M293.4 516.3h1M279.6 511.9h1M295.4 509.0h1M294.7 510.2h1M269.1 512.4h1M289.2 524.1h1M276.6 521.7h1M279.7 519.0h1M286.1 503.4h1M290.6 516.6h1M290.9 517.4h1M291.1 531.9h1M276.9 524.8h1M279.7 531.9h1M287.8 516.4h1M283.0 529.1h1M270.0 527.5h1M279.1 519.7h1M277.7 516.9h1M286.6 524.0h1M276.0 513.5h1M285.2 524.8h1M272.4 519.1h1M278.9 512.1h1M283.9 516.2h1M284.5 504.0h1M285.1 521.9h1M270.2 522.6h1M283.0 517.2h1M282.8 527.3h1M265.7 521.3h1M286.2 505.4h1M301.3 515.6h1M283.6 513.7h1M277.4 518.6h1M273.8 509.9h1M283.7 517.8h1M270.1 518.4h1M273.5 521.0h1M272.8 506.7h1M278.8 508.0h1M288.6 530.2h1M286.3 517.4h1M284.9 526.0h1M278.4 513.5h1M270.6 515.1h1M279.8 513.1h1M280.1 509.7h1M277.9 518.7h1M287.1 506.7h1M284.7 507.1h1M287.2 521.2h1M284.2 517.7h1M281.0 516.0h1M279.2 517.5h1M283.2 491.6h1M288.4 517.6h1M287.0 515.1h1M288.0 512.3h1M274.2 503.5h1M280.7 516.4h1M272.4 524.7h1M289.4 514.1h1M274.4 520.2h1M279.7 514.9h1M298.0 505.7h1M281.9 516.2h1M279.2 520.1h1M283.0 500.0h1M262.6 510.5h1M281.7 521.2h1M274.5 521.9h1M286.8 531.9h1M281.0 509.4h1M282.0 522.5h1M271.8 523.1h1M284.2 496.7h1M285.6 518.6h1M266.6 529.5h1M268.7 519.4h1M285.2 508.2h1M271.1 525.7h1M265.0 496.6h1M264.9 517.4h1M274.5 508.0h1M283.0 513.4h1M279.2 525.1h1M283.2 511.4h1M281.6 512.6h1M275.7 523.2h1M278.9 506.5h1M288.2 506.0h1M273.8 522.5h1M268.6 526.4h1M279.3 520.8h1M281.2 522.1h1M285.5 504.7h1M281.2 524.3h1M297.1 503.5h1M308.2 526.4h1M272.4 531.9h1M293.0 518.4h1M294.2 509.2h1M276.8 514.0h1M284.8 511.8h1M274.9 525.2h1M279.2 521.2h1M283.6 513.1h1M275.5 510.0h1M265.1 519.0h1M280.6 502.2h1M295.5 517.5h1M281.1 515.7h1M283.0 528.8h1M287.8 508.7h1M283.6 513.8h1M280.1 530.8h1M282.5 510.5h1M273.2 512.4h1M280.4 508.0h1M275.3 528.3h1M278.5 508.9h1M279.6 509.9h1M275.8 516.0h1M276.4 522.9h1M286.9 519.6h1M276.8 521.7h1M263.9 515.3h1M284.9 510.6h1M283.3 518.6h1M291.2 507.1h1M279.8 498.6h1M277.0 518.9h1M287.8 520.4h1M281.4 512.6h1M278.0 517.3h1M283.3 525.9h1M269.8 500.5h1M278.5 521.3h1M285.8 517.9h1M281.4 516.1h1M288.4 522.6h1M264.2 520.7h1M277.6 516.3h1M288.6 525.9h1M294.2 514.3h1M281.7 523.3h1M273.1 519.3h1M280.1 520.5h1M297.3 518.7h1M302.8 512.6h1M272.1 524.3h1M282.0 519.8h1M288.2 516.1h1M283.9 506.6h1M281.9 525.1h1M275.9 514.7h1M263.6 521.9h1M258.0 523.9h1M280.3 511.9h1M291.7 510.0h1M276.2 517.8h1M278.2 511.6h1M276.6 517.1h1M263.1 526.8h1M273.2 510.5h1M272.4 508.1h1M275.8 512.1h1M283.5 526.6h1M295.6 509.0h1M274.3 516.5h1M278.9 514.7h1M267.0 516.3h1M284.4 515.3h1M283.8 524.7h1M265.0 503.0h1M284.3 518.6h1M266.9 517.4h1M288.7 517.4h1M279.0 507.9h1M282.3 518.8h1M281.7 506.5h1M269.2 513.1h1M281.6 507.9h1M269.1 529.4h1M293.3 522.4h1M271.4 518.4h1M278.7 522.6h1M296.7 522.2h1M282.2 513.7h1M284.9 521.3h1M290.2 517.7h1M288.4 505.6h1M258.7 515.6h1M278.7 522.6h1M279.9 526.8h1M277.0 516.9h1M260.2 517.0h1M289.0 508.2h1M287.0 509.0h1M268.7 516.3h1M284.2 526.2h1M274.3 515.9h1M276.0 516.1h1M278.5 512.9h1M278.4 516.9h1M277.5 515.1h1M281.7 514.6h1M283.4 509.7h1M287.9 514.0h1M288.3 525.4h1M281.6 530.6h1M274.8 516.9h1M276.2 512.9h1M280.7 519.3h1M281.4 521.6h1M285.5 523.0h1M270.8 519.4h1M269.5 512.2h1M274.2 510.1h1M283.7 512.5h1M280.8 517.2h1M294.9 507.2h1M268.1 524.4h1M263.9 509.0h1M286.8 511.8h1M279.5 524.2h1M289.6 513.6h1M279.9 517.3h1M267.4 528.1h1M268.6 522.9h1M296.0 504.6h1M280.0 506.7h1M285.5 503.6h1M291.9 520.0h1M279.4 512.0h1M276.9 523.8h1M280.9 519.8h1M286.1 523.2h1M295.2 517.2h1M275.4 519.2h1M280.9 523.0h1M270.7 508.6h1M269.5 521.4h1M267.9 509.5h1M279.2 502.5h1M288.4 517.1h1M292.3 526.0h1M290.3 531.6h1M278.5 519.8h1M279.3 511.2h1M275.4 522.5h1M274.5 508.8h1M273.7 503.8h1M291.9 513.7h1M272.6 520.2h1M272.3 528.4h1M269.2 512.4h1M286.2 504.8h1M287.7 510.3h1M275.5 500.3h1M266.2 517.1h1M280.1 520.6h1M287.1 507.9h1M291.5 513.4h1M280.8 520.1h1M285.9 512.4h1M286.0 524.4h1M278.9 505.8h1M294.3 520.1h1M277.8 509.7h1M289.3 511.6h1M281.4 512.5h1M276.3 528.6h1M276.0 504.6h1M280.3 514.2h1M282.4 514.2h1M281.3 522.8h1M277.4 516.0h1M277.0 517.9h1M277.2 522.3h1M291.9 525.4h1M286.3 517.0h1M287.4 510.9h1M287.5 513.7h1M271.3 514.8h1M261.0 529.6h1M269.3 524.2h1M273.6 515.7h1M291.3 501.0h1M291.8 517.0h1M281.2 506.5h1M270.5 523.2h1M286.0 523.6h1M285.9 531.2h1M282.8 508.2h1M283.2 506.3h1M277.7 511.1h1M282.6 504.5h1M287.2 515.9h1M269.6 524.0h1M280.3 529.6h1M283.8 512.1h1M280.1 509.4h1M279.9 523.4h1M283.1 504.8h1M272.0 524.1h1M283.0 511.1h1M287.4 508.7h1M270.6 504.0h1M283.0 524.8h1M280.6 514.6h1M273.2 522.3h1M272.0 519.0h1M283.0 512.6h1M279.8 509.6h1M288.7 520.5h1M287.1 522.4h1M285.2 523.6h1M283.2 524.4h1M271.5 508.7h1M291.7 527.3h1M278.7 518.4h1M270.9 520.7h1M272.7 525.9h1M275.5 529.6h1M294.4 510.0h1M288.7 519.2h1M273.3 514.4h1M285.2 525.8h1M284.5 519.3h1M265.5 529.9h1M275.6 505.8h1M290.1 510.5h1M280.4 507.0h1M285.6 500.4h1M299.7 516.1h1M292.2 518.3h1M293.1 521.9h1M277.0 517.8h1M284.3 511.0h1M287.4 511.4h1M272.9 512.9h1M281.5 508.5h1M275.2 515.5h1M279.0 519.3h1M280.5 522.4h1M279.3 511.8h1M278.9 513.4h1M289.9 505.9h1M265.2 503.0h1M276.7 515.1h1M284.5 516.3h1M271.1 518.3h1M282.5 513.4h1M284.2 517.5h1M268.7 530.2h1M281.5 513.7h1M276.8 513.3h1M282.1 523.0h1M281.1 522.7h1M282.2 523.2h1M272.3 510.4h1M280.1 509.6h1M291.3 517.8h1M278.9 521.1h1M264.7 526.5h1M270.7 508.6h1M290.6 518.7h1M276.0 500.8h1M281.2 513.4h1M282.4 515.9h1M282.1 507.0h1M298.5 507.6h1M280.9 512.7h1M278.6 512.8h1M277.2 517.9h1M280.2 518.5h1M277.6 515.1h1M281.6 529.9h1M278.2 526.1h1M288.5 507.5h1M288.8 499.1h1M281.2 521.1h1M298.9 515.4h1M285.9 519.0h1M283.5 513.2h1M284.7 511.7h1M281.5 511.9h1M270.5 515.9h1M266.1 510.3h1M293.3 518.7h1M286.8 508.2h1M282.3 530.2h1M275.4 518.7h1M283.0 502.5h1M285.2 507.7h1M282.7 516.2h1M278.9 515.3h1M277.9 513.0h1M281.3 514.4h1M278.9 510.7h1M290.1 516.0h1M265.5 514.4h1M276.5 531.9h1M280.4 518.1h1M279.6 523.5h1M278.6 514.3h1M292.5 508.2h1M280.4 492.1h1M292.5 519.9h1M284.1 512.1h1M276.5 518.8h1M289.1 511.9h1M283.9 510.7h1M270.4 508.1h1M277.6 521.3h1M290.7 521.7h1M276.5 518.9h1M278.0 522.3h1M288.6 523.6h1M284.1 520.6h1M279.6 510.7h1M291.6 500.3h1M274.1 528.5h1M274.0 508.6h1M290.8 509.3h1M269.8 500.9h1M277.4 517.0h1M293.8 516.6h1M264.9 519.1h1M287.0 514.9h1M284.3 525.9h1M284.7 516.5h1M287.0 519.0h1M276.1 517.9h1M275.8 503.5h1M286.0 507.3h1M281.4 501.7h1M280.0 509.1h1M267.7 509.2h1M281.2 523.5h1M291.8 516.7h1M287.5 521.7h1M282.5 519.7h1M286.4 511.4h1M293.6 512.6h1M273.2 511.2h1M272.4 504.2h1M284.7 525.3h1M280.4 521.1h1M283.8 529.8h1M288.8 512.5h1M283.3 520.4h1M278.3 523.2h1M288.3 509.5h1M269.8 516.6h1M284.4 522.9h1M278.3 517.1h1M277.4 525.8h1M276.0 512.2h1M290.3 520.6h1M281.4 516.6h1M293.6 513.1h1M287.5 513.3h1M283.0 500.5h1M279.5 514.5h1M279.8 523.7h1M271.3 519.9h1M283.2 521.2h1M289.0 517.1h1M285.3 519.9h1M296.3 517.8h1M282.3 525.4h1M279.0 514.9h1M267.2 511.9h1M281.8 527.3h1M279.4 505.9h1M275.0 523.5h1M276.7 508.5h1M279.9 502.7h1M281.1 507.5h1M284.0 519.9h1M278.0 525.8h1M287.4 518.5h1M286.9 523.9h1M285.5 530.2h1M287.9 518.9h1M280.7 500.8h1M266.1 528.1h1M288.4 508.9h1M278.5 520.6h1M279.9 513.4h1M277.6 511.3h1M285.3 526.2h1M278.9 517.7h1M289.4 527.3h1M270.4 525.0h1M280.5 515.6h1M275.1 525.1h1M281.2 520.3h1M288.1 516.0h1M276.3 508.7h1M286.7 515.6h1M292.4 518.3h1M275.7 501.8h1M284.8 519.2h1M274.6 517.0h1M284.0 519.2h1M289.1 518.3h1M282.3 517.4h1M291.3 523.0h1M276.5 510.2h1M281.8 513.7h1M264.8 525.2h1M285.3 517.5h1M273.6 516.9h1M294.9 522.3h1M283.7 505.7h1M272.2 521.1h1M270.6 516.0h1M274.7 529.3h1M275.2 515.3h1M269.1 508.9h1M273.9 516.1h1M269.2 512.7h1M287.9 531.2h1M274.0 520.5h1M267.6 514.4h1M283.4 520.5h1M279.6 516.1h1M277.2 517.7h1M283.4 523.2h1M289.7 509.3h1M278.9 527.2h1M280.5 516.0h1M269.4 520.6h1M288.3 496.6h1M290.6 517.0h1M274.7 521.9h1M284.6 508.2h1M268.0 512.4h1M288.2 508.2h1M277.4 515.4h1M277.3 519.7h1M282.7 504.2h1M287.9 523.9h1M291.9 505.0h1M275.5 521.4h1M272.8 514.4h1M296.4 513.5h1M308.2 494.4h1M296.2 527.9h1M277.0 520.8h1M274.5 511.2h1M286.5 531.9h1M282.4 519.1h1M269.3 525.3h1M284.0 507.7h1M277.4 518.5h1M285.0 503.1h1M283.4 527.7h1M286.9 511.3h1M282.5 529.1h1M275.3 510.4h1M288.1 516.2h1M279.5 511.1h1M267.4 517.6h1M278.6 519.4h1M275.5 505.1h1M267.4 505.0h1M274.4 522.9h1M266.0 520.6h1M278.1 521.2h1M270.9 527.0h1M280.8 510.9h1M290.7 494.4h1M273.7 528.1h1M277.1 505.6h1M281.0 516.3h1M285.9 510.7h1M288.0 501.9h1M289.1 505.8h1M278.8 501.3h1M297.8 509.6h1M286.1 511.2h1M284.1 514.3h1M287.5 530.7h1M262.0 510.2h1M279.6 518.6h1M290.8 529.4h1M284.0 508.1h1M279.8 514.2h1M287.0 513.5h1M283.9 524.8h1M271.8 517.3h1M280.0 511.0h1M283.0 509.2h1M267.3 526.1h1M280.1 503.1h1M283.3 507.9h1M275.4 524.0h1M283.9 512.0h1M278.3 507.3h1M292.8 511.7h1M288.3 512.1h1M275.1 517.5h1M282.8 522.7h1M283.5 526.9h1M269.1 510.5h1M281.1 494.8h1M270.1 514.1h1M272.0 514.3h1M277.3 521.8h1M276.3 524.3h1M271.5 519.4h1M269.5 495.3h1M259.7 503.7h1M276.5 526.0h1M273.4 511.7h1M275.3 517.5h1M284.1 515.6h1M284.2 507.4h1M277.1 521.6h1M287.8 513.6h1M273.7 512.1h1M275.6 507.3h1M277.3 515.2h1M292.4 517.9h1M290.7 516.1h1M278.6 528.9h1M279.9 518.3h1M284.9 522.0h1M273.4 506.1h1M290.9 498.6h1M278.7 515.1h1M277.2 509.5h1M277.1 512.9h1M276.2 519.6h1M272.6 498.5h1M274.6 523.0h1M272.1 505.7h1M277.0 520.9h1M277.1 510.3h1M269.7 516.2h1M260.8 508.6h1M277.8 520.5h1M266.8 525.5h1M282.7 513.8h1M283.7 521.2h1M283.3 503.9h1M288.2 528.2h1M290.7 505.0h1M272.4 528.1h1M279.8 531.9h1M286.1 522.2h1M276.0 530.0h1M281.9 506.2h1M274.5 514.4h1M278.9 514.7h1M277.5 496.3h1M272.4 518.4h1M274.3 512.0h1M286.0 513.6h1M268.8 517.0h1M280.8 509.2h1M289.8 524.5h1M291.5 526.6h1M297.4 518.0h1M284.8 507.3h1M291.7 507.2h1M278.1 510.5h1M284.4 518.1h1M290.9 522.8h1M275.2 497.6h1M275.4 521.1h1M290.1 505.1h1M282.1 515.9h1M288.9 513.7h1M282.6 510.8h1M268.1 512.5h1M278.7 503.9h1M296.1 525.4h1M294.9 521.0h1M270.8 511.6h1M283.4 529.9h1M281.4 510.0h1M288.5 512.5h1M284.7 511.5h1M277.1 519.9h1M285.3 516.9h1M286.5 523.9h1M277.2 516.4h1M290.8 510.3h1M274.6 515.3h1M265.7 524.7h1M272.6 520.4h1M288.1 512.2h1M282.8 513.6h1M280.0 512.1h1M280.5 519.3h1M293.4 504.5h1M283.5 506.9h1M288.4 522.3h1M291.3 508.4h1M304.7 516.3h1M291.1 512.6h1M293.5 517.8h1M280.5 515.5h1M279.6 516.5h1M292.2 520.6h1M281.7 508.9h1M284.5 521.3h1M282.4 526.1h1M286.8 516.6h1M274.8 509.9h1M287.9 519.9h1M278.2 530.1h1M281.7 527.4h1M277.2 508.6h1M290.5 518.8h1M285.6 519.7h1M285.4 513.7h1M285.5 514.8h1M283.0 516.4h1M290.0 501.6h1M280.0 523.3h1M274.9 525.5h1M278.0 524.5h1M277.3 510.8h1M288.7 524.7h1M280.6 515.4h1M266.9 522.3h1M271.0 509.3h1M286.3 515.2h1M277.4 518.8h1M289.5 509.7h1M289.2 507.7h1M274.3 526.6h1M279.8 525.4h1M271.3 506.1h1M281.4 529.4h1M270.2 513.0h1M289.1 521.5h1M290.4 522.2h1M283.1 508.4h1M270.8 520.5h1M260.2 507.9h1M287.7 505.8h1M279.4 518.2h1M278.5 510.9h1M277.7 504.8h1M282.8 513.8h1M273.7 516.8h1M277.6 521.2h1M285.4 508.3h1M277.2 514.8h1M270.4 512.1h1M286.2 521.1h1M279.9 526.1h1M301.0 527.0h1M267.0 527.7h1M294.0 518.9h1M288.0 510.9h1M273.1 523.9h1M278.9 521.7h1M290.8 510.1h1M272.1 516.1h1M284.7 503.4h1M279.6 522.8h1M278.7 517.4h1M277.5 517.9h1M277.4 509.8h1M278.4 521.0h1M281.0 521.8h1M287.6 510.2h1M274.3 514.0h1M291.3 512.9h1M286.8 526.6h1M307.1 516.2h1M280.7 510.5h1M265.2 523.5h1M283.1 502.1h1M276.4 513.4h1M266.4 506.4h1M276.0 518.5h1M258.4 512.8h1M267.3 527.3h1M290.3 527.2h1M280.4 511.1h1M270.8 501.5h1M258.4 523.7h1M281.9 518.1h1M287.9 527.3h1M273.5 509.5h1M267.6 506.9h1M264.5 512.2h1M262.3 511.3h1M270.0 523.8h1M281.3 526.9h1M277.1 510.1h1M265.6 511.3h1M275.5 518.9h1M290.1 519.4h1M279.4 521.5h1M267.4 515.6h1M264.1 511.0h1M276.5 529.4h1M258.3 499.0h1M265.1 529.4h1M264.7 507.8h1M282.4 517.8h1M271.2 517.2h1M289.1 525.8h1M283.8 523.4h1M274.9 527.0h1M267.9 520.5h1M266.2 517.9h1M284.4 512.6h1M285.5 526.6h1M282.5 528.8h1M277.6 495.9h1M278.7 500.0h1M273.7 507.2h1M261.0 528.6h1M282.7 512.1h1M289.7 508.6h1M271.0 508.3h1M272.7 523.4h1M269.6 506.8h1M275.0 521.0h1M276.4 510.6h1M279.9 525.7h1M283.6 519.1h1M263.0 512.5h1M272.1 516.3h1M287.4 498.0h1M286.9 516.6h1M278.4 499.0h1M294.9 510.9h1M278.2 512.7h1M302.9 515.1h1M261.3 501.5h1M273.3 525.6h1M282.7 522.4h1M289.6 515.2h1M265.6 518.0h1M276.5 525.3h1M271.2 526.1h1M264.8 512.0h1M265.4 510.8h1M262.5 516.1h1M285.7 500.1h1M259.5 508.3h1M272.1 521.1h1M271.8 520.5h1M276.2 496.0h1M269.6 511.1h1M285.7 527.3h1M269.0 513.7h1M290.7 515.4h1M301.8 510.0h1M278.9 495.8h1M279.5 514.2h1M266.9 525.2h1M270.3 512.1h1M271.7 531.3h1M285.1 513.9h1M292.6 508.5h1M279.3 512.6h1M263.0 524.8h1M281.2 500.3h1M285.0 525.3h1M282.5 517.2h1M285.3 519.5h1M284.3 525.4h1M258.7 525.0h1M277.0 518.5h1M262.2 516.0h1M275.3 514.3h1M277.2 522.1h1M270.2 510.3h1M261.0 526.0h1M269.5 514.5h1M272.6 517.5h1M267.0 517.8h1M271.1 523.8h1M276.8 513.2h1M278.5 518.5h1M264.4 520.2h1M288.6 509.9h1M273.4 520.7h1M276.7 531.1h1M279.9 514.5h1M278.6 504.7h1M264.8 523.1h1M283.5 510.2h1M263.3 511.9h1M290.7 518.3h1M291.0 527.8h1M286.9 516.5h1M273.5 529.7h1M262.3 505.4h1M286.6 491.8h1M279.4 520.3h1M268.6 519.7h1M265.4 514.8h1M290.0 523.7h1M281.2 521.0h1M288.3 527.7h1M261.1 520.0h1M284.2 519.0h1M262.1 525.1h1M276.5 531.9h1M268.3 525.5h1M265.0 517.5h1M276.6 516.9h1M297.9 503.1h1M270.0 512.8h1M277.0 523.4h1M282.9 517.7h1M272.2 523.8h1M280.7 506.2h1M282.6 516.0h1M289.3 522.5h1M271.5 499.6h1M261.3 527.9h1M287.0 524.4h1M269.4 505.1h1M265.6 509.3h1M263.7 520.4h1M258.9 505.1h1M267.4 525.9h1M269.3 519.5h1M273.7 515.0h1M276.3 514.0h1M282.0 529.0h1M266.3 519.0h1M268.3 509.2h1M281.1 513.9h1M287.5 524.2h1M279.8 500.8h1M261.9 524.2h1M275.9 522.9h1M292.2 509.8h1M285.9 512.2h1M271.7 507.7h1M273.3 494.7h1M280.0 523.6h1M293.9 505.8h1M282.8 499.0h1M272.6 530.2h1M282.7 522.1h1M284.6 516.7h1M277.5 524.7h1M266.8 504.1h1M291.2 501.8h1M270.9 523.6h1M267.3 519.3h1M283.8 502.7h1M266.5 504.9h1M271.8 523.0h1M274.3 512.0h1M279.6 515.7h1M278.4 530.7h1M278.9 513.2h1M285.1 512.0h1M282.9 524.0h1M275.7 528.9h1M260.8 503.7h1M291.5 507.4h1M266.6 503.0h1M286.9 503.4h1M280.4 514.6h1M277.3 528.1h1M263.9 513.3h1M267.2 516.1h1M262.3 522.0h1M274.3 501.9h1M279.5 519.7h1M271.3 530.5h1M275.1 523.6h1M277.9 511.2h1M280.8 506.4h1M285.1 517.6h1M269.0 514.8h1M266.0 523.4h1M269.6 530.4h1M281.4 525.9h1M273.6 499.1h1M289.6 520.7h1M288.7 531.9h1M267.4 531.9h1M267.1 514.5h1M289.2 507.9h1M272.3 506.6h1M275.7 528.7h1M283.5 504.0h1M273.1 512.9h1M265.9 517.7h1M259.5 513.2h1M273.4 515.6h1M271.1 522.9h1M266.8 519.5h1M276.5 522.0h1M279.3 531.9h1M263.0 499.6h1M286.6 506.1h1M279.7 513.0h1M267.6 509.7h1M278.0 522.3h1M270.8 512.2h1M289.4 526.6h1M275.0 513.9h1M274.3 516.7h1M281.6 525.7h1M259.0 521.3h1M260.3 508.2h1M295.7 531.4h1M275.1 511.8h1M292.2 517.1h1M275.6 507.3h1M286.7 510.5h1M271.1 515.8h1M264.3 516.8h1M265.5 519.2h1M279.6 509.0h1M280.2 519.9h1M280.2 506.7h1M261.9 530.8h1M284.3 515.1h1M279.7 522.1h1M289.5 527.8h1M271.9 508.3h1M262.5 501.9h1M280.2 515.8h1M260.0 519.3h1M262.5 519.9h1M264.1 518.5h1M265.0 512.0h1M271.0 524.9h1M275.1 510.9h1M266.8 517.1h1M275.2 515.5h1M272.2 509.6h1M272.9 505.4h1M277.9 518.3h1M281.9 518.0h1M283.7 508.7h1M267.1 505.1h1M277.7 508.0h1M269.8 510.9h1M275.1 523.0h1M267.1 520.3h1M271.7 514.5h1M268.5 527.2h1M278.9 500.8h1M261.3 521.3h1M296.4 519.3h1M265.1 502.2h1M282.1 521.8h1M268.2 531.9h1M274.4 510.7h1M280.7 514.8h1M282.6 524.6h1M258.4 524.5h1M294.9 521.6h1M272.0 508.3h1M283.1 527.5h1M282.2 517.5h1M282.0 520.1h1M293.3 515.3h1M260.3 511.9h1M262.1 504.4h1M286.5 495.7h1M282.6 513.2h1M281.2 513.9h1M285.0 524.5h1M293.5 521.4h1M291.8 513.8h1M273.4 527.0h1M284.3 519.3h1M276.9 510.7h1M279.1 523.1h1M268.6 522.5h1M272.3 519.1h1M266.7 507.8h1M267.2 510.8h1M288.2 507.1h1M264.8 513.0h1M280.4 508.3h1M262.8 521.8h1M285.0 519.7h1M293.4 526.1h1M275.3 511.6h1M277.5 528.9h1M264.2 513.5h1M268.0 519.5h1M271.3 517.6h1M280.7 518.7h1M281.3 517.1h1M277.0 524.0h1M268.8 500.0h1M258.2 510.5h1M273.1 515.1h1M270.5 519.5h1M270.3 508.1h1M268.7 518.1h1M281.9 514.6h1M280.2 522.7h1M271.3 521.3h1M270.5 507.0h1M298.3 517.6h1M288.5 528.5h1M286.5 515.1h1M274.1 515.1h1M279.4 531.2h1M272.3 511.7h1M273.6 519.6h1M277.7 503.5h1M266.4 525.4h1M266.2 516.0h1M272.8 515.7h1M269.0 493.8h1M279.5 524.3h1M261.4 508.4h1M275.3 508.0h1M274.1 507.5h1M276.1 505.5h1M258.4 507.5h1M279.2 525.5h1M272.0 518.6h1M275.2 510.1h1M276.7 520.2h1M276.8 502.2h1M268.5 525.2h1M266.8 524.2h1M282.0 517.8h1M282.5 513.9h1M269.8 504.1h1M260.4 518.7h1M269.6 504.9h1M275.9 508.6h1M275.4 525.9h1M276.8 505.7h1M285.2 516.3h1M278.8 512.7h1M266.6 512.8h1M258.4 512.0h1M271.1 520.9h1M258.4 524.3h1M282.4 517.3h1M276.3 526.0h1M276.9 504.7h1M267.9 512.6h1M273.0 517.5h1M285.7 514.0h1M287.4 513.4h1M270.6 520.7h1M289.5 509.8h1M272.3 515.2h1M270.7 524.9h1M326.2 521.9h1M302.0 518.0h1M275.5 513.9h1M331.5 506.4h1M308.4 522.5h1M277.4 519.6h1M313.4 520.1h1M313.4 516.0h1M269.2 515.4h1M310.2 516.5h1M303.8 529.6h1M309.3 513.9h1M295.3 519.2h1M316.1 520.6h1M306.3 524.5h1M324.8 514.9h1M314.4 516.0h1M303.6 517.9h1M323.6 519.4h1M305.1 506.7h1M306.3 529.5h1M303.5 501.7h1M309.6 513.8h1M319.6 497.5h1M327.8 508.9h1M333.2 528.4h1M287.8 517.5h1M321.3 514.5h1M316.9 514.9h1M283.4 521.1h1M298.3 510.6h1M315.6 517.0h1M305.9 520.4h1M331.3 514.5h1M326.8 512.3h1M322.0 515.3h1M294.8 493.4h1M314.9 529.4h1M326.3 502.9h1M310.4 524.8h1M325.5 523.2h1M320.1 511.9h1M320.6 512.7h1M290.3 519.2h1M325.5 499.3h1M302.7 523.3h1M313.6 502.8h1M314.9 510.9h1M328.7 506.7h1M300.7 513.0h1M311.1 514.0h1M311.0 508.7h1M313.4 506.4h1M303.8 522.4h1M303.9 516.9h1M310.8 528.4h1M323.3 531.9h1M299.0 515.8h1M317.4 522.8h1M305.5 519.6h1M298.1 531.9h1M342.6 510.2h1M334.1 513.1h1M332.9 514.5h1M304.3 519.6h1M289.7 500.1h1M290.7 521.3h1M336.0 517.0h1M330.6 504.3h1M283.3 511.4h1M295.0 528.9h1M302.4 519.2h1M324.4 504.4h1M300.9 510.2h1M309.8 532.3h1M300.7 506.7h1M313.5 515.3h1M320.2 501.9h1M315.0 518.9h1M319.7 512.3h1M278.2 513.1h1M318.1 525.8h1M340.3 523.0h1M322.3 510.4h1M314.3 512.6h1M321.6 503.4h1M311.5 514.9h1M305.4 528.3h1M320.7 508.9h1M305.6 508.9h1M301.3 513.7h1M299.5 514.7h1M308.2 524.0h1M303.3 516.5h1M298.7 519.3h1M301.1 522.0h1M341.9 521.6h1M303.9 529.5h1M325.8 514.3h1M298.9 526.8h1M329.3 513.5h1M307.7 514.0h1M305.7 525.1h1M303.6 510.6h1M309.8 501.8h1M312.2 526.8h1M322.6 521.2h1M287.2 509.9h1M321.5 530.4h1M297.1 504.4h1M328.6 520.9h1M327.9 527.9h1M307.2 511.8h1M303.9 520.6h1M314.0 509.8h1M319.8 512.1h1M320.5 511.1h1M300.9 513.3h1M308.2 515.1h1M302.9 522.7h1M289.3 509.2h1M275.1 517.8h1M325.7 527.7h1M303.7 520.3h1M304.6 523.7h1" stroke="#000" stroke-opacity="0.72" stroke-width="1" fill="none"/>
<path d="M296.2 469.1V533.4M257.4 513.3H344.2" stroke="#888" stroke-width="0.8" fill="none"/>
<path d="M257.4 469.1H344.2V533.4" stroke="#222" stroke-width="1" fill="none"/>
<path d="M257.4 468.6V534.4" stroke="#000" stroke-width="1.7" fill="none"/>
<path d="M256.6 533.4H344.7" stroke="#000" stroke-width="2" fill="none"/>
<path d="M257.4 533.4h-4M257.4 533.4v4M257.4 528.561h-2M263.932 533.4v2M257.4 525.73h-2M267.754 533.4v2M257.4 522.164h-2M272.568 533.4v2M257.4 519.815h-2M275.739 533.4v2M257.4 517.325h-4M279.1 533.4v4M257.4 512.486h-2M285.632 533.4v2M257.4 509.655h-2M289.454 533.4v2M257.4 506.089h-2M294.268 533.4v2M257.4 503.74h-2M297.439 533.4v2M257.4 501.25h-4M300.8 533.4v4M257.4 496.411h-2M307.332 533.4v2M257.4 493.58h-2M311.154 533.4v2M257.4 490.014h-2M315.968 533.4v2M257.4 487.665h-2M319.139 533.4v2M257.4 485.175h-4M322.5 533.4v4M257.4 480.336h-2M329.032 533.4v2M257.4 477.505h-2M332.854 533.4v2M257.4 473.939h-2M337.668 533.4v2M257.4 471.59h-2M340.839 533.4v2M257.4 469.1h-4M344.2 533.4v4" stroke="#333" stroke-width="0.7" fill="none"/>
<text x="243.3" y="538.9" font-size="7" text-anchor="end">10</text><text x="248.4" y="532.7" font-size="5.2" text-anchor="middle">0</text>
<text x="254.2" y="549.7" font-size="7" text-anchor="end">10</text><text x="258.9" y="542.7" font-size="5.2" text-anchor="middle">0</text>
<text x="243.3" y="522.825" font-size="7" text-anchor="end">10</text><text x="248.4" y="516.625" font-size="5.2" text-anchor="middle">1</text>
<text x="275.9" y="549.7" font-size="7" text-anchor="end">10</text><text x="280.6" y="542.7" font-size="5.2" text-anchor="middle">1</text>
<text x="243.3" y="506.75" font-size="7" text-anchor="end">10</text><text x="248.4" y="500.55" font-size="5.2" text-anchor="middle">2</text>
<text x="297.6" y="549.7" font-size="7" text-anchor="end">10</text><text x="302.3" y="542.7" font-size="5.2" text-anchor="middle">2</text>
<text x="243.3" y="490.675" font-size="7" text-anchor="end">10</text><text x="248.4" y="484.475" font-size="5.2" text-anchor="middle">3</text>
<text x="319.3" y="549.7" font-size="7" text-anchor="end">10</text><text x="324" y="542.7" font-size="5.2" text-anchor="middle">3</text>
<text x="243.3" y="474.6" font-size="7" text-anchor="end">10</text><text x="248.4" y="468.4" font-size="5.2" text-anchor="middle">4</text>
<text x="341" y="549.7" font-size="7" text-anchor="end">10</text><text x="345.7" y="542.7" font-size="5.2" text-anchor="middle">4</text>
<text transform="translate(227.1,506.25) rotate(-90)" font-size="9.4" text-anchor="middle" stroke-width="0.35">NKG2D</text>
<text x="296.1" y="563.6" font-size="9.3" text-anchor="middle" stroke-width="0.35">4-1BB</text>
<text x="271.2" y="483.3" font-size="9.3" font-weight="bold" text-anchor="middle">26</text>
<text x="328.3" y="483.3" font-size="9.3" font-weight="bold" text-anchor="middle">1</text>
<rect x="260.55" y="523.2" width="11.9" height="8" fill="#fff"/>
<text x="266.5" y="530.4" font-size="9.3" font-weight="bold" text-anchor="middle">70</text>
<text x="329.3" y="526.6" font-size="9.3" font-weight="bold" text-anchor="middle">3</text>
<path d="M438.2 531.6h1M465.9 518.4h1M440.0 521.4h1M471.8 521.5h1M471.1 523.0h1M482.7 519.0h1M455.7 515.1h1M452.4 515.9h1M430.8 520.6h1M470.4 508.3h1M435.1 513.4h1M464.8 525.4h1M463.9 520.9h1M444.3 523.1h1M442.5 520.6h1M465.3 520.4h1M479.7 508.7h1M429.5 528.1h1M447.9 519.1h1M448.2 521.6h1M455.3 524.2h1M474.7 531.9h1M442.2 523.3h1M440.1 522.4h1M463.1 521.7h1M462.3 526.0h1M439.2 521.7h1M476.9 527.7h1M475.6 516.9h1M446.2 528.0h1M458.1 523.8h1M451.8 527.6h1M461.2 515.9h1M464.7 519.9h1M453.4 525.4h1M460.7 518.5h1M437.2 519.3h1M455.7 514.7h1M447.0 531.9h1M446.7 522.4h1M436.1 520.0h1M462.5 523.0h1M427.8 522.2h1M440.6 528.6h1M456.3 531.6h1M464.5 514.9h1M475.0 519.0h1M456.1 522.6h1M434.9 529.1h1M460.8 515.7h1M433.6 524.8h1M479.7 524.5h1M463.6 519.4h1M477.6 525.3h1M443.8 518.3h1M425.4 529.0h1M465.9 526.6h1M440.0 516.9h1M486.9 527.6h1M471.5 521.4h1M457.3 522.9h1M465.7 518.3h1M476.6 531.9h1M448.6 516.2h1M460.3 531.9h1M440.9 530.2h1M446.0 517.4h1M477.4 521.0h1M457.3 526.3h1M478.3 523.5h1M485.9 517.9h1M448.8 526.2h1M469.7 511.5h1M452.5 526.2h1M429.8 523.3h1M443.0 512.4h1M453.9 521.7h1M450.6 518.2h1M473.4 515.7h1M447.0 513.5h1M478.9 513.1h1M488.8 516.5h1M457.2 531.9h1M439.0 530.0h1M434.8 519.2h1M468.0 524.1h1M464.0 524.0h1M486.1 512.3h1M445.7 527.4h1M431.8 517.9h1M501.8 530.2h1M467.2 522.6h1M455.1 516.7h1M442.4 516.1h1M435.2 522.9h1M465.6 516.4h1M460.4 514.0h1M464.7 520.1h1M456.8 523.3h1M481.4 523.4h1M446.4 523.0h1M465.1 525.3h1M476.9 517.1h1M436.7 525.9h1M437.8 524.8h1M506.8 529.7h1M431.7 517.1h1M465.1 520.4h1M470.6 523.6h1M464.0 525.5h1M430.0 529.0h1M432.6 516.7h1M465.3 519.8h1M436.6 508.9h1M468.1 515.1h1M451.5 523.6h1M456.9 524.6h1M487.8 526.4h1M439.8 521.9h1M453.9 516.9h1M469.8 519.8h1M462.3 526.0h1M495.8 518.4h1M471.1 531.9h1M486.7 524.0h1M444.8 523.1h1M446.8 519.6h1M427.0 520.4h1M467.5 519.7h1M458.7 522.9h1M453.5 523.9h1M454.9 524.9h1M443.4 522.6h1M488.4 517.2h1M443.5 527.9h1M463.8 523.1h1M461.4 519.7h1M448.6 525.3h1M461.3 526.1h1M466.2 531.9h1M459.7 530.7h1M460.9 531.9h1M475.9 517.6h1M486.8 518.7h1M476.4 517.6h1M464.6 523.1h1M484.0 509.1h1M425.4 528.2h1M471.7 519.1h1M459.9 511.6h1M451.2 518.2h1M474.2 523.7h1M455.3 529.2h1M446.4 526.8h1M453.9 525.0h1M452.8 530.7h1M472.6 517.2h1M450.1 530.4h1M484.8 514.9h1M461.2 526.0h1M501.3 526.3h1M454.5 527.9h1M459.6 517.0h1M457.4 520.9h1M454.3 522.8h1M464.7 517.5h1M470.4 512.7h1M470.3 525.3h1M465.9 513.2h1M449.1 523.5h1M466.6 526.8h1M430.4 522.4h1M477.8 515.3h1M436.1 519.5h1M453.3 520.7h1M480.9 524.0h1M459.9 527.5h1M457.7 530.7h1M460.8 519.4h1M436.4 528.0h1M455.7 511.7h1M473.5 530.2h1M480.4 517.9h1M466.5 526.8h1M431.4 531.1h1M467.2 527.5h1M442.1 527.4h1M457.4 520.5h1M458.8 524.5h1M430.6 522.4h1M464.8 512.6h1M470.4 522.4h1M439.3 515.7h1M435.8 527.8h1M442.3 523.6h1M450.2 527.9h1M481.4 528.0h1M470.2 528.9h1M489.2 517.2h1M463.0 518.5h1M459.0 521.1h1M460.3 526.8h1M434.5 506.7h1M463.1 528.9h1M451.0 531.4h1M499.3 522.9h1M454.3 525.6h1M472.1 513.4h1M467.3 510.0h1M438.7 523.8h1M463.9 515.2h1M459.0 530.3h1M428.2 525.9h1M481.3 514.3h1M479.9 525.2h1M452.5 522.6h1M457.5 522.7h1M454.4 518.0h1M474.7 531.9h1M454.6 531.1h1M444.1 514.7h1M469.7 523.9h1M466.4 516.7h1M450.9 528.7h1M487.2 524.1h1M465.1 506.5h1M446.3 530.4h1M492.9 517.5h1M434.4 519.9h1M447.1 520.2h1M440.5 526.5h1M463.6 514.5h1M429.3 531.9h1M468.4 523.8h1M439.2 523.2h1M464.1 518.1h1M460.3 519.7h1M425.4 514.1h1M446.7 519.3h1M453.7 531.9h1M450.1 523.2h1M453.9 512.3h1M456.7 521.2h1M442.9 527.1h1M465.3 520.6h1M442.0 524.3h1M443.3 517.3h1M448.9 528.3h1M452.7 521.5h1M451.8 526.1h1M455.0 527.6h1M455.1 527.7h1M452.4 518.0h1M465.3 521.3h1M449.6 531.3h1M448.8 517.8h1M451.7 531.3h1M433.5 529.6h1M467.1 520.1h1M451.6 518.1h1M425.4 516.9h1M432.3 512.8h1M449.7 526.2h1M440.7 520.5h1M443.6 521.3h1M464.8 529.9h1M468.4 524.8h1M482.5 526.9h1M466.3 526.0h1M472.3 516.3h1M441.4 523.1h1M425.3 520.9h1M451.4 524.5h1M469.9 530.5h1M425.4 523.9h1M463.5 531.3h1M446.1 525.1h1M454.6 516.8h1M461.7 528.4h1M450.9 523.1h1M477.1 521.4h1M451.6 524.4h1M465.3 525.1h1M479.6 525.3h1M435.6 512.7h1M455.5 531.9h1M457.9 519.9h1M462.1 525.8h1M479.7 514.8h1M471.1 523.7h1M472.0 529.2h1M425.4 528.2h1M466.1 517.8h1M454.9 529.0h1M429.9 528.0h1M441.9 518.8h1M475.2 520.9h1M464.5 506.7h1M500.3 511.3h1M427.3 525.6h1M466.1 517.6h1M461.2 517.0h1M459.4 519.1h1M438.6 526.9h1M457.0 522.8h1M434.6 518.3h1M452.0 518.9h1M463.2 522.8h1M452.9 521.5h1M464.4 528.8h1M437.4 528.4h1M473.2 527.4h1M446.9 523.9h1M495.1 514.5h1M472.1 521.0h1M487.0 523.4h1M472.3 518.8h1M448.0 532.4h1M434.0 519.4h1M452.4 514.9h1M468.3 515.1h1M457.8 521.1h1M428.9 522.7h1M471.7 524.3h1M477.2 531.9h1M470.2 521.4h1M454.8 526.4h1M434.4 516.2h1M456.8 531.9h1M436.7 524.1h1M444.1 527.0h1M463.3 522.4h1M473.4 521.0h1M426.8 531.9h1M454.9 524.5h1M471.1 517.6h1M448.5 517.9h1M467.3 525.0h1M460.5 514.6h1M442.0 513.7h1M432.2 518.0h1M462.2 525.6h1M463.4 532.3h1M472.4 513.3h1M465.8 524.0h1M462.8 518.1h1M482.9 523.1h1M446.4 511.4h1M452.3 514.1h1M430.2 531.9h1M455.7 528.5h1M477.0 527.1h1M449.1 515.3h1M453.9 523.3h1M454.3 520.7h1M459.5 513.7h1M476.1 515.3h1M459.1 517.1h1M481.5 519.1h1M440.1 520.2h1M472.9 514.9h1M433.3 519.3h1M470.7 504.4h1M453.7 528.3h1M454.6 511.1h1M449.1 526.3h1M436.7 520.7h1M444.9 524.9h1M502.0 523.0h1M433.3 531.9h1M451.6 519.9h1M466.0 527.2h1M460.9 524.7h1M460.2 515.1h1M471.2 527.9h1M442.7 511.7h1M446.0 523.6h1M482.7 523.9h1M425.4 518.7h1M458.1 524.0h1M429.2 520.3h1M459.5 526.8h1M444.4 519.8h1M448.8 525.6h1M493.5 523.6h1M459.9 516.8h1M455.4 531.3h1M472.0 519.4h1M461.5 516.9h1M468.5 521.6h1M471.4 530.2h1M446.2 527.5h1M465.0 519.2h1M462.0 530.2h1M460.0 528.6h1M463.3 530.4h1M454.6 520.4h1M468.6 508.3h1M447.6 532.0h1M443.4 531.9h1M486.6 519.4h1M443.2 524.9h1M485.1 518.1h1M472.9 519.3h1M476.9 525.4h1M483.5 522.0h1M472.3 514.6h1M439.3 525.7h1M459.0 528.0h1M499.4 518.6h1M435.4 515.9h1M445.8 529.7h1M464.2 520.6h1M469.6 521.4h1M461.9 522.4h1M432.3 527.5h1M460.5 531.9h1M459.1 518.7h1M460.5 517.9h1M456.6 520.1h1M463.4 516.7h1M455.3 519.9h1M439.2 522.0h1M470.1 527.0h1M463.0 521.7h1M474.9 520.7h1M469.7 511.6h1M435.1 517.9h1M478.2 520.8h1M465.8 515.6h1M457.5 518.3h1M462.1 520.9h1M448.7 506.9h1M461.5 508.6h1M448.0 512.8h1M494.4 514.4h1M450.1 524.7h1M451.5 523.9h1M474.6 518.4h1M467.0 521.6h1M433.1 524.2h1M437.5 528.9h1M457.6 523.5h1M476.0 517.2h1M442.7 531.4h1M470.9 525.1h1M425.4 522.5h1M439.9 518.6h1M427.1 512.1h1M449.4 524.7h1M448.1 521.2h1M459.0 530.8h1M446.7 523.2h1M508.9 522.2h1M472.9 514.9h1M437.8 519.5h1M484.0 519.2h1M434.2 510.6h1M460.6 529.0h1M442.7 519.8h1M436.8 517.7h1M476.8 518.9h1M437.9 526.2h1M462.6 522.0h1M496.4 524.2h1M479.5 514.5h1M456.4 530.3h1M471.9 528.0h1M429.8 520.5h1M489.4 531.5h1M483.6 527.3h1M482.9 504.7h1M459.5 527.3h1M481.0 516.2h1M477.8 527.3h1M447.9 532.3h1M482.0 527.9h1M448.9 524.1h1M457.3 531.9h1M504.6 516.9h1M496.1 525.1h1M444.8 517.7h1M487.3 524.3h1M445.1 521.1h1M450.4 521.5h1M492.5 518.0h1M451.7 503.2h1M467.5 528.2h1M497.4 518.4h1M452.2 519.8h1M433.9 522.3h1M442.8 520.8h1M460.8 527.0h1M459.0 531.9h1M464.3 525.6h1M467.9 521.7h1M476.6 523.2h1M431.9 518.9h1M486.6 512.1h1M492.0 523.0h1M463.0 530.1h1M462.3 519.3h1M435.2 526.6h1M459.9 516.3h1M480.7 527.8h1M501.1 523.9h1M434.0 522.9h1M472.7 527.8h1M432.3 525.2h1M471.1 524.7h1M426.4 519.3h1M455.7 520.8h1M475.7 519.8h1M467.3 517.2h1M457.2 529.1h1M447.8 522.0h1M429.9 514.6h1M469.4 529.5h1M445.2 521.0h1M464.4 519.4h1M459.4 519.7h1M469.7 519.0h1M448.7 513.6h1M443.0 512.9h1M455.3 528.4h1M432.9 516.8h1M443.1 525.0h1M452.1 520.1h1M439.4 520.5h1M451.2 517.1h1M485.5 525.2h1M454.9 524.1h1M502.7 526.0h1M447.6 521.9h1M480.4 525.0h1M452.7 522.7h1M436.2 520.1h1M450.0 520.6h1M484.5 522.3h1M480.7 522.1h1M428.7 529.7h1M447.5 521.4h1M479.5 530.8h1M461.1 530.0h1M448.4 526.1h1M440.3 528.2h1M447.0 526.2h1M434.6 531.0h1M489.8 520.5h1M459.3 516.1h1M454.2 513.1h1M472.1 521.7h1M480.8 522.1h1M453.6 516.9h1M470.4 521.3h1M434.8 512.9h1M476.7 521.4h1M456.7 518.7h1M447.8 522.0h1M461.9 514.7h1M506.3 527.7h1M480.0 518.1h1M431.4 525.4h1M446.0 522.0h1M490.3 522.1h1M484.0 517.2h1M425.4 519.7h1M450.5 526.2h1M466.7 509.8h1M436.3 519.4h1M443.8 518.1h1M451.6 523.0h1M428.7 516.3h1M440.2 529.5h1M454.7 512.9h1M467.5 527.8h1M426.6 514.5h1M466.8 522.4h1M469.9 531.9h1M471.0 528.2h1M448.6 530.7h1M444.4 524.1h1M473.3 516.4h1M448.9 508.7h1M451.3 514.0h1M459.2 519.1h1M444.7 520.0h1M450.0 522.0h1M452.9 529.1h1M478.7 506.6h1M484.2 520.7h1M464.9 516.4h1M469.8 525.5h1M447.1 515.1h1M468.1 524.7h1M440.4 508.9h1M436.4 524.5h1M482.8 516.0h1M447.0 515.3h1M464.9 517.1h1M490.7 525.6h1M454.2 519.5h1M477.7 519.6h1M450.6 522.6h1M478.6 530.7h1M451.4 514.5h1M440.5 520.9h1M470.6 505.9h1M470.7 524.5h1M462.1 512.9h1M460.1 518.8h1M440.0 525.7h1M482.3 523.1h1M469.4 528.1h1M458.9 519.4h1M487.1 518.2h1M452.5 524.0h1M450.3 516.1h1M479.4 521.8h1M444.9 518.4h1M469.7 526.9h1M462.3 529.0h1M458.2 531.6h1M475.8 515.0h1M456.6 523.9h1M458.1 515.9h1M467.5 521.5h1M429.9 514.1h1M451.0 527.6h1M457.8 523.1h1M476.7 520.6h1M458.8 521.5h1M475.9 517.9h1M465.9 517.5h1M460.2 528.6h1M443.6 524.9h1M460.0 523.3h1M468.6 522.4h1M468.1 531.9h1M445.5 515.4h1M472.8 524.3h1M496.4 518.2h1M472.4 518.6h1M449.5 518.3h1M443.3 516.2h1M452.6 521.0h1M459.8 526.9h1M441.7 521.4h1M442.2 527.0h1M441.5 519.8h1M443.9 528.4h1M436.0 515.0h1M451.4 519.8h1M441.4 528.8h1M448.4 509.3h1M455.0 514.0h1M446.5 519.0h1M441.8 519.4h1M451.3 525.7h1M505.9 517.7h1M450.1 528.8h1M490.5 526.7h1M460.3 529.2h1M448.6 514.5h1M483.7 516.6h1M439.2 522.8h1M441.4 526.0h1M460.1 520.7h1M448.3 530.8h1M484.4 528.8h1M434.3 531.9h1M460.6 532.3h1M468.6 517.9h1M427.9 517.9h1M481.2 519.2h1M489.4 514.2h1M470.7 521.3h1M432.7 524.2h1M451.2 520.2h1M446.4 521.0h1M443.2 531.9h1M451.1 523.2h1M452.6 529.6h1M469.3 528.0h1M430.1 522.9h1M455.9 525.8h1M446.2 522.8h1M440.3 519.8h1M465.2 518.9h1M442.9 521.1h1M464.6 524.5h1M436.6 519.4h1M436.9 515.9h1M502.8 529.3h1M471.6 520.2h1M474.4 531.3h1M481.5 526.3h1M440.1 531.9h1M472.7 527.2h1M465.0 524.2h1M451.0 511.7h1M491.6 531.9h1M467.4 526.1h1M458.1 526.6h1M455.6 521.5h1M470.0 511.6h1M484.4 519.6h1M468.5 525.7h1M488.1 532.2h1M434.2 516.2h1M461.4 512.1h1M469.9 521.2h1M443.7 527.1h1M440.8 517.5h1M458.0 527.2h1M454.5 519.9h1M461.8 519.7h1M425.4 527.6h1M467.1 528.7h1M460.4 524.8h1M426.9 513.7h1M425.4 529.1h1M445.0 530.1h1M466.1 519.2h1M456.1 517.2h1M449.6 524.0h1M470.5 519.0h1M428.4 528.9h1M437.2 526.3h1M429.5 516.5h1M466.0 531.9h1M492.8 522.8h1M462.5 524.2h1M460.6 515.9h1M447.4 519.6h1M435.3 518.2h1M480.0 524.2h1M448.0 519.8h1M472.8 518.5h1M442.6 520.1h1M425.4 528.9h1M442.3 526.6h1M457.2 528.1h1M467.8 520.7h1M463.2 509.4h1M436.1 509.6h1M463.7 513.1h1M428.4 524.3h1M469.2 520.7h1M484.7 523.5h1M495.3 527.1h1M496.1 505.9h1M471.5 526.7h1M485.3 525.6h1M464.9 523.9h1M461.2 525.4h1M487.5 512.2h1M449.0 513.1h1M446.3 523.7h1M460.8 524.3h1M471.1 524.6h1M451.1 521.3h1M437.4 519.3h1M455.4 524.3h1M427.6 528.7h1M455.9 512.6h1M454.3 525.5h1M459.0 519.5h1M440.6 523.3h1M460.2 523.8h1M450.0 529.4h1M426.6 510.2h1M460.5 527.0h1M451.7 524.7h1M453.7 528.9h1M445.9 525.2h1M463.2 512.5h1M479.0 518.5h1M435.7 518.0h1M473.1 519.5h1M471.6 516.3h1M461.9 511.6h1M451.6 529.8h1M447.1 523.1h1M425.4 532.0h1M452.7 524.7h1M449.7 515.7h1M450.4 520.0h1M437.5 521.0h1M438.6 519.0h1M462.7 523.3h1M452.4 524.4h1M488.9 524.1h1M459.0 521.4h1M463.1 525.8h1M474.6 524.8h1M445.4 521.3h1M442.5 530.0h1M444.0 512.3h1M452.6 516.9h1M460.3 522.8h1M440.9 512.7h1M450.4 514.2h1M453.0 523.0h1M449.2 522.9h1M449.0 531.8h1M425.4 515.5h1M477.4 514.6h1M468.1 520.6h1M456.5 513.5h1M448.8 521.1h1M448.2 508.5h1M459.3 519.8h1M428.2 528.8h1M454.0 515.2h1M439.8 523.7h1M446.0 526.1h1M433.0 523.5h1M464.6 525.0h1M441.1 516.3h1M435.0 522.5h1M451.0 529.1h1M450.2 529.8h1M451.2 527.9h1M474.5 523.6h1M432.8 524.4h1M458.8 520.1h1M451.8 526.0h1M425.4 525.2h1M485.6 517.9h1M478.5 519.2h1M450.5 519.8h1M455.5 517.4h1M445.0 520.5h1M439.0 521.5h1M474.7 517.0h1M459.5 517.4h1M434.7 521.8h1M450.7 527.8h1M468.8 522.4h1M444.0 529.9h1M431.8 517.4h1M469.2 524.3h1M467.3 520.6h1M469.2 528.8h1M425.4 525.0h1M473.6 515.8h1M438.4 524.0h1M467.2 521.8h1M425.9 523.1h1M453.9 519.6h1M474.6 509.3h1M457.7 518.3h1M466.5 520.0h1M487.4 522.9h1M446.0 512.3h1M450.9 521.6h1M484.6 524.0h1M459.2 516.5h1M459.7 516.2h1M430.1 524.4h1M447.7 514.0h1M476.7 529.0h1M464.1 512.2h1M440.6 516.1h1M472.5 521.2h1M440.5 513.6h1M442.5 522.8h1M451.4 524.8h1M465.5 515.1h1M471.1 522.0h1M485.3 521.0h1M449.4 521.1h1M478.4 524.9h1M477.4 527.9h1M454.4 520.5h1M476.4 515.0h1M461.9 527.7h1M439.8 510.7h1M430.2 528.5h1M501.7 516.6h1M432.2 514.4h1M484.8 526.3h1M468.5 517.6h1M468.3 517.5h1M466.6 517.4h1M433.0 519.2h1M463.8 523.7h1M446.2 527.2h1M426.9 510.3h1M467.2 520.9h1M455.6 519.1h1M466.0 523.1h1M481.6 516.2h1M433.2 521.0h1M451.7 520.0h1M487.3 523.9h1M479.1 525.3h1M461.3 524.1h1M476.5 524.5h1M468.5 521.4h1M442.8 523.9h1M449.1 525.2h1M480.8 530.7h1M463.8 515.6h1M449.3 514.9h1M464.2 521.9h1M459.7 510.9h1M429.2 508.9h1M482.7 524.7h1M457.8 519.7h1M449.2 516.8h1M475.4 509.9h1M459.9 526.5h1M471.8 512.9h1M483.3 520.8h1M452.0 523.8h1M476.9 522.5h1M450.7 523.0h1M464.1 531.9h1M457.5 516.3h1M492.7 530.6h1M484.6 516.2h1M446.2 513.7h1M454.9 529.6h1M474.7 522.1h1M461.6 524.7h1M454.8 515.6h1M444.4 531.6h1M439.9 515.1h1M468.0 519.8h1M451.1 522.7h1M455.0 512.1h1M475.1 523.1h1M489.5 526.8h1M446.7 519.2h1M444.3 508.8h1M471.3 517.8h1M476.0 522.8h1M455.5 531.4h1M440.1 532.2h1M450.7 531.9h1M479.4 518.7h1M490.7 524.3h1M464.3 519.5h1M456.9 519.4h1M451.5 526.5h1M473.1 529.2h1M480.4 521.4h1M472.0 520.3h1M468.7 525.5h1M465.1 517.2h1M435.9 531.9h1M443.2 518.2h1M465.3 519.6h1M466.0 529.9h1M429.2 522.4h1M469.3 513.6h1M471.8 530.6h1M458.8 524.7h1M452.6 527.7h1M448.5 521.9h1M445.6 517.6h1M479.7 521.5h1M474.9 512.5h1M435.9 516.6h1M493.7 528.7h1M499.9 519.2h1M469.5 524.0h1M453.3 525.4h1M457.7 524.7h1M425.0 515.7h1M439.6 531.8h1M474.6 516.2h1M467.5 518.5h1M437.1 516.5h1M456.5 529.2h1M463.5 515.4h1M473.1 516.9h1M457.1 522.6h1M458.4 518.6h1M453.2 520.0h1M480.1 523.2h1M466.5 521.4h1M425.6 525.4h1M471.0 515.8h1M437.1 518.5h1M433.5 507.3h1M450.7 518.4h1M460.5 528.9h1M441.3 512.7h1M456.2 525.9h1M485.1 527.4h1M460.7 522.2h1M425.9 526.0h1M472.9 521.4h1M452.6 524.3h1M488.4 520.4h1M488.2 510.4h1M478.6 509.8h1M491.9 530.6h1M476.3 517.2h1M486.6 514.4h1M500.8 518.9h1M505.3 529.1h1M488.9 514.2h1M497.1 516.6h1M476.1 516.9h1M495.2 514.0h1M481.9 522.2h1M481.3 522.3h1M496.1 515.5h1M472.5 512.1h1M496.6 520.6h1M484.8 516.0h1M494.6 515.6h1M468.3 523.1h1M486.6 517.8h1M482.3 523.7h1M479.3 525.5h1M476.6 522.3h1M469.3 522.6h1M474.5 516.7h1M491.4 514.1h1M489.3 517.9h1M496.9 522.3h1M486.5 517.0h1M475.2 524.8h1M481.7 511.7h1M476.1 508.7h1M475.4 515.7h1M486.4 522.3h1M492.1 509.0h1M479.3 520.8h1M487.3 517.8h1M476.2 521.3h1M483.1 516.6h1M482.8 516.7h1M486.9 523.2h1M484.6 514.7h1M482.8 517.1h1M488.8 521.6h1M500.1 522.2h1M467.3 513.7h1M471.5 519.3h1M506.9 520.1h1M478.4 524.6h1M490.0 513.9h1M474.5 525.0h1M491.4 507.7h1M476.5 520.6h1M470.6 517.8h1M475.2 509.7h1M478.8 515.2h1M486.6 509.5h1M486.4 516.0h1M468.1 523.7h1M479.4 519.9h1M499.2 519.8h1M493.0 518.9h1M478.1 518.8h1M468.3 520.2h1M492.0 519.9h1M477.1 512.0h1M476.5 516.4h1M469.7 527.2h1M475.8 518.5h1M479.1 518.5h1M462.5 512.8h1M483.5 517.6h1M487.7 515.2h1M491.9 518.9h1M483.3 517.9h1M494.2 517.7h1M499.1 518.4h1M486.2 517.8h1M486.7 520.1h1M477.6 521.7h1M509.1 520.5h1M484.9 513.9h1M476.2 513.8h1M486.3 514.5h1M499.6 515.8h1M474.9 513.4h1M482.8 517.1h1M492.9 514.3h1M487.0 522.5h1M480.9 509.4h1M486.1 522.8h1M487.6 517.9h1M464.6 525.7h1M481.8 512.0h1M480.4 518.6h1M484.1 513.4h1M507.5 523.9h1M493.6 520.9h1M479.8 512.1h1M471.1 523.0h1M484.5 525.8h1M461.3 524.3h1M488.3 515.2h1M492.4 514.6h1M480.9 520.4h1M485.2 519.2h1M485.8 522.9h1M475.3 508.1h1M474.6 506.1h1M502.9 514.6h1M483.3 519.4h1M476.0 515.4h1M486.2 517.9h1M491.7 516.6h1M477.0 510.7h1M466.9 519.1h1M486.8 515.8h1M495.7 504.7h1M490.0 512.0h1M480.3 516.7h1M476.2 516.4h1M486.4 529.5h1M483.7 521.3h1M491.8 513.2h1M488.4 515.8h1M492.5 515.0h1M494.3 513.5h1M479.0 522.0h1M493.8 522.1h1M503.4 522.8h1M483.6 522.4h1M475.4 521.8h1M487.6 517.1h1M476.5 523.0h1M463.7 517.0h1M469.6 516.1h1M479.3 513.8h1M477.6 519.2h1M503.2 526.3h1M481.7 515.8h1M489.7 513.7h1M468.9 522.6h1M479.6 525.3h1M487.0 510.7h1M486.6 520.2h1M484.2 511.2h1M468.7 526.9h1M455.8 513.1h1M491.6 526.6h1M490.1 517.7h1M487.4 523.4h1M478.4 524.0h1M486.1 518.8h1M488.0 519.4h1M474.5 525.4h1M478.8 516.5h1M460.3 509.8h1M489.3 517.4h1M482.6 516.0h1M489.8 514.6h1M468.9 509.9h1M475.7 519.4h1M497.9 520.6h1M476.9 511.3h1M491.9 520.3h1M483.1 520.9h1M489.5 520.3h1M496.8 510.3h1M477.2 515.2h1M473.8 527.5h1M487.2 519.9h1M491.5 516.7h1M492.0 516.8h1M491.1 520.6h1M496.6 510.4h1M474.5 514.1h1M475.5 519.7h1M493.3 516.1h1M494.3 522.2h1M477.8 521.1h1M497.9 515.5h1M461.9 520.5h1M486.5 520.9h1M488.8 517.6h1M483.6 513.9h1M503.1 525.4h1M482.3 513.7h1M488.0 525.7h1M484.2 513.8h1M493.1 519.1h1M475.8 516.8h1M485.3 512.4h1M486.6 524.1h1M494.2 524.0h1M491.2 517.4h1M489.9 523.9h1M484.2 520.4h1M477.6 517.9h1M479.0 512.6h1M487.7 528.8h1M467.0 515.5h1M485.7 514.3h1M485.4 522.1h1M467.7 517.4h1M489.6 520.7h1M501.9 518.9h1M496.1 515.1h1M474.9 515.3h1M479.5 522.3h1M491.3 518.0h1M475.0 518.6h1M479.7 516.1h1M466.7 525.6h1M510.4 518.2h1M505.8 515.9h1M465.7 517.9h1M491.8 526.4h1M493.5 526.7h1M485.7 510.5h1M485.5 513.6h1M492.2 507.5h1M474.2 512.2h1M485.0 523.0h1M480.9 511.5h1M478.9 517.2h1M495.4 518.5h1M497.6 503.9h1M501.6 528.8h1M478.8 531.3h1M468.6 522.6h1M471.0 514.9h1M488.9 519.1h1M486.8 517.0h1M465.6 509.9h1M475.5 513.0h1M479.3 509.5h1M482.7 520.4h1M479.0 524.6h1M486.0 522.6h1M475.1 519.0h1M469.8 508.6h1M466.5 516.0h1M486.3 528.5h1M487.1 516.1h1M494.4 518.5h1M484.0 518.6h1M493.6 525.9h1M469.8 518.5h1M479.2 518.0h1M507.5 516.8h1M459.5 522.3h1M479.2 513.4h1M506.0 527.9h1M494.1 519.2h1M476.7 525.2h1M481.5 519.1h1M495.9 510.2h1M485.1 509.3h1M489.3 505.8h1M490.0 510.0h1M495.8 509.6h1M494.3 512.8h1M484.5 511.2h1M495.5 507.6h1M505.2 507.1h1M503.5 509.3h1M495.3 512.4h1M488.2 508.5h1M494.6 503.9h1M494.4 509.6h1M486.5 509.4h1M489.1 517.6h1M504.5 509.2h1M498.2 512.6h1M497.6 512.5h1M502.2 513.7h1M503.3 506.4h1M500.6 511.5h1M500.9 514.2h1M498.7 508.0h1M502.3 511.1h1M496.9 510.9h1M497.8 510.0h1M499.1 507.9h1M501.4 509.3h1M507.4 507.7h1M497.7 506.1h1M493.9 509.5h1M497.0 509.2h1M507.1 505.7h1M495.6 508.7h1M500.6 504.3h1M503.0 507.0h1M488.4 515.4h1M489.0 513.3h1M497.1 507.7h1M487.0 510.1h1M501.5 508.1h1M493.5 512.8h1M497.2 509.6h1M491.8 507.2h1M494.2 510.9h1M494.5 510.9h1M495.4 509.2h1M496.7 510.4h1M483.5 512.8h1M495.8 508.6h1M502.8 511.0h1M503.8 509.6h1M499.7 509.1h1M501.5 506.6h1M496.2 510.5h1M496.1 506.5h1M496.4 508.5h1M493.1 512.0h1M503.4 508.0h1M490.0 510.7h1M495.8 507.0h1M493.3 510.7h1M493.4 511.5h1M489.1 513.1h1M492.7 510.8h1M497.0 508.1h1M503.2 503.3h1M498.1 510.8h1M495.5 509.6h1M490.1 511.0h1M497.9 507.6h1M497.0 508.5h1M490.8 510.7h1M492.2 512.8h1M492.2 514.2h1M496.8 509.4h1M492.5 511.6h1M490.7 507.0h1M499.5 503.4h1M503.7 506.3h1M506.4 507.7h1M506.8 503.2h1M494.2 510.8h1M493.5 510.4h1M495.9 511.3h1M505.5 501.7h1M500.7 505.5h1M506.7 503.2h1" stroke="#000" stroke-opacity="0.72" stroke-width="1" fill="none"/>
<path d="M462.3 469.1V533.4M424.4 513.3H511.5" stroke="#888" stroke-width="0.8" fill="none"/>
<path d="M424.4 469.1H511.5V533.4" stroke="#222" stroke-width="1" fill="none"/>
<path d="M424.4 468.6V534.4" stroke="#000" stroke-width="1.7" fill="none"/>
<path d="M423.6 533.4H512" stroke="#000" stroke-width="2" fill="none"/>
<path d="M424.4 533.4h-4M424.4 533.4v4M424.4 528.561h-2M430.955 533.4v2M424.4 525.73h-2M434.789 533.4v2M424.4 522.164h-2M439.62 533.4v2M424.4 519.815h-2M442.802 533.4v2M424.4 517.325h-4M446.175 533.4v4M424.4 512.486h-2M452.73 533.4v2M424.4 509.655h-2M456.564 533.4v2M424.4 506.089h-2M461.395 533.4v2M424.4 503.74h-2M464.577 533.4v2M424.4 501.25h-4M467.95 533.4v4M424.4 496.411h-2M474.505 533.4v2M424.4 493.58h-2M478.339 533.4v2M424.4 490.014h-2M483.17 533.4v2M424.4 487.665h-2M486.352 533.4v2M424.4 485.175h-4M489.725 533.4v4M424.4 480.336h-2M496.28 533.4v2M424.4 477.505h-2M500.114 533.4v2M424.4 473.939h-2M504.945 533.4v2M424.4 471.59h-2M508.127 533.4v2M424.4 469.1h-4M511.5 533.4v4" stroke="#333" stroke-width="0.7" fill="none"/>
<text x="410.3" y="538.9" font-size="7" text-anchor="end">10</text><text x="415.4" y="532.7" font-size="5.2" text-anchor="middle">0</text>
<text x="421.2" y="549.7" font-size="7" text-anchor="end">10</text><text x="425.9" y="542.7" font-size="5.2" text-anchor="middle">0</text>
<text x="410.3" y="522.825" font-size="7" text-anchor="end">10</text><text x="415.4" y="516.625" font-size="5.2" text-anchor="middle">1</text>
<text x="442.975" y="549.7" font-size="7" text-anchor="end">10</text><text x="447.675" y="542.7" font-size="5.2" text-anchor="middle">1</text>
<text x="410.3" y="506.75" font-size="7" text-anchor="end">10</text><text x="415.4" y="500.55" font-size="5.2" text-anchor="middle">2</text>
<text x="464.75" y="549.7" font-size="7" text-anchor="end">10</text><text x="469.45" y="542.7" font-size="5.2" text-anchor="middle">2</text>
<text x="410.3" y="490.675" font-size="7" text-anchor="end">10</text><text x="415.4" y="484.475" font-size="5.2" text-anchor="middle">3</text>
<text x="486.525" y="549.7" font-size="7" text-anchor="end">10</text><text x="491.225" y="542.7" font-size="5.2" text-anchor="middle">3</text>
<text x="410.3" y="474.6" font-size="7" text-anchor="end">10</text><text x="415.4" y="468.4" font-size="5.2" text-anchor="middle">4</text>
<text x="508.3" y="549.7" font-size="7" text-anchor="end">10</text><text x="513" y="542.7" font-size="5.2" text-anchor="middle">4</text>
<text transform="translate(394.1,506.25) rotate(-90)" font-size="9.4" text-anchor="middle" stroke-width="0.35">NKG2D</text>
<text x="463.25" y="563.6" font-size="9.3" text-anchor="middle" stroke-width="0.35">4-1BB</text>
<text x="436.4" y="485.8" font-size="9.3" font-weight="bold" text-anchor="middle">2</text>
<text x="494.6" y="485.8" font-size="9.3" font-weight="bold" text-anchor="middle">3</text>
<rect x="427.35" y="523" width="11.9" height="8" fill="#fff"/>
<text x="433.3" y="530.2" font-size="9.3" font-weight="bold" text-anchor="middle">48</text>
<rect x="497.15" y="520.1" width="11.9" height="8" fill="#fff"/>
<text x="503.1" y="527.3" font-size="9.3" font-weight="bold" text-anchor="middle">47</text>
</g>
<g id="C" class="c">
<text x="0.6" y="609" font-size="21.5" font-weight="bold">C</text>
<rect x="362.5" y="596.5" width="120" height="71.5" fill="#fff" stroke="#444" stroke-width="1.8"/>
<path d="M375.2 609.5H397.8" stroke="#000" stroke-width="2"/>
<path d="M381.7 609.5l4.6 -4.2l4.6 4.2l-4.6 4.2z" fill="#000"/>
<text x="406" y="613.1" font-size="14.3" textLength="45" lengthAdjust="spacingAndGlyphs">Control</text>
<path d="M375.2 632H397.8" stroke="#000" stroke-width="2"/>
<rect x="382.1" y="628.6" width="8.4" height="6.8" fill="#000"/>
<text x="406" y="635.6" font-size="14.3" textLength="63.2" lengthAdjust="spacingAndGlyphs">Anti-4-1BB</text>
<path d="M375.2 655.4H397.8" stroke="#000" stroke-width="2"/>
<path d="M386.3 650.8l4.8 8h-9.6z" fill="#000"/>
<text x="406" y="659" font-size="14.3" textLength="70.5" lengthAdjust="spacingAndGlyphs">Anti-NKG2D</text>
<path d="M50 675.5V839.2" stroke="#6a6a6a" stroke-width="2" fill="none"/>
<path d="M45.5 839.2H243" stroke="#6a6a6a" stroke-width="1.6" fill="none"/>
<path d="M45.5 839.2h4.5" stroke="#555" stroke-width="1.3"/>
<text x="36.4" y="842.8" font-size="10.2" textLength="7" lengthAdjust="spacingAndGlyphs">0</text>
<path d="M45.5 806.5h4.5" stroke="#555" stroke-width="1.3"/>
<text x="28.8" y="810.1" font-size="10.2" textLength="14.6" lengthAdjust="spacingAndGlyphs">20</text>
<path d="M45.5 773.8h4.5" stroke="#555" stroke-width="1.3"/>
<text x="28.8" y="777.4" font-size="10.2" textLength="14.6" lengthAdjust="spacingAndGlyphs">40</text>
<path d="M45.5 741.1h4.5" stroke="#555" stroke-width="1.3"/>
<text x="28.8" y="744.7" font-size="10.2" textLength="14.6" lengthAdjust="spacingAndGlyphs">60</text>
<path d="M45.5 708.4h4.5" stroke="#555" stroke-width="1.3"/>
<text x="28.8" y="712" font-size="10.2" textLength="14.6" lengthAdjust="spacingAndGlyphs">80</text>
<path d="M45.5 675.7h4.5" stroke="#555" stroke-width="1.3"/>
<text x="24" y="679.3" font-size="10.2" textLength="19.4" lengthAdjust="spacingAndGlyphs">100</text>
<path d="M49 675.5H243" stroke="#000" stroke-width="2.2" fill="none"/>
<path d="M243 675.5V839.2" stroke="#222" stroke-width="1.1" fill="none"/>
<polyline points="74,788.024 122.5,768.895 171,752.545 219.5,711.67" fill="none" stroke="#000" stroke-width="3.2" stroke-linejoin="round"/>
<polyline points="74,795.382 122.5,779.359 171,759.249 219.5,714.94" fill="none" stroke="#000" stroke-width="3.2" stroke-linejoin="round"/>
<polyline points="74,806.337 122.5,804.375 171,789.823 219.5,757.941" fill="none" stroke="#000" stroke-width="3.2" stroke-linejoin="round"/>
<path d="M74 779V797M71.2 779h5.6M71.2 797h5.6" stroke="#000" stroke-width="1.5" fill="none"/>
<path d="M74 801V812.7M71.2 801h5.6M71.2 812.7h5.6" stroke="#000" stroke-width="1.5" fill="none"/>
<path d="M122.5 753V787M119.7 753h5.6M119.7 787h5.6" stroke="#000" stroke-width="1.5" fill="none"/>
<path d="M122.5 794.8V814.6M119.7 794.8h5.6M119.7 814.6h5.6" stroke="#000" stroke-width="1.5" fill="none"/>
<path d="M171 738.4V759M168.2 738.4h5.6M168.2 759h5.6" stroke="#000" stroke-width="1.5" fill="none"/>
<path d="M171 754V769M168.2 754h5.6M168.2 769h5.6" stroke="#000" stroke-width="1.5" fill="none"/>
<path d="M171 780.2V800.5M168.2 780.2h5.6M168.2 800.5h5.6" stroke="#000" stroke-width="1.5" fill="none"/>
<path d="M219.5 695.6V728.5M216.7 695.6h5.6M216.7 728.5h5.6" stroke="#000" stroke-width="1.5" fill="none"/>
<path d="M219.5 711V734M216.7 711h5.6M216.7 734h5.6" stroke="#000" stroke-width="1.5" fill="none"/>
<path d="M219.5 743.3V772M216.7 743.3h5.6M216.7 772h5.6" stroke="#000" stroke-width="1.5" fill="none"/>
<rect x="70.01" y="784.794" width="7.98" height="6.46" fill="#000"/>
<rect x="118.51" y="765.665" width="7.98" height="6.46" fill="#000"/>
<rect x="167.01" y="749.315" width="7.98" height="6.46" fill="#000"/>
<rect x="215.51" y="708.44" width="7.98" height="6.46" fill="#000"/>
<path d="M69.63 795.382l4.37 -3.99l4.37 3.99l-4.37 3.99z" fill="#000"/>
<path d="M118.13 779.359l4.37 -3.99l4.37 3.99l-4.37 3.99z" fill="#000"/>
<path d="M166.63 759.249l4.37 -3.99l4.37 3.99l-4.37 3.99z" fill="#000"/>
<path d="M215.13 714.94l4.37 -3.99l4.37 3.99l-4.37 3.99z" fill="#000"/>
<path d="M74 801.966l4.56 7.6h-9.12z" fill="#000"/>
<path d="M122.5 800.005l4.56 7.6h-9.12z" fill="#000"/>
<path d="M171 785.453l4.56 7.6h-9.12z" fill="#000"/>
<path d="M219.5 753.571l4.56 7.6h-9.12z" fill="#000"/>
<text x="63.7" y="703.8" font-size="14">- TGF-β1</text>
<text transform="translate(11,745) rotate(-90)" font-size="13.8" text-anchor="middle" textLength="106.5" lengthAdjust="spacing" stroke="#111" stroke-width="0.35">% specific lysis</text>
<path d="M226 715H230.5V758H226" stroke="#111" stroke-width="1.4" fill="none"/>
<text x="244" y="746" font-size="11" font-weight="bold"><tspan font-style="italic">P</tspan> &lt; .05</text>
<text x="3" y="866.2" font-size="12" textLength="15.8" lengthAdjust="spacingAndGlyphs">E:T</text><text x="27.3" y="866.2" font-size="12">ratio</text>
<text x="72.5" y="866.2" font-size="12" text-anchor="middle">1</text>
<text x="124.5" y="866.2" font-size="12" text-anchor="middle">2</text>
<text x="176" y="866.2" font-size="12" text-anchor="middle">5</text>
<text x="224" y="866.2" font-size="12" text-anchor="middle">20</text>
<path d="M282 674.5V839.2" stroke="#000" stroke-width="2.4" fill="none"/>
<path d="M281 839.2H485.5" stroke="#000" stroke-width="2" fill="none"/>
<path d="M484.4 675.5V839.2" stroke="#000" stroke-width="2.2" fill="none"/>
<path d="M281 675.5H485" stroke="#000" stroke-width="2.2" fill="none"/>
<path d="M485 675.5V839.2" stroke="#222" stroke-width="1.1" fill="none"/>
<polyline points="307.4,809.607 358.1,799.96 408.9,786.553 459.6,776.58" fill="none" stroke="#000" stroke-width="3.2" stroke-linejoin="round"/>
<polyline points="307.4,813.858 358.1,810.424 408.9,795.873 459.6,790.804" fill="none" stroke="#000" stroke-width="3.2" stroke-linejoin="round"/>
<polyline points="307.4,815.002 358.1,813.04 408.9,801.595 459.6,798.489" fill="none" stroke="#000" stroke-width="3.2" stroke-linejoin="round"/>
<path d="M307.4 806V813M304.6 806h5.6M304.6 813h5.6" stroke="#000" stroke-width="1.5" fill="none"/>
<path d="M307.4 811V822M304.6 811h5.6M304.6 822h5.6" stroke="#000" stroke-width="1.5" fill="none"/>
<path d="M358.1 796V804M355.3 796h5.6M355.3 804h5.6" stroke="#000" stroke-width="1.5" fill="none"/>
<path d="M358.1 806V821M355.3 806h5.6M355.3 821h5.6" stroke="#000" stroke-width="1.5" fill="none"/>
<path d="M408.9 778.5V791M406.1 778.5h5.6M406.1 791h5.6" stroke="#000" stroke-width="1.5" fill="none"/>
<path d="M408.9 790V801M406.1 790h5.6M406.1 801h5.6" stroke="#000" stroke-width="1.5" fill="none"/>
<path d="M408.9 797V810.6M406.1 797h5.6M406.1 810.6h5.6" stroke="#000" stroke-width="1.5" fill="none"/>
<path d="M459.6 768.3V783M456.8 768.3h5.6M456.8 783h5.6" stroke="#000" stroke-width="1.5" fill="none"/>
<path d="M459.6 786V795M456.8 786h5.6M456.8 795h5.6" stroke="#000" stroke-width="1.5" fill="none"/>
<path d="M459.6 793V805.4M456.8 793h5.6M456.8 805.4h5.6" stroke="#000" stroke-width="1.5" fill="none"/>
<rect x="303.41" y="806.377" width="7.98" height="6.46" fill="#000"/>
<rect x="354.11" y="796.73" width="7.98" height="6.46" fill="#000"/>
<rect x="404.91" y="783.323" width="7.98" height="6.46" fill="#000"/>
<rect x="455.61" y="773.35" width="7.98" height="6.46" fill="#000"/>
<path d="M303.03 813.858l4.37 -3.99l4.37 3.99l-4.37 3.99z" fill="#000"/>
<path d="M353.73 810.424l4.37 -3.99l4.37 3.99l-4.37 3.99z" fill="#000"/>
<path d="M404.53 795.873l4.37 -3.99l4.37 3.99l-4.37 3.99z" fill="#000"/>
<path d="M455.23 790.804l4.37 -3.99l4.37 3.99l-4.37 3.99z" fill="#000"/>
<path d="M307.4 810.632l4.56 7.6h-9.12z" fill="#000"/>
<path d="M358.1 808.67l4.56 7.6h-9.12z" fill="#000"/>
<path d="M408.9 797.225l4.56 7.6h-9.12z" fill="#000"/>
<path d="M459.6 794.119l4.56 7.6h-9.12z" fill="#000"/>
<text x="297.3" y="703.8" font-size="14">+ TGF-β1</text>
<path d="M468.3 771.6H473.6V799H468.3" stroke="#111" stroke-width="1.7" fill="none"/>
<text x="488.5" y="787.5" font-size="14">NS</text>
<text x="307.5" y="866" font-size="12" text-anchor="middle">1</text>
<text x="358.5" y="866" font-size="12" text-anchor="middle">2</text>
<text x="410" y="866" font-size="12" text-anchor="middle">5</text>
<text x="456.5" y="866" font-size="12" text-anchor="middle">20</text>
</g>
</svg></body></html>
